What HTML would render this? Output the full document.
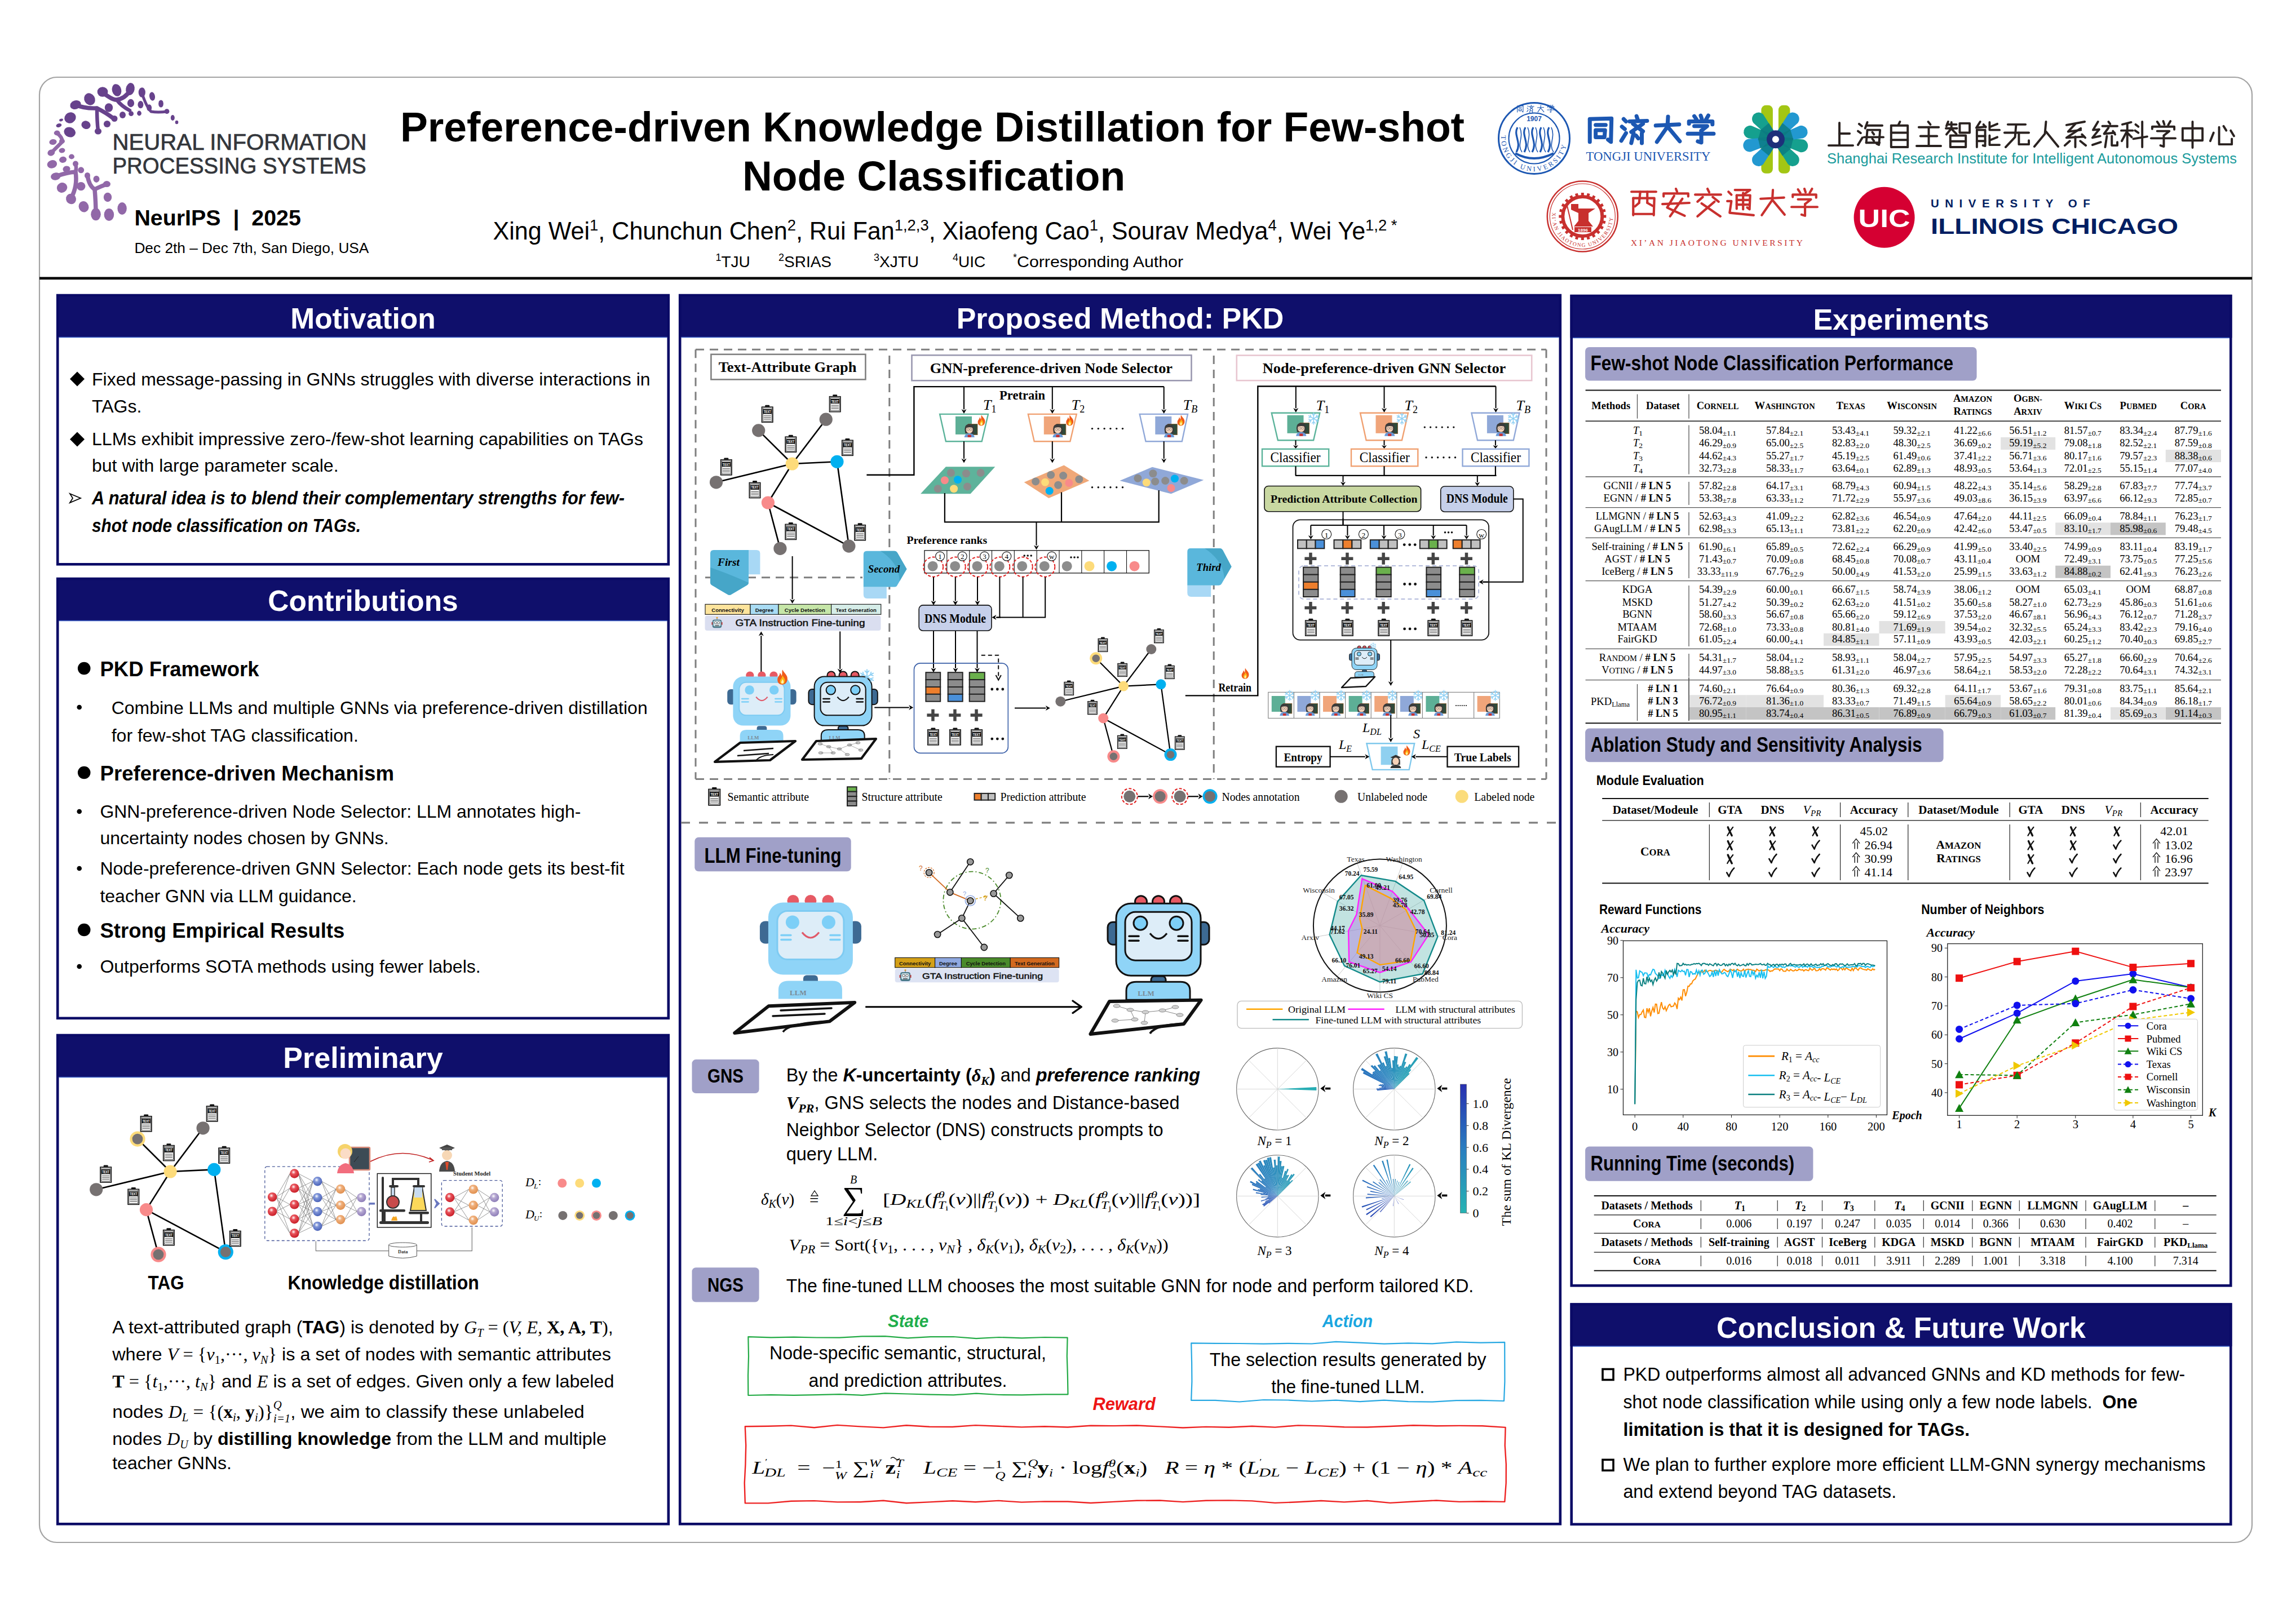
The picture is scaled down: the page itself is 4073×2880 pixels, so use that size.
<!DOCTYPE html>
<html><head><meta charset="utf-8"><title>PKD Poster</title>
<style>
html,body{margin:0;padding:0;background:#fff;}
svg{display:block;font-family:'Liberation Sans',sans-serif;}
</style></head>
<body>
<svg width="4073" height="2880" viewBox="0 0 4073 2880">
<rect x="0" y="0" width="4073" height="2880" fill="#fff"/>
<rect x="70.0" y="137.0" width="3925.0" height="2600.0" fill="#fff" stroke="#a3a3a3" stroke-width="2.2" rx="31"/>
<rect x="70.0" y="491.5" width="3925.0" height="4.6" fill="#000"/>
<ellipse cx="207.0" cy="160.0" rx="8.2" ry="11.0" fill="#67428c" transform="rotate(-15 207.0 160.0)" />
<ellipse cx="231.0" cy="158.0" rx="7.7" ry="11.0" fill="#67428c" transform="rotate(10 231.0 158.0)" />
<ellipse cx="182.0" cy="163.0" rx="9.4" ry="8.8" fill="#67428c" />
<ellipse cx="159.0" cy="176.0" rx="9.4" ry="11.0" fill="#67428c" transform="rotate(-30 159.0 176.0)" />
<ellipse cx="134.0" cy="186.0" rx="9.9" ry="7.7" fill="#67428c" transform="rotate(-20 134.0 186.0)" />
<ellipse cx="124.5" cy="209.0" rx="10.5" ry="9.4" fill="#67428c" transform="rotate(-30 124.5 209.0)" />
<ellipse cx="152.5" cy="221.7" rx="8.2" ry="7.2" fill="#67428c" transform="rotate(20 152.5 221.7)" />
<ellipse cx="123.7" cy="234.5" rx="10.5" ry="8.8" fill="#67428c" transform="rotate(20 123.7 234.5)" />
<ellipse cx="193.0" cy="191.0" rx="7.2" ry="7.7" fill="#67428c" />
<ellipse cx="190.0" cy="220.0" rx="6.1" ry="6.1" fill="#67428c" />
<ellipse cx="174.0" cy="233.0" rx="6.1" ry="5.5" fill="#67428c" />
<ellipse cx="203.0" cy="210.5" rx="5.5" ry="5.5" fill="#67428c" />
<ellipse cx="217.5" cy="204.0" rx="5.5" ry="6.1" fill="#67428c" />
<ellipse cx="232.0" cy="183.0" rx="6.1" ry="7.2" fill="#67428c" />
<ellipse cx="232.6" cy="201.7" rx="4.4" ry="4.4" fill="#67428c" />
<ellipse cx="249.4" cy="185.7" rx="5.0" ry="6.6" fill="#67428c" />
<ellipse cx="247.0" cy="201.0" rx="3.9" ry="4.4" fill="#67428c" />
<ellipse cx="251.8" cy="164.0" rx="6.1" ry="8.8" fill="#67428c" />
<ellipse cx="264.7" cy="191.3" rx="4.4" ry="6.1" fill="#67428c" />
<ellipse cx="270.0" cy="171.0" rx="5.0" ry="7.7" fill="#67428c" transform="rotate(-10 270.0 171.0)" />
<ellipse cx="285.5" cy="184.0" rx="4.4" ry="6.6" fill="#67428c" />
<ellipse cx="296.0" cy="197.7" rx="4.4" ry="4.4" fill="#67428c" />
<ellipse cx="306.3" cy="209.0" rx="3.5" ry="5.0" fill="#67428c" />
<ellipse cx="313.5" cy="217.0" rx="2.8" ry="3.3" fill="#67428c" />
<ellipse cx="108.5" cy="213.0" rx="3.5" ry="2.2" fill="#67428c" transform="rotate(-15 108.5 213.0)" />
<ellipse cx="104.4" cy="222.5" rx="5.0" ry="3.3" fill="#67428c" transform="rotate(-15 104.4 222.5)" />
<ellipse cx="101.2" cy="236.0" rx="5.5" ry="4.4" fill="#9168a8" />
<ellipse cx="94.0" cy="252.0" rx="6.6" ry="5.0" fill="#9168a8" transform="rotate(-10 94.0 252.0)" />
<ellipse cx="110.0" cy="250.5" rx="5.0" ry="4.4" fill="#9168a8" />
<ellipse cx="110.0" cy="267.0" rx="5.5" ry="4.4" fill="#9168a8" transform="rotate(-10 110.0 267.0)" />
<ellipse cx="90.8" cy="271.0" rx="6.6" ry="5.5" fill="#9168a8" transform="rotate(-20 90.8 271.0)" />
<ellipse cx="127.0" cy="278.0" rx="5.0" ry="4.4" fill="#9168a8" />
<ellipse cx="111.6" cy="283.4" rx="6.6" ry="5.5" fill="#9168a8" transform="rotate(-10 111.6 283.4)" />
<ellipse cx="92.4" cy="291.4" rx="8.8" ry="7.2" fill="#9168a8" transform="rotate(-15 92.4 291.4)" />
<ellipse cx="134.0" cy="290.6" rx="5.0" ry="5.0" fill="#9168a8" />
<ellipse cx="118.0" cy="300.0" rx="6.6" ry="5.5" fill="#9168a8" transform="rotate(-10 118.0 300.0)" />
<ellipse cx="143.7" cy="301.8" rx="5.5" ry="5.5" fill="#9168a8" />
<ellipse cx="98.8" cy="313.0" rx="8.8" ry="6.6" fill="#9168a8" transform="rotate(-10 98.8 313.0)" />
<ellipse cx="155.0" cy="311.4" rx="5.0" ry="5.5" fill="#9168a8" />
<ellipse cx="171.0" cy="317.8" rx="5.5" ry="6.1" fill="#9168a8" />
<ellipse cx="143.7" cy="330.6" rx="7.7" ry="7.7" fill="#9168a8" />
<ellipse cx="110.0" cy="333.0" rx="9.4" ry="8.8" fill="#9168a8" transform="rotate(-30 110.0 333.0)" />
<ellipse cx="189.4" cy="326.6" rx="6.6" ry="5.5" fill="#9168a8" />
<ellipse cx="191.0" cy="350.0" rx="7.2" ry="8.2" fill="#9168a8" />
<ellipse cx="126.0" cy="353.0" rx="8.8" ry="9.4" fill="#9168a8" transform="rotate(-30 126.0 353.0)" />
<ellipse cx="148.5" cy="366.7" rx="8.8" ry="9.9" fill="#9168a8" transform="rotate(-20 148.5 366.7)" />
<ellipse cx="170.0" cy="380.3" rx="8.8" ry="11.0" fill="#9168a8" />
<ellipse cx="193.4" cy="381.0" rx="8.8" ry="11.0" fill="#9168a8" />
<ellipse cx="216.6" cy="370.0" rx="8.2" ry="11.0" fill="#9168a8" />
<path d="M182,164 Q200,178 207,177 Q222,175 231,160" fill="none" stroke="#67428c" stroke-width="7.5" stroke-linecap="round"/>
<path d="M207,177 Q215,188 230,196" fill="none" stroke="#67428c" stroke-width="6.5" stroke-linecap="round"/>
<path d="M134,186 Q150,193 172,192 Q188,200 201,210" fill="none" stroke="#67428c" stroke-width="7.5" stroke-linecap="round"/>
<path d="M172,192 Q172,215 174,232" fill="none" stroke="#67428c" stroke-width="6.5" stroke-linecap="round"/>
<path d="M252,166 Q260,190 268,198 Q280,200 296,198" fill="none" stroke="#67428c" stroke-width="5" stroke-linecap="round"/>
<path d="M101,236 Q112,245 110,252 Q100,262 92,270" fill="none" stroke="#9168a8" stroke-width="6.5" stroke-linecap="round"/>
<path d="M99,313 Q118,306 134,305 Q138,330 126,352" fill="none" stroke="#9168a8" stroke-width="7.5" stroke-linecap="round"/>
<path d="M134,290 Q136,298 134,305" fill="none" stroke="#9168a8" stroke-width="6.5" stroke-linecap="round"/>
<path d="M155,311 Q158,330 168,336 Q180,330 189,327" fill="none" stroke="#9168a8" stroke-width="7.5" stroke-linecap="round"/>
<path d="M168,336 Q170,360 170,380" fill="none" stroke="#9168a8" stroke-width="7.5" stroke-linecap="round"/>
<text x="199.5" y="266.3" font-size="40.2" fill="#33363b" textLength="451" lengthAdjust="spacingAndGlyphs" stroke="#33363b" stroke-width="0.7">NEURAL INFORMATION</text>
<text x="199.5" y="307.8" font-size="40.2" fill="#33363b" textLength="450" lengthAdjust="spacingAndGlyphs" stroke="#33363b" stroke-width="0.7">PROCESSING SYSTEMS</text>
<text x="238.4" y="400.3" font-size="39.4" font-weight="bold" textLength="295.5" lengthAdjust="spacingAndGlyphs" xml:space="preserve">NeurIPS  |  2025</text>
<text x="238.4" y="448.7" font-size="25" textLength="416" lengthAdjust="spacingAndGlyphs">Dec 2th – Dec 7th, San Diego, USA</text>
<text x="710.0" y="251.0" font-size="73.2" font-weight="bold" textLength="1888" lengthAdjust="spacingAndGlyphs">Preference-driven Knowledge Distillation for Few-shot</text>
<text x="1317.0" y="338.3" font-size="73.2" font-weight="bold">Node Classification</text>
<text x="874.5" y="424.9" font-size="44" textLength="1604" lengthAdjust="spacingAndGlyphs">Xing Wei<tspan font-size="28" dy="-16">1</tspan><tspan dy="16">, Chunchun Chen</tspan><tspan font-size="28" dy="-16">2</tspan><tspan dy="16">, Rui Fan</tspan><tspan font-size="28" dy="-16">1,2,3</tspan><tspan dy="16">, Xiaofeng Cao</tspan><tspan font-size="28" dy="-16">1</tspan><tspan dy="16">, Sourav Medya</tspan><tspan font-size="28" dy="-16">4</tspan><tspan dy="16">, Wei Ye</tspan><tspan font-size="28" dy="-16">1,2 *</tspan></text>
<text x="1269.5" y="473.9" font-size="28"><tspan font-size="18" dy="-11">1</tspan><tspan dy="11">TJU</tspan></text>
<text x="1381" y="473.9" font-size="28"><tspan font-size="18" dy="-11">2</tspan><tspan dy="11">SRIAS</tspan></text>
<text x="1550" y="473.9" font-size="28"><tspan font-size="18" dy="-11">3</tspan><tspan dy="11">XJTU</tspan></text>
<text x="1690" y="473.9" font-size="28"><tspan font-size="18" dy="-11">4</tspan><tspan dy="11">UIC</tspan></text>
<text x="1797" y="473.9" font-size="28"><tspan font-size="18" dy="-11">*</tspan><tspan dy="11" textLength="295" lengthAdjust="spacingAndGlyphs">Corresponding Author</tspan></text>
<circle cx="2721.5" cy="245.5" r="63.0" fill="none" stroke="#1c57b2" stroke-width="3" />
<circle cx="2721.5" cy="245.5" r="45.0" fill="none" stroke="#1c57b2" stroke-width="2.2" />
<defs><path id="tjarc" d="M2665.0,230.4 A58.5,58.5 0 1 0 2778.0,230.4"/><path id="xjarc" d="M2756.6,365.5 A54,54 0 1 0 2858.0,365.5"/></defs>
<text font-family="'Liberation Serif',serif" font-size="12.5" fill="#1c57b2" letter-spacing="3.4"><textPath href="#tjarc" startOffset="10">TONGJI UNIVERSITY</textPath></text>
<text x="2721.5" y="215.0" font-size="12" font-weight="bold" fill="#1c57b2" text-anchor="middle">1907</text>
<path d="M2692,226 C2684,240 2700,252 2690,270" fill="none" stroke="#1c57b2" stroke-width="3.2" />
<path d="M2696,226 C2704,244 2690,256 2700,270" fill="none" stroke="#1c57b2" stroke-width="1.6" />
<path d="M2706,226 C2698,240 2714,252 2704,270" fill="none" stroke="#1c57b2" stroke-width="3.2" />
<path d="M2710,226 C2718,244 2704,256 2714,270" fill="none" stroke="#1c57b2" stroke-width="1.6" />
<path d="M2720,226 C2712,240 2728,252 2718,270" fill="none" stroke="#1c57b2" stroke-width="3.2" />
<path d="M2724,226 C2732,244 2718,256 2728,270" fill="none" stroke="#1c57b2" stroke-width="1.6" />
<path d="M2734,226 C2726,240 2742,252 2732,270" fill="none" stroke="#1c57b2" stroke-width="3.2" />
<path d="M2738,226 C2746,244 2732,256 2742,270" fill="none" stroke="#1c57b2" stroke-width="1.6" />
<path d="M2748,226 C2740,240 2756,252 2746,270" fill="none" stroke="#1c57b2" stroke-width="3.2" />
<path d="M2752,226 C2760,244 2746,256 2756,270" fill="none" stroke="#1c57b2" stroke-width="1.6" />
<path d="M2688,272 Q2721,290 2756,272" fill="none" stroke="#1c57b2" stroke-width="4" />
<g transform="translate(2690.0,186.0) scale(0.1400)" fill="none" stroke="#1c57b2" stroke-width="8" stroke-linecap="round" stroke-linejoin="round"><path d="M12,16 L12,92"/><path d="M12,14 L86,12 L84,92 L74,84"/><path d="M32,34 L66,34"/><path d="M32,52 L64,52 L62,76 L32,76 Z"/></g>
<g transform="translate(2708.0,186.0) scale(0.1400)" fill="none" stroke="#1c57b2" stroke-width="8" stroke-linecap="round" stroke-linejoin="round"><path d="M14,14 L22,22"/><path d="M8,40 L18,48"/><path d="M6,88 L22,62"/><path d="M58,4 L62,16"/><path d="M34,22 L94,20"/><path d="M46,30 L80,56"/><path d="M80,30 L40,58"/><path d="M48,62 L40,96"/><path d="M76,62 L76,96"/><path d="M56,70 L64,80"/></g>
<g transform="translate(2726.0,186.0) scale(0.1400)" fill="none" stroke="#1c57b2" stroke-width="8" stroke-linecap="round" stroke-linejoin="round"><path d="M10,36 L90,32"/><path d="M52,6 L50,40 L14,92"/><path d="M52,42 L92,90"/></g>
<g transform="translate(2744.0,186.0) scale(0.1400)" fill="none" stroke="#1c57b2" stroke-width="8" stroke-linecap="round" stroke-linejoin="round"><path d="M28,4 L36,16"/><path d="M50,2 L54,14"/><path d="M76,2 L68,16"/><path d="M10,30 L10,22 L90,22 L90,32"/><path d="M28,38 L72,38 L52,54"/><path d="M6,64 L94,64"/><path d="M52,54 L52,94 L40,90"/></g>
<g transform="translate(2814.0,204.0) scale(0.5200)" fill="none" stroke="#1c57b2" stroke-width="13.5" stroke-linecap="round" stroke-linejoin="round"><path d="M12,16 L12,92"/><path d="M12,14 L86,12 L84,92 L74,84"/><path d="M32,34 L66,34"/><path d="M32,52 L64,52 L62,76 L32,76 Z"/></g>
<g transform="translate(2873.0,204.0) scale(0.5200)" fill="none" stroke="#1c57b2" stroke-width="13.5" stroke-linecap="round" stroke-linejoin="round"><path d="M14,14 L22,22"/><path d="M8,40 L18,48"/><path d="M6,88 L22,62"/><path d="M58,4 L62,16"/><path d="M34,22 L94,20"/><path d="M46,30 L80,56"/><path d="M80,30 L40,58"/><path d="M48,62 L40,96"/><path d="M76,62 L76,96"/><path d="M56,70 L64,80"/></g>
<g transform="translate(2932.0,204.0) scale(0.5200)" fill="none" stroke="#1c57b2" stroke-width="13.5" stroke-linecap="round" stroke-linejoin="round"><path d="M10,36 L90,32"/><path d="M52,6 L50,40 L14,92"/><path d="M52,42 L92,90"/></g>
<g transform="translate(2991.0,204.0) scale(0.5200)" fill="none" stroke="#1c57b2" stroke-width="13.5" stroke-linecap="round" stroke-linejoin="round"><path d="M28,4 L36,16"/><path d="M50,2 L54,14"/><path d="M76,2 L68,16"/><path d="M10,30 L10,22 L90,22 L90,32"/><path d="M28,38 L72,38 L52,54"/><path d="M6,64 L94,64"/><path d="M52,54 L52,94 L40,90"/></g>
<text x="2813.5" y="284.7" font-size="22.5" font-family="'Liberation Serif', serif" fill="#1c57b2" textLength="221" lengthAdjust="spacingAndGlyphs">TONGJI UNIVERSITY</text>
<rect x="3124.4" y="186.8" width="20.5" height="121.0" fill="#a3c614" rx="8"/>
<rect x="3154.9" y="186.8" width="20.5" height="121.0" fill="#a3c614" rx="8"/>
<path d="M3153.7,244.1 L3128.2,203.5 A11.5,11.5 0 0 0 3110.6,218.3 L3146.1,250.5 Z" fill="#15a08e" />
<path d="M3151.3,242.5 L3107.4,223.2 A11.5,11.5 0 0 0 3101.1,245.3 L3148.5,252.1 Z" fill="#15a08e" />
<path d="M3148.8,242.4 L3101.0,246.8 A11.5,11.5 0 0 0 3106.2,269.2 L3151.0,252.2 Z" fill="#2298d0" />
<path d="M3146.1,244.1 L3110.6,276.3 A11.5,11.5 0 0 0 3128.2,291.1 L3153.7,250.5 Z" fill="#2298d0" />
<path d="M3146.1,250.5 L3171.6,291.1 A11.5,11.5 0 0 0 3189.2,276.3 L3153.7,244.1 Z" fill="#15a08e" />
<path d="M3148.7,252.2 L3193.2,269.9 A11.5,11.5 0 0 0 3198.8,247.6 L3151.1,242.4 Z" fill="#15a08e" />
<path d="M3151.3,252.1 L3198.7,245.3 A11.5,11.5 0 0 0 3192.4,223.2 L3148.5,242.5 Z" fill="#2298d0" />
<path d="M3153.7,250.5 L3189.2,218.3 A11.5,11.5 0 0 0 3171.6,203.5 L3146.1,244.1 Z" fill="#2298d0" />
<path d="M3154.1,243.8 L3137.9,218.2 L3123.3,230.4 L3145.7,250.8 Z" fill="#0b7a80" opacity="0.8"/>
<path d="M3151.4,242.0 L3123.7,229.9 L3118.4,248.2 L3148.4,252.6 Z" fill="#0b7a80" opacity="0.8"/>
<path d="M3148.7,241.9 L3118.5,244.8 L3122.8,263.3 L3151.1,252.7 Z" fill="#0b7a80" opacity="0.8"/>
<path d="M3145.7,243.8 L3123.3,264.2 L3137.9,276.4 L3154.1,250.8 Z" fill="#0b7a80" opacity="0.8"/>
<path d="M3145.7,250.8 L3161.9,276.4 L3176.5,264.2 L3154.1,243.8 Z" fill="#0b7a80" opacity="0.8"/>
<path d="M3148.6,252.6 L3176.7,263.8 L3181.3,245.3 L3151.2,242.0 Z" fill="#0b7a80" opacity="0.8"/>
<path d="M3151.4,252.6 L3181.4,248.2 L3176.1,229.9 L3148.4,242.0 Z" fill="#0b7a80" opacity="0.8"/>
<path d="M3154.1,250.8 L3176.5,230.4 L3161.9,218.2 L3145.7,243.8 Z" fill="#0b7a80" opacity="0.8"/>
<circle cx="3149.9" cy="247.3" r="16.0" fill="#1d2f7a" />
<circle cx="3149.9" cy="247.3" r="6.0" fill="#fff" />
<g transform="translate(3241.0,214.0) scale(0.4900)" fill="none" stroke="#2a2220" stroke-width="8" stroke-linecap="round" stroke-linejoin="round"><path d="M45,8 L45,90"/><path d="M45,47 L82,47"/><path d="M6,90 L94,90"/></g>
<g transform="translate(3293.0,214.0) scale(0.4900)" fill="none" stroke="#2a2220" stroke-width="8" stroke-linecap="round" stroke-linejoin="round"><path d="M10,12 L20,20"/><path d="M6,38 L16,45"/><path d="M6,88 L22,62"/><path d="M40,6 L32,28"/><path d="M36,18 L94,18"/><path d="M40,34 L86,34 L82,88 L74,84"/><path d="M40,34 L36,80"/><path d="M28,60 L98,60"/><path d="M36,80 L84,80"/><path d="M58,42 L64,50"/><path d="M58,66 L64,74"/></g>
<g transform="translate(3345.0,214.0) scale(0.4900)" fill="none" stroke="#2a2220" stroke-width="8" stroke-linecap="round" stroke-linejoin="round"><path d="M52,4 L46,16"/><path d="M20,18 L80,18 L80,96"/><path d="M20,18 L20,96 L80,96"/><path d="M20,44 L80,44"/><path d="M20,70 L80,70"/></g>
<g transform="translate(3397.0,214.0) scale(0.4900)" fill="none" stroke="#2a2220" stroke-width="8" stroke-linecap="round" stroke-linejoin="round"><path d="M48,4 L56,14"/><path d="M14,24 L86,24"/><path d="M20,56 L80,56"/><path d="M6,92 L94,92"/><path d="M50,24 L50,92"/></g>
<g transform="translate(3449.0,214.0) scale(0.4900)" fill="none" stroke="#2a2220" stroke-width="8" stroke-linecap="round" stroke-linejoin="round"><path d="M14,4 L8,20"/><path d="M10,14 L44,14"/><path d="M6,28 L46,28"/><path d="M26,6 L26,28 L8,50"/><path d="M28,32 L44,48"/><path d="M56,10 L92,10 L92,44 L56,44 Z"/><path d="M22,54 L78,54 L78,96 L22,96 Z"/><path d="M22,75 L78,75"/></g>
<g transform="translate(3501.0,214.0) scale(0.4900)" fill="none" stroke="#2a2220" stroke-width="8" stroke-linecap="round" stroke-linejoin="round"><path d="M24,4 L10,26 L44,22"/><path d="M36,14 L44,24"/><path d="M12,34 L12,96"/><path d="M12,34 L42,34 L42,92 L34,90"/><path d="M12,56 L42,56"/><path d="M12,74 L42,74"/><path d="M58,6 L58,34 L94,34"/><path d="M86,12 L62,22"/><path d="M58,54 L58,88 L94,88"/><path d="M86,60 L62,70"/></g>
<g transform="translate(3553.0,214.0) scale(0.4900)" fill="none" stroke="#2a2220" stroke-width="8" stroke-linecap="round" stroke-linejoin="round"><path d="M18,14 L82,14"/><path d="M6,44 L94,44"/><path d="M48,14 L44,60 L10,96"/><path d="M58,44 L58,86 L94,86 L94,72"/></g>
<g transform="translate(3605.0,214.0) scale(0.4900)" fill="none" stroke="#2a2220" stroke-width="8" stroke-linecap="round" stroke-linejoin="round"><path d="M50,4 L46,48 L8,94"/><path d="M50,40 L94,94"/></g>
<g transform="translate(3657.0,214.0) scale(0.4900)" fill="none" stroke="#2a2220" stroke-width="8" stroke-linecap="round" stroke-linejoin="round"><path d="M84,4 L18,16"/><path d="M50,12 L24,40 L70,34"/><path d="M70,28 L18,62 L82,58"/><path d="M74,50 L86,62"/><path d="M50,58 L50,96"/><path d="M30,74 L12,90"/><path d="M68,74 L88,90"/></g>
<g transform="translate(3709.0,214.0) scale(0.4900)" fill="none" stroke="#2a2220" stroke-width="8" stroke-linecap="round" stroke-linejoin="round"><path d="M26,4 L8,34 L30,32"/><path d="M30,32 L6,62 L34,56"/><path d="M6,88 L36,78"/><path d="M64,4 L70,12"/><path d="M42,20 L96,20"/><path d="M64,26 L48,48 L86,44"/><path d="M80,38 L88,50"/><path d="M58,56 L52,96"/><path d="M76,56 L76,90 L96,90 L96,78"/></g>
<g transform="translate(3761.0,214.0) scale(0.4900)" fill="none" stroke="#2a2220" stroke-width="8" stroke-linecap="round" stroke-linejoin="round"><path d="M40,6 L8,14"/><path d="M4,36 L46,36"/><path d="M26,10 L26,96"/><path d="M24,40 L6,74"/><path d="M28,46 L42,60"/><path d="M56,14 L66,22"/><path d="M54,36 L66,44"/><path d="M48,66 L98,58"/><path d="M80,4 L80,96"/></g>
<g transform="translate(3813.0,214.0) scale(0.4900)" fill="none" stroke="#2a2220" stroke-width="8" stroke-linecap="round" stroke-linejoin="round"><path d="M28,4 L36,16"/><path d="M50,2 L54,14"/><path d="M76,2 L68,16"/><path d="M10,30 L10,22 L90,22 L90,32"/><path d="M28,38 L72,38 L52,54"/><path d="M6,64 L94,64"/><path d="M52,54 L52,94 L40,90"/></g>
<g transform="translate(3865.0,214.0) scale(0.4900)" fill="none" stroke="#2a2220" stroke-width="8" stroke-linecap="round" stroke-linejoin="round"><path d="M14,28 L86,28 L86,70"/><path d="M14,28 L14,72 L86,72"/><path d="M50,4 L50,98"/></g>
<g transform="translate(3917.0,214.0) scale(0.4900)" fill="none" stroke="#2a2220" stroke-width="8" stroke-linecap="round" stroke-linejoin="round"><path d="M20,44 L8,74"/><path d="M40,24 L40,86 L86,86 L86,66"/><path d="M56,20 L66,36"/><path d="M82,36 L94,56"/></g>
<text x="3241.0" y="290.3" font-size="25.5" fill="#1a9b9c" textLength="727" lengthAdjust="spacingAndGlyphs">Shanghai Research Institute for Intelligent Autonomous Systems</text>
<circle cx="2807.3" cy="384.0" r="62.5" fill="none" stroke="#c8302e" stroke-width="2.5" />
<circle cx="2807.3" cy="384.0" r="58.0" fill="none" stroke="#c8302e" stroke-width="1.2" />
<line x1="2841.3" y1="384.0" x2="2849.3" y2="384.0" stroke="#c8302e" stroke-width="5" />
<line x1="2840.1" y1="392.8" x2="2847.9" y2="394.9" stroke="#c8302e" stroke-width="5" />
<line x1="2836.7" y1="401.0" x2="2843.7" y2="405.0" stroke="#c8302e" stroke-width="5" />
<line x1="2831.3" y1="408.0" x2="2837.0" y2="413.7" stroke="#c8302e" stroke-width="5" />
<line x1="2824.3" y1="413.4" x2="2828.3" y2="420.4" stroke="#c8302e" stroke-width="5" />
<line x1="2816.1" y1="416.8" x2="2818.2" y2="424.6" stroke="#c8302e" stroke-width="5" />
<line x1="2807.3" y1="418.0" x2="2807.3" y2="426.0" stroke="#c8302e" stroke-width="5" />
<line x1="2798.5" y1="416.8" x2="2796.4" y2="424.6" stroke="#c8302e" stroke-width="5" />
<line x1="2790.3" y1="413.4" x2="2786.3" y2="420.4" stroke="#c8302e" stroke-width="5" />
<line x1="2783.3" y1="408.0" x2="2777.6" y2="413.7" stroke="#c8302e" stroke-width="5" />
<line x1="2777.9" y1="401.0" x2="2770.9" y2="405.0" stroke="#c8302e" stroke-width="5" />
<line x1="2774.5" y1="392.8" x2="2766.7" y2="394.9" stroke="#c8302e" stroke-width="5" />
<line x1="2773.3" y1="384.0" x2="2765.3" y2="384.0" stroke="#c8302e" stroke-width="5" />
<line x1="2774.5" y1="375.2" x2="2766.7" y2="373.1" stroke="#c8302e" stroke-width="5" />
<line x1="2777.9" y1="367.0" x2="2770.9" y2="363.0" stroke="#c8302e" stroke-width="5" />
<line x1="2783.3" y1="360.0" x2="2777.6" y2="354.3" stroke="#c8302e" stroke-width="5" />
<line x1="2790.3" y1="354.6" x2="2786.3" y2="347.6" stroke="#c8302e" stroke-width="5" />
<line x1="2798.5" y1="351.2" x2="2796.4" y2="343.4" stroke="#c8302e" stroke-width="5" />
<line x1="2807.3" y1="350.0" x2="2807.3" y2="342.0" stroke="#c8302e" stroke-width="5" />
<line x1="2816.1" y1="351.2" x2="2818.2" y2="343.4" stroke="#c8302e" stroke-width="5" />
<line x1="2824.3" y1="354.6" x2="2828.3" y2="347.6" stroke="#c8302e" stroke-width="5" />
<line x1="2831.3" y1="360.0" x2="2837.0" y2="354.3" stroke="#c8302e" stroke-width="5" />
<line x1="2836.7" y1="367.0" x2="2843.7" y2="363.0" stroke="#c8302e" stroke-width="5" />
<line x1="2840.1" y1="375.2" x2="2847.9" y2="373.1" stroke="#c8302e" stroke-width="5" />
<circle cx="2807.3" cy="384.0" r="35.0" fill="none" stroke="#c8302e" stroke-width="6" />
<path d="M2787,362 L2800,362 L2800,370 L2830,370 L2818,378 L2818,392 L2826,402 L2792,402 L2800,392 L2800,378 L2787,372 Z" fill="#c8302e" />
<rect x="2793.0" y="403.0" width="30.0" height="9.0" fill="#c8302e"/>
<text x="2808.0" y="411.0" font-size="8" font-weight="bold" fill="#fff" text-anchor="middle">1896</text>
<line x1="2780.0" y1="365.0" x2="2790.0" y2="408.0" stroke="#c8302e" stroke-width="2" />
<text font-family="'Liberation Serif',serif" font-size="9.5" fill="#c8302e" letter-spacing="1.6"><textPath href="#xjarc" startOffset="12">XI’AN JIAOTONG UNIVERSITY</textPath></text>
<g transform="translate(2890.0,334.0) scale(0.5200)" fill="none" stroke="#c8302e" stroke-width="8" stroke-linecap="round" stroke-linejoin="round"><path d="M8,12 L92,12"/><path d="M38,12 L34,50"/><path d="M62,12 L62,50"/><path d="M14,34 L14,92"/><path d="M14,34 L86,34 L84,92"/><path d="M14,88 L84,88"/><path d="M34,50 L20,62"/><path d="M62,50 L80,60"/></g>
<g transform="translate(2947.0,334.0) scale(0.5200)" fill="none" stroke="#c8302e" stroke-width="8" stroke-linecap="round" stroke-linejoin="round"><path d="M50,2 L54,12"/><path d="M8,28 L8,18 L92,18 L92,28"/><path d="M44,26 L20,66 L80,94"/><path d="M72,36 L30,96"/><path d="M4,54 L96,50"/></g>
<g transform="translate(3004.0,334.0) scale(0.5200)" fill="none" stroke="#c8302e" stroke-width="8" stroke-linecap="round" stroke-linejoin="round"><path d="M48,2 L54,14"/><path d="M6,22 L94,22"/><path d="M32,30 L14,46"/><path d="M66,30 L86,46"/><path d="M72,46 L14,96"/><path d="M28,52 L92,96"/></g>
<g transform="translate(3061.0,334.0) scale(0.5200)" fill="none" stroke="#c8302e" stroke-width="8" stroke-linecap="round" stroke-linejoin="round"><path d="M32,6 L84,6 L64,20"/><path d="M38,24 L38,70"/><path d="M38,24 L84,24 L82,72 L74,66"/><path d="M38,40 L82,40"/><path d="M38,56 L82,56"/><path d="M60,16 L60,72"/><path d="M10,12 L20,22"/><path d="M6,44 L20,44 L14,84 L96,92"/></g>
<g transform="translate(3118.0,334.0) scale(0.5200)" fill="none" stroke="#c8302e" stroke-width="8" stroke-linecap="round" stroke-linejoin="round"><path d="M10,36 L90,32"/><path d="M52,6 L50,40 L14,92"/><path d="M52,42 L92,90"/></g>
<g transform="translate(3175.0,334.0) scale(0.5200)" fill="none" stroke="#c8302e" stroke-width="8" stroke-linecap="round" stroke-linejoin="round"><path d="M28,4 L36,16"/><path d="M50,2 L54,14"/><path d="M76,2 L68,16"/><path d="M10,30 L10,22 L90,22 L90,32"/><path d="M28,38 L72,38 L52,54"/><path d="M6,64 L94,64"/><path d="M52,54 L52,94 L40,90"/></g>
<text x="2893.0" y="436.0" font-size="15.5" font-family="'Liberation Serif', serif" fill="#c8302e" letter-spacing="3.5">XI’AN JIAOTONG UNIVERSITY</text>
<circle cx="3342.6" cy="385.8" r="54.0" fill="#d50032" />
<text x="3342.6" y="403.0" font-size="44" font-weight="bold" fill="#fff" text-anchor="middle" textLength="92" lengthAdjust="spacingAndGlyphs">UIC</text>
<text x="3425.0" y="367.5" font-size="20.5" font-weight="bold" fill="#001e62" letter-spacing="10.5">UNIVERSITY OF</text>
<text x="3425.0" y="414.5" font-size="38.5" font-weight="bold" fill="#001e62" textLength="439" lengthAdjust="spacingAndGlyphs">ILLINOIS CHICAGO</text>
<rect x="100.0" y="522.0" width="1088.0" height="76.5" fill="#0f0f6b"/>
<rect x="102.2" y="524.0" width="1083.6" height="477.3" fill="none" stroke="#0a0a66" stroke-width="4.6"/>
<line x1="104.6" y1="598.5" x2="1183.4" y2="598.5" stroke="#3c62c8" stroke-width="1.6" />
<text x="644.0" y="582.8" font-size="52" font-weight="bold" fill="#fff" text-anchor="middle" textLength="257.5" lengthAdjust="spacingAndGlyphs">Motivation</text>
<rect x="100.0" y="1025.0" width="1088.0" height="76.5" fill="#0f0f6b"/>
<rect x="102.2" y="1027.0" width="1083.6" height="779.8" fill="none" stroke="#0a0a66" stroke-width="4.6"/>
<line x1="104.6" y1="1101.5" x2="1183.4" y2="1101.5" stroke="#3c62c8" stroke-width="1.6" />
<text x="644.0" y="1084.0" font-size="52" font-weight="bold" fill="#fff" text-anchor="middle" textLength="337.5" lengthAdjust="spacingAndGlyphs">Contributions</text>
<rect x="100.0" y="1835.0" width="1088.0" height="76.5" fill="#0f0f6b"/>
<rect x="102.2" y="1837.0" width="1083.6" height="867.3" fill="none" stroke="#0a0a66" stroke-width="4.6"/>
<line x1="104.6" y1="1911.5" x2="1183.4" y2="1911.5" stroke="#3c62c8" stroke-width="1.6" />
<text x="644.0" y="1894.5" font-size="52" font-weight="bold" fill="#fff" text-anchor="middle">Preliminary</text>
<rect x="1204.0" y="522.0" width="1566.0" height="76.5" fill="#0f0f6b"/>
<rect x="1206.2" y="524.0" width="1561.6" height="2180.3" fill="none" stroke="#0a0a66" stroke-width="4.6"/>
<line x1="1208.6" y1="598.5" x2="2765.4" y2="598.5" stroke="#3c62c8" stroke-width="1.6" />
<text x="1987.0" y="582.8" font-size="52" font-weight="bold" fill="#fff" text-anchor="middle">Proposed Method: PKD</text>
<rect x="2785.5" y="523.0" width="1174.0" height="76.5" fill="#0f0f6b"/>
<rect x="2787.7" y="525.0" width="1169.6" height="1756.3" fill="none" stroke="#0a0a66" stroke-width="4.6"/>
<line x1="2790.1" y1="599.5" x2="3954.9" y2="599.5" stroke="#3c62c8" stroke-width="1.6" />
<text x="3372.5" y="584.5" font-size="52" font-weight="bold" fill="#fff" text-anchor="middle">Experiments</text>
<rect x="2785.5" y="2312.5" width="1174.0" height="76.5" fill="#0f0f6b"/>
<rect x="2787.7" y="2314.5" width="1169.6" height="390.3" fill="none" stroke="#0a0a66" stroke-width="4.6"/>
<line x1="2790.1" y1="2389.0" x2="3954.9" y2="2389.0" stroke="#3c62c8" stroke-width="1.6" />
<text x="3372.5" y="2373.5" font-size="52" font-weight="bold" fill="#fff" text-anchor="middle">Conclusion &amp; Future Work</text>
<defs>
<symbol id="doc" viewBox="0 0 21 31" overflow="visible">
 <rect x="6.5" y="0" width="8" height="3" rx="1.2" fill="#111"/>
 <path d="M6.5,3 L10.5,6.5 L14.5,3" fill="none" stroke="#111" stroke-width="1.2"/>
 <rect x="0.8" y="3.4" width="19.4" height="27" fill="#fff" stroke="#111" stroke-width="1.6"/>
 <rect x="2.6" y="5.4" width="15.8" height="23" fill="none" stroke="#111" stroke-width="0.7"/>
 <rect x="2.6" y="7.2" width="15.8" height="8.6" fill="#111"/>
 <text x="10.5" y="14.3" font-size="6.6" font-weight="bold" fill="#fff" text-anchor="middle" textLength="13" lengthAdjust="spacingAndGlyphs">TEXT</text>
 <rect x="4" y="18.2" width="13" height="1.5" fill="#777"/>
 <rect x="4" y="21.2" width="13" height="1.5" fill="#777"/>
 <rect x="4" y="24.2" width="13" height="1.5" fill="#777"/>
</symbol>
<radialGradient id="gRed" cx="0.4" cy="0.35" r="0.65"><stop offset="0" stop-color="#fff"/><stop offset="0.35" stop-color="#e8525a"/><stop offset="1" stop-color="#c81e28"/></radialGradient>
<radialGradient id="gBlue" cx="0.4" cy="0.35" r="0.65"><stop offset="0" stop-color="#fff"/><stop offset="0.35" stop-color="#7f95d8"/><stop offset="1" stop-color="#4a62b8"/></radialGradient>
<radialGradient id="gOr" cx="0.4" cy="0.35" r="0.65"><stop offset="0" stop-color="#fff"/><stop offset="0.35" stop-color="#f0b07c"/><stop offset="1" stop-color="#e08f4e"/></radialGradient>
<radialGradient id="gPu" cx="0.4" cy="0.35" r="0.65"><stop offset="0" stop-color="#fff"/><stop offset="0.35" stop-color="#b6a8d2"/><stop offset="1" stop-color="#8d7db8"/></radialGradient>
</defs>
<path d="M137,659.5 L150,672.5 L137,685.5 L124,672.5 Z" fill="#000" />
<path d="M137,766.5 L150,779.5 L137,792.5 L124,779.5 Z" fill="#000" />
<text x="163.0" y="683.7" font-size="32" textLength="990.6" lengthAdjust="spacingAndGlyphs">Fixed message-passing in GNNs struggles with diverse interactions in</text>
<text x="163.0" y="731.8" font-size="32">TAGs.</text>
<text x="163.0" y="790.4" font-size="32" textLength="978" lengthAdjust="spacingAndGlyphs">LLMs exhibit impressive zero-/few-shot learning capabilities on TAGs</text>
<text x="163.0" y="837.4" font-size="32">but with large parameter scale.</text>
<path d="M124,876 L143,884 L124,892 L129,884 Z" fill="none" stroke="#000" stroke-width="1.8" />
<text x="163.0" y="895.0" font-size="32.5" font-weight="bold" font-style="italic" textLength="945" lengthAdjust="spacingAndGlyphs">A natural idea is to blend their complementary strengths for few-</text>
<text x="163.0" y="943.5" font-size="32.5" font-weight="bold" font-style="italic" textLength="477" lengthAdjust="spacingAndGlyphs">shot node classification on TAGs.</text>
<circle cx="149.2" cy="1186.0" r="11.3" fill="#000" />
<text x="177.5" y="1200.0" font-size="36.5" font-weight="bold" textLength="282" lengthAdjust="spacingAndGlyphs">PKD Framework</text>
<circle cx="149.2" cy="1371.0" r="11.3" fill="#000" />
<text x="177.5" y="1385.0" font-size="36.5" font-weight="bold" textLength="521.5" lengthAdjust="spacingAndGlyphs">Preference-driven Mechanism</text>
<circle cx="149.2" cy="1650.0" r="11.3" fill="#000" />
<text x="177.5" y="1664.0" font-size="36.5" font-weight="bold" textLength="433.8" lengthAdjust="spacingAndGlyphs">Strong Empirical Results</text>
<circle cx="140.7" cy="1255.0" r="4.3" fill="#000" />
<circle cx="140.7" cy="1440.0" r="4.3" fill="#000" />
<circle cx="140.7" cy="1541.0" r="4.3" fill="#000" />
<circle cx="140.7" cy="1715.0" r="4.3" fill="#000" />
<text x="197.7" y="1267.0" font-size="32" textLength="951" lengthAdjust="spacingAndGlyphs">Combine LLMs and multiple GNNs via preference-driven distillation</text>
<text x="197.7" y="1315.5" font-size="32">for few-shot TAG classification.</text>
<text x="177.4" y="1451.2" font-size="32" textLength="853" lengthAdjust="spacingAndGlyphs">GNN-preference-driven Node Selector: LLM annotates high-</text>
<text x="177.4" y="1498.0" font-size="32">uncertainty nodes chosen by GNNs.</text>
<text x="177.4" y="1552.3" font-size="32">Node-preference-driven GNN Selector: Each node gets its best-fit</text>
<text x="177.4" y="1600.6" font-size="32">teacher GNN via LLM guidance.</text>
<text x="177.4" y="1726.3" font-size="32">Outperforms SOTA methods using fewer labels.</text>
<line x1="302.1" y1="2079.0" x2="170.7" y2="2110.8" stroke="#000" stroke-width="2.6" />
<line x1="302.1" y1="2079.0" x2="244.0" y2="2021.1" stroke="#000" stroke-width="2.6" />
<line x1="302.1" y1="2079.0" x2="360.1" y2="2001.8" stroke="#000" stroke-width="2.6" />
<line x1="302.1" y1="2079.0" x2="379.8" y2="2075.4" stroke="#000" stroke-width="2.6" />
<line x1="302.1" y1="2079.0" x2="259.5" y2="2146.6" stroke="#000" stroke-width="2.6" />
<line x1="259.5" y1="2146.6" x2="281.0" y2="2226.1" stroke="#000" stroke-width="2.6" />
<line x1="259.5" y1="2146.6" x2="400.3" y2="2221.6" stroke="#000" stroke-width="2.6" />
<line x1="379.8" y1="2075.4" x2="400.3" y2="2221.6" stroke="#000" stroke-width="2.6" />
<circle cx="302.1" cy="2079.0" r="11.6" fill="#fddb7a" />
<circle cx="170.7" cy="2110.8" r="11.6" fill="#767171" />
<circle cx="244.0" cy="2021.1" r="13.6" fill="#fddb7a" />
<circle cx="244.0" cy="2021.1" r="9.4" fill="#767171" />
<circle cx="360.1" cy="2001.8" r="11.6" fill="#767171" />
<circle cx="379.8" cy="2075.4" r="11.6" fill="#00b0f0" />
<circle cx="259.5" cy="2146.6" r="11.6" fill="#f88a8a" />
<circle cx="281.0" cy="2226.1" r="13.6" fill="#f88a8a" />
<circle cx="281.0" cy="2226.1" r="9.4" fill="#767171" />
<circle cx="400.3" cy="2221.6" r="13.6" fill="#00b0f0" />
<circle cx="400.3" cy="2221.6" r="9.4" fill="#767171" />
<use href="#doc" x="248.7" y="1977.4" width="21.0" height="31.0"/>
<use href="#doc" x="365.7" y="1959.5" width="21.0" height="31.0"/>
<use href="#doc" x="288.9" y="2029.2" width="21.0" height="31.0"/>
<use href="#doc" x="387.2" y="2033.7" width="21.0" height="31.0"/>
<use href="#doc" x="177.2" y="2067.6" width="21.0" height="31.0"/>
<use href="#doc" x="226.3" y="2106.9" width="21.0" height="31.0"/>
<use href="#doc" x="288.9" y="2179.3" width="21.0" height="31.0"/>
<use href="#doc" x="406.8" y="2181.1" width="21.0" height="31.0"/>
<text x="262.6" y="2288.0" font-size="35" font-weight="bold" textLength="64" lengthAdjust="spacingAndGlyphs">TAG</text>
<text x="510.4" y="2288.0" font-size="35" font-weight="bold" textLength="339.4" lengthAdjust="spacingAndGlyphs">Knowledge distillation</text>
<rect x="469.8" y="2070.2" width="185.2" height="131.3" fill="none" stroke="#4a5a9a" stroke-width="1.3" rx="4" stroke-dasharray="5,4"/>
<rect x="783.4" y="2094.7" width="107.8" height="81.3" fill="none" stroke="#4a5a9a" stroke-width="1.3" rx="4" stroke-dasharray="5,4"/>
<line x1="490.1" y1="2124.1" x2="514.3" y2="2082.5" stroke="#6a6a6a" stroke-width="0.7" />
<line x1="490.1" y1="2124.1" x2="514.3" y2="2108.4" stroke="#6a6a6a" stroke-width="0.7" />
<line x1="490.1" y1="2124.1" x2="514.3" y2="2137.4" stroke="#6a6a6a" stroke-width="0.7" />
<line x1="490.1" y1="2124.1" x2="514.3" y2="2163.3" stroke="#6a6a6a" stroke-width="0.7" />
<line x1="490.1" y1="2124.1" x2="514.3" y2="2188.4" stroke="#6a6a6a" stroke-width="0.7" />
<line x1="490.1" y1="2149.6" x2="514.3" y2="2082.5" stroke="#6a6a6a" stroke-width="0.7" />
<line x1="490.1" y1="2149.6" x2="514.3" y2="2108.4" stroke="#6a6a6a" stroke-width="0.7" />
<line x1="490.1" y1="2149.6" x2="514.3" y2="2137.4" stroke="#6a6a6a" stroke-width="0.7" />
<line x1="490.1" y1="2149.6" x2="514.3" y2="2163.3" stroke="#6a6a6a" stroke-width="0.7" />
<line x1="490.1" y1="2149.6" x2="514.3" y2="2188.4" stroke="#6a6a6a" stroke-width="0.7" />
<line x1="529.3" y1="2082.5" x2="555.3" y2="2096.2" stroke="#6a6a6a" stroke-width="0.7" />
<line x1="529.3" y1="2082.5" x2="555.3" y2="2125.1" stroke="#6a6a6a" stroke-width="0.7" />
<line x1="529.3" y1="2082.5" x2="555.3" y2="2150.0" stroke="#6a6a6a" stroke-width="0.7" />
<line x1="529.3" y1="2082.5" x2="555.3" y2="2176.0" stroke="#6a6a6a" stroke-width="0.7" />
<line x1="529.3" y1="2108.4" x2="555.3" y2="2096.2" stroke="#6a6a6a" stroke-width="0.7" />
<line x1="529.3" y1="2108.4" x2="555.3" y2="2125.1" stroke="#6a6a6a" stroke-width="0.7" />
<line x1="529.3" y1="2108.4" x2="555.3" y2="2150.0" stroke="#6a6a6a" stroke-width="0.7" />
<line x1="529.3" y1="2108.4" x2="555.3" y2="2176.0" stroke="#6a6a6a" stroke-width="0.7" />
<line x1="529.3" y1="2137.4" x2="555.3" y2="2096.2" stroke="#6a6a6a" stroke-width="0.7" />
<line x1="529.3" y1="2137.4" x2="555.3" y2="2125.1" stroke="#6a6a6a" stroke-width="0.7" />
<line x1="529.3" y1="2137.4" x2="555.3" y2="2150.0" stroke="#6a6a6a" stroke-width="0.7" />
<line x1="529.3" y1="2137.4" x2="555.3" y2="2176.0" stroke="#6a6a6a" stroke-width="0.7" />
<line x1="529.3" y1="2163.3" x2="555.3" y2="2096.2" stroke="#6a6a6a" stroke-width="0.7" />
<line x1="529.3" y1="2163.3" x2="555.3" y2="2125.1" stroke="#6a6a6a" stroke-width="0.7" />
<line x1="529.3" y1="2163.3" x2="555.3" y2="2150.0" stroke="#6a6a6a" stroke-width="0.7" />
<line x1="529.3" y1="2163.3" x2="555.3" y2="2176.0" stroke="#6a6a6a" stroke-width="0.7" />
<line x1="529.3" y1="2188.4" x2="555.3" y2="2096.2" stroke="#6a6a6a" stroke-width="0.7" />
<line x1="529.3" y1="2188.4" x2="555.3" y2="2125.1" stroke="#6a6a6a" stroke-width="0.7" />
<line x1="529.3" y1="2188.4" x2="555.3" y2="2150.0" stroke="#6a6a6a" stroke-width="0.7" />
<line x1="529.3" y1="2188.4" x2="555.3" y2="2176.0" stroke="#6a6a6a" stroke-width="0.7" />
<line x1="570.3" y1="2096.2" x2="596.1" y2="2110.0" stroke="#6a6a6a" stroke-width="0.7" />
<line x1="570.3" y1="2096.2" x2="596.1" y2="2138.8" stroke="#6a6a6a" stroke-width="0.7" />
<line x1="570.3" y1="2096.2" x2="596.1" y2="2164.3" stroke="#6a6a6a" stroke-width="0.7" />
<line x1="570.3" y1="2125.1" x2="596.1" y2="2110.0" stroke="#6a6a6a" stroke-width="0.7" />
<line x1="570.3" y1="2125.1" x2="596.1" y2="2138.8" stroke="#6a6a6a" stroke-width="0.7" />
<line x1="570.3" y1="2125.1" x2="596.1" y2="2164.3" stroke="#6a6a6a" stroke-width="0.7" />
<line x1="570.3" y1="2150.0" x2="596.1" y2="2110.0" stroke="#6a6a6a" stroke-width="0.7" />
<line x1="570.3" y1="2150.0" x2="596.1" y2="2138.8" stroke="#6a6a6a" stroke-width="0.7" />
<line x1="570.3" y1="2150.0" x2="596.1" y2="2164.3" stroke="#6a6a6a" stroke-width="0.7" />
<line x1="570.3" y1="2176.0" x2="596.1" y2="2110.0" stroke="#6a6a6a" stroke-width="0.7" />
<line x1="570.3" y1="2176.0" x2="596.1" y2="2138.8" stroke="#6a6a6a" stroke-width="0.7" />
<line x1="570.3" y1="2176.0" x2="596.1" y2="2164.3" stroke="#6a6a6a" stroke-width="0.7" />
<line x1="611.1" y1="2110.0" x2="633.3" y2="2125.1" stroke="#6a6a6a" stroke-width="0.7" />
<line x1="611.1" y1="2110.0" x2="633.3" y2="2150.0" stroke="#6a6a6a" stroke-width="0.7" />
<line x1="611.1" y1="2138.8" x2="633.3" y2="2125.1" stroke="#6a6a6a" stroke-width="0.7" />
<line x1="611.1" y1="2138.8" x2="633.3" y2="2150.0" stroke="#6a6a6a" stroke-width="0.7" />
<line x1="611.1" y1="2164.3" x2="633.3" y2="2125.1" stroke="#6a6a6a" stroke-width="0.7" />
<line x1="611.1" y1="2164.3" x2="633.3" y2="2150.0" stroke="#6a6a6a" stroke-width="0.7" />
<circle cx="483.1" cy="2124.1" r="8.2" fill="url(#gRed)" />
<circle cx="483.1" cy="2149.6" r="8.2" fill="url(#gRed)" />
<circle cx="522.3" cy="2082.5" r="8.2" fill="url(#gRed)" />
<circle cx="522.3" cy="2108.4" r="8.2" fill="url(#gRed)" />
<circle cx="522.3" cy="2137.4" r="8.2" fill="url(#gRed)" />
<circle cx="522.3" cy="2163.3" r="8.2" fill="url(#gRed)" />
<circle cx="522.3" cy="2188.4" r="8.2" fill="url(#gRed)" />
<circle cx="563.3" cy="2096.2" r="8.2" fill="url(#gBlue)" />
<circle cx="563.3" cy="2125.1" r="8.2" fill="url(#gBlue)" />
<circle cx="563.3" cy="2150.0" r="8.2" fill="url(#gBlue)" />
<circle cx="563.3" cy="2176.0" r="8.2" fill="url(#gBlue)" />
<circle cx="604.1" cy="2110.0" r="8.2" fill="url(#gOr)" />
<circle cx="604.1" cy="2138.8" r="8.2" fill="url(#gOr)" />
<circle cx="604.1" cy="2164.3" r="8.2" fill="url(#gOr)" />
<circle cx="641.3" cy="2125.1" r="8.2" fill="url(#gPu)" />
<circle cx="641.3" cy="2150.0" r="8.2" fill="url(#gPu)" />
<line x1="805.1" y1="2125.0" x2="831.7" y2="2110.4" stroke="#6a6a6a" stroke-width="0.7" />
<line x1="805.1" y1="2125.0" x2="831.7" y2="2138.8" stroke="#6a6a6a" stroke-width="0.7" />
<line x1="805.1" y1="2125.0" x2="831.7" y2="2165.2" stroke="#6a6a6a" stroke-width="0.7" />
<line x1="805.1" y1="2150.5" x2="831.7" y2="2110.4" stroke="#6a6a6a" stroke-width="0.7" />
<line x1="805.1" y1="2150.5" x2="831.7" y2="2138.8" stroke="#6a6a6a" stroke-width="0.7" />
<line x1="805.1" y1="2150.5" x2="831.7" y2="2165.2" stroke="#6a6a6a" stroke-width="0.7" />
<line x1="846.7" y1="2110.4" x2="869.1" y2="2125.0" stroke="#6a6a6a" stroke-width="0.7" />
<line x1="846.7" y1="2110.4" x2="869.1" y2="2150.5" stroke="#6a6a6a" stroke-width="0.7" />
<line x1="846.7" y1="2138.8" x2="869.1" y2="2125.0" stroke="#6a6a6a" stroke-width="0.7" />
<line x1="846.7" y1="2138.8" x2="869.1" y2="2150.5" stroke="#6a6a6a" stroke-width="0.7" />
<line x1="846.7" y1="2165.2" x2="869.1" y2="2125.0" stroke="#6a6a6a" stroke-width="0.7" />
<line x1="846.7" y1="2165.2" x2="869.1" y2="2150.5" stroke="#6a6a6a" stroke-width="0.7" />
<circle cx="798.1" cy="2125.0" r="8.2" fill="url(#gRed)" />
<circle cx="798.1" cy="2150.5" r="8.2" fill="url(#gRed)" />
<circle cx="839.7" cy="2110.4" r="8.2" fill="url(#gOr)" />
<circle cx="839.7" cy="2138.8" r="8.2" fill="url(#gOr)" />
<circle cx="839.7" cy="2165.2" r="8.2" fill="url(#gOr)" />
<circle cx="877.1" cy="2125.0" r="8.2" fill="url(#gPu)" />
<circle cx="877.1" cy="2150.5" r="8.2" fill="url(#gPu)" />
<rect x="656.0" y="2134.0" width="9.0" height="3.6" fill="#6a78c0"/>
<path d="M771,2128 L779,2135.8 L771,2143.6 L775,2135.8 Z" fill="#6a78c0" stroke="#6a78c0" stroke-width="2" />
<rect x="669.3" y="2082.5" width="95.5" height="95.5" fill="#fff" stroke="#111" stroke-width="1.4"/>
<rect x="677.0" y="2088.0" width="4.0" height="82.0" fill="#333" rx="2"/>
<path d="M697,2106 L697,2092 L742,2092 L742,2106" fill="none" stroke="#333" stroke-width="4" />
<rect x="690.0" y="2103.0" width="17.0" height="4.0" fill="#333" rx="2"/>
<rect x="732.0" y="2103.0" width="22.0" height="4.0" fill="#333" rx="2"/>
<rect x="694.0" y="2107.0" width="6.0" height="16.0" fill="#c9dcf0" stroke="#333" stroke-width="1.5"/>
<circle cx="697.0" cy="2133.0" r="11.0" fill="#c84b4b" stroke="#333" stroke-width="2" />
<path d="M735,2107 L749,2107 L756,2148 L728,2148 Z" fill="#fbd85a" stroke="#333" stroke-width="2" />
<rect x="735.0" y="2107.0" width="14.0" height="18.0" fill="#c9dcf0"/>
<rect x="673.0" y="2146.0" width="46.0" height="4.5" fill="#333" rx="2"/>
<rect x="725.0" y="2150.0" width="36.0" height="4.5" fill="#333" rx="2"/>
<path d="M694,2166 Q697,2155 701,2160 Q703,2154 705,2166 Z" fill="#f5a623" />
<rect x="673.0" y="2167.0" width="88.0" height="5.0" fill="#333" rx="2.5"/>
<rect x="680.0" y="2150.0" width="4.0" height="18.0" fill="#333"/>
<rect x="745.0" y="2154.0" width="4.0" height="14.0" fill="#333"/>
<rect x="620.0" y="2036.0" width="36.0" height="40.0" fill="#3d4b55" stroke="#d98a78" stroke-width="2.5" rx="2"/>
<circle cx="612.0" cy="2043.0" r="13.0" fill="#f6d36b" />
<circle cx="613.0" cy="2047.0" r="9.5" fill="#fbdcc6" />
<path d="M598,2082 Q600,2066 613,2064 Q626,2066 628,2082 Z" fill="#f26d7d" />
<line x1="628.0" y1="2062.0" x2="636.0" y2="2052.0" stroke="#222" stroke-width="1" />
<path d="M779,2037 L793,2031 L807,2037 L793,2043 Z" fill="#444" />
<rect x="784.0" y="2036.0" width="18.0" height="5.0" fill="#555"/>
<circle cx="793.0" cy="2050.0" r="9.0" fill="#f7d7b5" />
<path d="M779,2079 Q780,2062 793,2060 Q806,2062 807,2079 Z" fill="#4a4a4a" />
<path d="M790,2062 L796,2062 L794,2076 L792,2076 Z" fill="#e04a2a" />
<text x="837.0" y="2085.9" font-size="10.5" font-family="'Liberation Serif', serif" font-weight="bold" fill="#222" text-anchor="middle">Student Model</text>
<path d="M657,2061 Q712,2033 768,2059" fill="none" stroke="#c02020" stroke-width="1.6" />
<path d="M762,2054 L769,2059.5 L761,2062" fill="none" stroke="#c02020" stroke-width="1.6" />
<path d="M560.4,2202.5 L560.4,2219.7 L689.7,2219.7" fill="none" stroke="#777" stroke-width="1.2" />
<path d="M739.3,2219.7 L837.3,2219.7 L837.3,2178" fill="none" stroke="#777" stroke-width="1.2" />
<path d="M689.7,2209 L689.7,2229 Q714.5,2236 739.3,2229 L739.3,2209" fill="#fff" stroke="#555" stroke-width="1" />
<ellipse cx="714.5" cy="2209.0" rx="24.8" ry="4.0" fill="#fff" stroke="#555" stroke-width="1"/>
<text x="714.8" y="2224.0" font-size="8.5" font-family="'Liberation Serif', serif" font-weight="bold" fill="#333" text-anchor="middle">Data</text>
<text x="932.0" y="2104.5" font-size="22" font-family="'Liberation Serif', serif" font-style="italic">D</text>
<text x="947.0" y="2109.0" font-size="13" font-family="'Liberation Serif', serif" font-style="italic">L</text>
<text x="955.0" y="2103.0" font-size="18" font-family="'Liberation Serif', serif">:</text>
<circle cx="997.3" cy="2099.5" r="8.0" fill="#f88a8a" />
<circle cx="1028.2" cy="2099.5" r="8.0" fill="#fddb7a" />
<circle cx="1058.0" cy="2099.5" r="8.0" fill="#00b0f0" />
<text x="932.0" y="2161.9" font-size="22" font-family="'Liberation Serif', serif" font-style="italic">D</text>
<text x="947.0" y="2166.4" font-size="13" font-family="'Liberation Serif', serif" font-style="italic">U</text>
<text x="957.0" y="2160.4" font-size="18" font-family="'Liberation Serif', serif">:</text>
<circle cx="998.4" cy="2156.9" r="8.0" fill="#767171" />
<circle cx="1028.2" cy="2156.9" r="9.0" fill="#fddb7a" />
<circle cx="1028.2" cy="2156.9" r="6.2" fill="#767171" />
<circle cx="1058.0" cy="2156.9" r="9.0" fill="#f88a8a" />
<circle cx="1058.0" cy="2156.9" r="6.2" fill="#767171" />
<circle cx="1117.6" cy="2156.9" r="9.0" fill="#00b0f0" />
<circle cx="1117.6" cy="2156.9" r="6.2" fill="#767171" />
<circle cx="1087.8" cy="2156.9" r="8.0" fill="#767171" />
<text x="199.2" y="2365.6" font-size="32" textLength="888.6" lengthAdjust="spacingAndGlyphs" xml:space="preserve">A text-attributed graph (<tspan font-weight="bold">TAG</tspan>) is denoted by <tspan font-family="'Liberation Serif',serif" font-style="italic">G</tspan><tspan font-family="'Liberation Serif',serif" font-style="italic" font-size="20" dy="6">T</tspan><tspan dy="-6" font-family="'Liberation Serif',serif"> = (</tspan><tspan font-family="'Liberation Serif',serif" font-style="italic">V, E, </tspan><tspan font-family="'Liberation Serif',serif" font-weight="bold">X, A, T</tspan><tspan font-family="'Liberation Serif',serif">)</tspan>,</text>
<text x="199.2" y="2414.4" font-size="32" textLength="884.8" lengthAdjust="spacingAndGlyphs" xml:space="preserve">where <tspan font-family="'Liberation Serif',serif" font-style="italic">V</tspan><tspan font-family="'Liberation Serif',serif"> = {</tspan><tspan font-family="'Liberation Serif',serif" font-style="italic">v</tspan><tspan font-family="'Liberation Serif',serif" font-size="20" dy="6">1</tspan><tspan font-family="'Liberation Serif',serif" dy="-6">,···, </tspan><tspan font-family="'Liberation Serif',serif" font-style="italic">v</tspan><tspan font-family="'Liberation Serif',serif" font-style="italic" font-size="20" dy="6">N</tspan><tspan font-family="'Liberation Serif',serif" dy="-6">}</tspan> is a set of nodes with semantic attributes</text>
<text x="199.2" y="2461.6" font-size="32" textLength="890.2" lengthAdjust="spacingAndGlyphs" xml:space="preserve"><tspan font-family="'Liberation Serif',serif" font-weight="bold">T</tspan><tspan font-family="'Liberation Serif',serif"> = {</tspan><tspan font-family="'Liberation Serif',serif" font-style="italic">t</tspan><tspan font-family="'Liberation Serif',serif" font-size="20" dy="6">1</tspan><tspan font-family="'Liberation Serif',serif" dy="-6">,···, </tspan><tspan font-family="'Liberation Serif',serif" font-style="italic">t</tspan><tspan font-family="'Liberation Serif',serif" font-style="italic" font-size="20" dy="6">N</tspan><tspan font-family="'Liberation Serif',serif" dy="-6">}</tspan> and <tspan font-family="'Liberation Serif',serif" font-style="italic">E</tspan> is a set of edges. Given only a few labeled</text>
<text x="199.2" y="2515.8" font-size="32" textLength="837.6" lengthAdjust="spacingAndGlyphs" xml:space="preserve">nodes <tspan font-family="'Liberation Serif',serif" font-style="italic">D</tspan><tspan font-family="'Liberation Serif',serif" font-style="italic" font-size="20" dy="6">L</tspan><tspan font-family="'Liberation Serif',serif" dy="-6"> = {(</tspan><tspan font-family="'Liberation Serif',serif" font-weight="bold">x</tspan><tspan font-family="'Liberation Serif',serif" font-style="italic" font-size="20" dy="6">i</tspan><tspan font-family="'Liberation Serif',serif" dy="-6">, </tspan><tspan font-family="'Liberation Serif',serif" font-weight="bold">y</tspan><tspan font-family="'Liberation Serif',serif" font-style="italic" font-size="20" dy="6">i</tspan><tspan font-family="'Liberation Serif',serif" dy="-6">)}</tspan><tspan font-family="'Liberation Serif',serif" font-style="italic" font-size="20" dy="-16">Q</tspan><tspan font-family="'Liberation Serif',serif" font-style="italic" font-size="20" dx="-14" dy="24">i=1</tspan><tspan dy="-8">, we aim to classify these unlabeled</tspan></text>
<text x="199.2" y="2563.5" font-size="32" textLength="876.7" lengthAdjust="spacingAndGlyphs" xml:space="preserve">nodes <tspan font-family="'Liberation Serif',serif" font-style="italic">D</tspan><tspan font-family="'Liberation Serif',serif" font-style="italic" font-size="20" dy="6">U</tspan><tspan dy="-6"> by </tspan><tspan font-weight="bold">distilling knowledge</tspan> from the LLM and multiple</text>
<text x="199.2" y="2606.9" font-size="32" xml:space="preserve">teacher GNNs.</text>
<defs>
<symbol id="teacher" viewBox="0 0 30 30" overflow="visible">
 <rect x="11" y="3" width="19" height="22" fill="#2f4a3a" stroke="#8a5a2a" stroke-width="1"/>
 <path d="M4,15 Q3,3 14,3 Q24,3 23,15 L23,22 L5,22 Z" fill="#3a3a3a"/>
 <ellipse cx="13.5" cy="14" rx="7" ry="8" fill="#f6d2b8"/>
 <path d="M6.5,11 Q9,5 14,5.5 Q19,6 20.5,11 Q15,8 6.5,11 Z" fill="#3a3a3a"/>
 <circle cx="10.8" cy="14" r="2.3" fill="none" stroke="#777" stroke-width="0.8"/>
 <circle cx="16.4" cy="14" r="2.3" fill="none" stroke="#777" stroke-width="0.8"/>
 <path d="M3,30 Q4,22 13.5,22 Q23,22 24,30 Z" fill="#6a9ad8"/>
 <rect x="10" y="25" width="7" height="5" fill="#c83030"/>
</symbol>
<symbol id="student" viewBox="0 0 30 30" overflow="visible">
 <path d="M4,8 L15,3 L26,8 L15,12 Z" fill="#333"/>
 <path d="M6,17 Q5,8 15,8 Q25,8 24,17 L24,23 L6,23 Z" fill="#3a3a3a"/>
 <ellipse cx="15" cy="16" rx="6.5" ry="7.5" fill="#f6d2b8"/>
 <path d="M4,30 Q5,23 15,23 Q25,23 26,30 Z" fill="#333"/>
</symbol>
<symbol id="fire" viewBox="0 0 20 24" overflow="visible">
 <path d="M10,0 C13,6 19,9 18,16 C17,22 13,24 10,24 C5,24 2,21 2,16 C2,11 6,10 6,5 C8,7 8,9 9,10 C10,6 9,3 10,0 Z" fill="#f05a1a"/>
 <path d="M10,9 C12,13 15,15 14,19 C13,22 12,23 10,23 C7,23 6,21 6,19 C6,16 8,15 9,13 Z" fill="#fdb813"/>
 <path d="M10,15 C11,17 12,18 12,20 C12,22 11,22.5 10,22.5 C8.5,22.5 8,21.5 8,20.5 C8,19 9.5,18 10,15 Z" fill="#fff3b0"/>
</symbol>
<symbol id="snow" viewBox="-12 -12 24 24" overflow="visible">
 <g stroke="#8fd0f4" stroke-width="1.6" stroke-linecap="round" fill="none">
  <path d="M0,-11 L0,11 M-9.5,-5.5 L9.5,5.5 M-9.5,5.5 L9.5,-5.5"/>
  <path d="M-3,-9 L0,-6 L3,-9 M-3,9 L0,6 L3,9 M-9.3,-1.6 L-5.2,-3 L-6.3,-7.2 M9.3,1.6 L5.2,3 L6.3,7.2 M-9.3,1.6 L-5.2,3 L-6.3,7.2 M9.3,-1.6 L5.2,-3 L6.3,-7.2"/>
 </g>
</symbol>
<symbol id="robot" viewBox="0 0 24 24" overflow="visible">
 <circle cx="12" cy="2.5" r="1.6" fill="#f0a020"/>
 <rect x="11.3" y="3" width="1.4" height="3" fill="#888"/>
 <rect x="3" y="6" width="18" height="16" rx="4" fill="#4a7a8a"/>
 <rect x="5" y="8" width="14" height="11" rx="3" fill="#cfe6ee"/>
 <circle cx="9" cy="12" r="2.2" fill="#fff" stroke="#333" stroke-width="0.8"/>
 <circle cx="15" cy="12" r="2.2" fill="#fff" stroke="#333" stroke-width="0.8"/>
 <path d="M11,14.5 L12,16 L13,14.5 Z" fill="#e04040"/>
 <rect x="8" y="17" width="8" height="1.6" fill="#555"/>
 <rect x="1.5" y="11" width="2" height="5" fill="#c04040"/>
 <rect x="20.5" y="11" width="2" height="5" fill="#c04040"/>
</symbol>
<linearGradient id="flagG" x1="0" y1="0" x2="0" y2="1"><stop offset="0" stop-color="#5ab7dc"/><stop offset="0.55" stop-color="#56b2d8"/><stop offset="1" stop-color="#44a2c8"/></linearGradient>
<linearGradient id="cbar" x1="0" y1="1" x2="0" y2="0"><stop offset="0" stop-color="#27b3b3"/><stop offset="0.5" stop-color="#2a7ec0"/><stop offset="1" stop-color="#2830b0"/></linearGradient>
</defs>
<line x1="1234.0" y1="620.2" x2="2743.0" y2="620.2" stroke="#7f7f7f" stroke-width="3" stroke-dasharray="15,10"/>
<line x1="1234.0" y1="1382.5" x2="2743.0" y2="1382.5" stroke="#7f7f7f" stroke-width="3" stroke-dasharray="15,10"/>
<line x1="1234.0" y1="620.2" x2="1234.0" y2="1382.5" stroke="#7f7f7f" stroke-width="3" stroke-dasharray="15,10"/>
<line x1="2743.0" y1="620.2" x2="2743.0" y2="1382.5" stroke="#7f7f7f" stroke-width="3" stroke-dasharray="15,10"/>
<line x1="1577.8" y1="631.0" x2="1577.8" y2="1382.5" stroke="#7f7f7f" stroke-width="3" stroke-dasharray="15,10"/>
<line x1="2153.2" y1="631.0" x2="2153.2" y2="1382.5" stroke="#7f7f7f" stroke-width="3" stroke-dasharray="15,10"/>
<line x1="1251.0" y1="1024.8" x2="1530.0" y2="1024.8" stroke="#7f7f7f" stroke-width="3" stroke-dasharray="15,10"/>
<line x1="1208.0" y1="1459.8" x2="2766.0" y2="1459.8" stroke="#7f7f7f" stroke-width="3.2" stroke-dasharray="16,16"/>
<rect x="1261.4" y="628.8" width="274.0" height="44.6" fill="#fff" stroke="#808080" stroke-width="2.6"/>
<text x="1274.7" y="660.4" font-size="26" font-family="'Liberation Serif', serif" font-weight="bold" textLength="244.7" lengthAdjust="spacingAndGlyphs">Text-Attribute Graph</text>
<line x1="1405.3" y1="823.0" x2="1270.5" y2="855.8" stroke="#000" stroke-width="2.6" />
<line x1="1405.3" y1="823.0" x2="1345.7" y2="763.9" stroke="#000" stroke-width="2.6" />
<line x1="1405.3" y1="823.0" x2="1465.2" y2="744.2" stroke="#000" stroke-width="2.6" />
<line x1="1405.3" y1="823.0" x2="1484.9" y2="819.3" stroke="#000" stroke-width="2.6" />
<line x1="1405.3" y1="823.0" x2="1362.4" y2="892.0" stroke="#000" stroke-width="2.6" />
<line x1="1362.4" y1="892.0" x2="1383.9" y2="973.3" stroke="#000" stroke-width="2.6" />
<line x1="1362.4" y1="892.0" x2="1505.9" y2="969.1" stroke="#000" stroke-width="2.6" />
<line x1="1484.9" y1="819.3" x2="1505.9" y2="969.1" stroke="#000" stroke-width="2.6" />
<circle cx="1405.3" cy="823.0" r="11.6" fill="#fddb7a" />
<circle cx="1270.5" cy="855.8" r="11.6" fill="#767171" />
<circle cx="1345.7" cy="763.9" r="11.6" fill="#767171" />
<circle cx="1465.2" cy="744.2" r="11.6" fill="#767171" />
<circle cx="1484.9" cy="819.3" r="11.6" fill="#00b0f0" />
<circle cx="1362.4" cy="892.0" r="11.6" fill="#f88a8a" />
<circle cx="1383.9" cy="973.3" r="11.6" fill="#767171" />
<circle cx="1505.9" cy="969.1" r="11.6" fill="#767171" />
<use href="#doc" x="1350.7" y="718.8" width="21.0" height="31.0"/>
<use href="#doc" x="1470.7" y="700.3" width="21.0" height="31.0"/>
<use href="#doc" x="1392.3" y="771.8" width="21.0" height="31.0"/>
<use href="#doc" x="1492.9" y="777.9" width="21.0" height="31.0"/>
<use href="#doc" x="1277.8" y="812.4" width="21.0" height="31.0"/>
<use href="#doc" x="1328.5" y="853.1" width="21.0" height="31.0"/>
<use href="#doc" x="1392.3" y="927.0" width="21.0" height="31.0"/>
<use href="#doc" x="1515.1" y="928.3" width="21.0" height="31.0"/>
<path d="M1537.4,842.7 L1621.4,842.7 L1621.4,686.1 L2064.7,686.1" fill="none" stroke="#000" stroke-width="2.4" />
<path d="M1320,976 L1342,976 Q1348.4,976 1348.4,982 L1348.4,1019.2 L1320,1019.2 Z" fill="#a8d8f5" />
<path d="M1266,976 L1328,976 L1328,1033 Q1328,1036.7 1325,1038.5 L1297,1055 Q1294,1056.7 1291,1055 L1263,1038.5 Q1260,1036.7 1260,1033 L1260,982 Q1260,976 1266,976 Z" fill="#5ab7dc" />
<path d="M1260,1007 Q1290,1017 1328,1034 L1328,1033 Q1328,1036.7 1325,1038.5 L1297,1055 Q1294,1056.7 1291,1055 L1263,1038.5 Q1260,1036.7 1260,1033 Z" fill="#46a6c8" />
<text x="1273.1" y="1004.4" font-size="19" font-family="'Liberation Serif', serif" font-weight="bold" font-style="italic" textLength="38.7" lengthAdjust="spacingAndGlyphs">First</text>
<line x1="1405.6" y1="987.0" x2="1405.6" y2="1063.5" stroke="#000" stroke-width="2" />
<path d="M1405.6,1071.0 L1401.1,1063.0 L1405.6,1065.4 L1410.1,1063.0 Z" fill="#000" />
<rect x="1251.0" y="1072.3" width="80.0" height="18.0" fill="#fde49c" stroke="#111" stroke-width="1.1"/>
<text x="1291.0" y="1086.0" font-size="9.6" font-weight="bold" fill="#111" text-anchor="middle">Connectivity</text>
<rect x="1331.0" y="1072.3" width="50.0" height="18.0" fill="#a9dcf4" stroke="#111" stroke-width="1.1"/>
<text x="1356.0" y="1086.0" font-size="9.6" font-weight="bold" fill="#111" text-anchor="middle">Degree</text>
<rect x="1381.0" y="1072.3" width="93.6" height="18.0" fill="#c6e6a8" stroke="#111" stroke-width="1.1"/>
<text x="1427.8" y="1086.0" font-size="9.6" font-weight="bold" fill="#111" text-anchor="middle">Cycle Detection</text>
<rect x="1474.6" y="1072.3" width="88.2" height="18.0" fill="#d6ede8" stroke="#111" stroke-width="1.1"/>
<text x="1518.7" y="1086.0" font-size="9.6" font-weight="bold" fill="#111" text-anchor="middle">Text Generation</text>
<rect x="1250.5" y="1092.5" width="312.0" height="26.4" fill="#dadef0" rx="4"/>
<use href="#robot" x="1261.0" y="1094.0" width="22.0" height="22.0"/>
<text x="1304.5" y="1111.0" font-size="16" fill="#111" textLength="230" lengthAdjust="spacingAndGlyphs" stroke="#111" stroke-width="0.5">GTA Instruction Fine-tuning</text>
<line x1="1350.3" y1="1192.3" x2="1350.3" y2="1128.0" stroke="#000" stroke-width="2" />
<path d="M1350.3,1120.5 L1354.8,1128.5 L1350.3,1126.1 L1345.8,1128.5 Z" fill="#000" />
<line x1="1490.2" y1="1120.5" x2="1490.2" y2="1187.0" stroke="#000" stroke-width="2" />
<path d="M1490.2,1194.5 L1485.7,1186.5 L1490.2,1188.9 L1494.7,1186.5 Z" fill="#000" />
<circle cx="1330.3" cy="1198.6" r="7.1" fill="#e65a64" />
<circle cx="1351.4" cy="1198.6" r="7.1" fill="#e65a64" />
<circle cx="1372.5" cy="1198.6" r="7.1" fill="#e65a64" />
<rect x="1290.2" y="1223.0" width="15.0" height="27.2" fill="#3d6a93" rx="6.12"/>
<rect x="1397.6" y="1223.0" width="15.0" height="27.2" fill="#3d6a93" rx="6.12"/>
<rect x="1300.4" y="1200.6" width="102.0" height="87.0" fill="#8fd4f7" rx="17.68"/>
<rect x="1311.3" y="1210.8" width="80.2" height="58.5" fill="#ddedf8" stroke="#7ecbf2" stroke-width="2.04" rx="12.24"/>
<circle cx="1329.6" cy="1224.4" r="8.2" fill="#7dcff7" />
<circle cx="1373.2" cy="1224.4" r="8.2" fill="#7dcff7" />
<path d="M1341.2,1236.6 Q1351.4,1249.6 1361.6,1236.6" fill="none" stroke="#e05a6a" stroke-width="2.176" />
<line x1="1316.0" y1="1240.0" x2="1327.6" y2="1240.0" stroke="#7dcff7" stroke-width="2.3120000000000003" stroke-linecap="round"/>
<line x1="1375.2" y1="1240.0" x2="1386.8" y2="1240.0" stroke="#7dcff7" stroke-width="2.3120000000000003" stroke-linecap="round"/>
<line x1="1316.0" y1="1245.5" x2="1327.6" y2="1245.5" stroke="#7dcff7" stroke-width="2.3120000000000003" stroke-linecap="round"/>
<line x1="1375.2" y1="1245.5" x2="1386.8" y2="1245.5" stroke="#7dcff7" stroke-width="2.3120000000000003" stroke-linecap="round"/>
<rect x="1342.6" y="1288.3" width="17.7" height="12.9" fill="#3d6a93" rx="4.08"/>
<path d="M1312.6,1316.9 L1312.6,1306.0 Q1312.6,1295.1 1324.9,1295.1 L1377.9,1295.1 Q1389.5,1295.1 1389.5,1306.0 L1389.5,1316.9 Z" fill="#8fd4f7" />
<text x="1336.4" y="1312.1" font-size="8.84" font-family="'Liberation Serif', serif" font-weight="bold" fill="#7a8a96" text-anchor="middle">LLM</text>
<path d="M1268,1352 L1313,1318 L1411,1315 L1366,1349 Z" fill="#fff" stroke="#111" stroke-width="4.2" stroke-linejoin="round"/>
<path d="M1319,1332 L1372,1328 M1308,1341 L1364,1337" fill="none" stroke="#111" stroke-width="2.6" />
<path d="M1340,1351 Q1347,1340 1372,1339" fill="none" stroke="#111" stroke-width="2.2" />
<use href="#fire" x="1377.0" y="1188.0" width="22.0" height="27.0"/>
<circle cx="1474.5" cy="1198.6" r="7.1" fill="#e65a64"  stroke="#111" stroke-width="2.0"/>
<circle cx="1495.6" cy="1198.6" r="7.1" fill="#e65a64"  stroke="#111" stroke-width="2.0"/>
<circle cx="1516.7" cy="1198.6" r="7.1" fill="#e65a64"  stroke="#111" stroke-width="2.0"/>
<rect x="1434.4" y="1223.0" width="15.0" height="27.2" fill="#3d6a93" rx="6.12"  stroke="#111" stroke-width="2.0"/>
<rect x="1541.8" y="1223.0" width="15.0" height="27.2" fill="#3d6a93" rx="6.12"  stroke="#111" stroke-width="2.0"/>
<rect x="1444.6" y="1200.6" width="102.0" height="87.0" fill="#8fd4f7" rx="17.68"  stroke="#111" stroke-width="2.0"/>
<rect x="1455.5" y="1210.8" width="80.2" height="58.5" fill="#ddedf8" stroke="#111" stroke-width="2.04" rx="12.24"/>
<circle cx="1473.8" cy="1224.4" r="8.2" fill="#7dcff7"  stroke="#111" stroke-width="2.0"/>
<circle cx="1517.4" cy="1224.4" r="8.2" fill="#7dcff7"  stroke="#111" stroke-width="2.0"/>
<path d="M1485.4,1236.6 Q1495.6,1249.6 1505.8,1236.6" fill="none" stroke="#111" stroke-width="2.176" />
<line x1="1460.2" y1="1240.0" x2="1471.8" y2="1240.0" stroke="#111" stroke-width="2.3120000000000003" stroke-linecap="round"/>
<line x1="1519.4" y1="1240.0" x2="1531.0" y2="1240.0" stroke="#111" stroke-width="2.3120000000000003" stroke-linecap="round"/>
<line x1="1460.2" y1="1245.5" x2="1471.8" y2="1245.5" stroke="#111" stroke-width="2.3120000000000003" stroke-linecap="round"/>
<line x1="1519.4" y1="1245.5" x2="1531.0" y2="1245.5" stroke="#111" stroke-width="2.3120000000000003" stroke-linecap="round"/>
<rect x="1486.8" y="1288.3" width="17.7" height="12.9" fill="#3d6a93" rx="4.08"  stroke="#111" stroke-width="2.0"/>
<path d="M1456.8,1316.9 L1456.8,1306.0 Q1456.8,1295.1 1469.1,1295.1 L1522.1,1295.1 Q1533.7,1295.1 1533.7,1306.0 L1533.7,1316.9 Z" fill="#8fd4f7" stroke="#111" stroke-width="2.04" />
<text x="1480.6" y="1312.1" font-size="8.84" font-family="'Liberation Serif', serif" font-weight="bold" fill="#7a8a96" text-anchor="middle">LLM</text>
<path d="M1423,1348 L1448,1315 L1554,1311 L1528,1346 Z" fill="#fff" stroke="#111" stroke-width="4.2" stroke-linejoin="round"/>
<ellipse cx="1455.0" cy="1320.0" rx="4.0" ry="2.2" fill="#ccc" stroke="#666" stroke-width="0.6"/>
<ellipse cx="1470.0" cy="1325.0" rx="4.0" ry="2.2" fill="#ccc" stroke="#666" stroke-width="0.6"/>
<ellipse cx="1489.0" cy="1329.0" rx="4.0" ry="2.2" fill="#ccc" stroke="#666" stroke-width="0.6"/>
<ellipse cx="1507.0" cy="1322.0" rx="4.0" ry="2.2" fill="#ccc" stroke="#666" stroke-width="0.6"/>
<ellipse cx="1522.0" cy="1318.0" rx="4.0" ry="2.2" fill="#ccc" stroke="#666" stroke-width="0.6"/>
<ellipse cx="1478.0" cy="1336.0" rx="4.0" ry="2.2" fill="#ccc" stroke="#666" stroke-width="0.6"/>
<ellipse cx="1456.0" cy="1336.0" rx="4.0" ry="2.2" fill="#ccc" stroke="#666" stroke-width="0.6"/>
<ellipse cx="1527.0" cy="1331.0" rx="4.0" ry="2.2" fill="#ccc" stroke="#666" stroke-width="0.6"/>
<ellipse cx="1503.0" cy="1339.0" rx="4.0" ry="2.2" fill="#ccc" stroke="#666" stroke-width="0.6"/>
<path d="M1455,1320 L1470,1325 L1489,1329 L1507,1322 L1522,1318 M1470,1325 L1478,1336 L1456,1336 M1489,1329 L1503,1339 M1507,1322 L1527,1331" fill="none" stroke="#777" stroke-width="0.6" />
<use href="#snow" x="1524.0" y="1187.0" width="28.0" height="28.0"/>
<line x1="1551.2" y1="1255.5" x2="1612.7" y2="1255.5" stroke="#000" stroke-width="2" />
<path d="M1620.2,1255.5 L1612.2,1260.0 L1614.6,1255.5 L1612.2,1251.0 Z" fill="#000" />
<rect x="1617.5" y="630.3" width="496.0" height="45.0" fill="#fff" stroke="#9a98b0" stroke-width="2.6"/>
<text x="1649.7" y="661.7" font-size="26" font-family="'Liberation Serif', serif" font-weight="bold" textLength="430.3" lengthAdjust="spacingAndGlyphs">GNN-preference-driven Node Selector</text>
<text x="1773.0" y="709.2" font-size="24" font-family="'Liberation Serif', serif" font-weight="bold" textLength="81" lengthAdjust="spacingAndGlyphs">Pretrain</text>
<line x1="1710.0" y1="686.1" x2="1710.0" y2="726.5" stroke="#000" stroke-width="2" />
<path d="M1710.0,734.0 L1705.5,726.0 L1710.0,728.4 L1714.5,726.0 Z" fill="#000" />
<text x="1744" y="727.2" font-family="'Liberation Serif',serif" font-style="italic" font-size="26">T<tspan font-size="18" dy="5" font-style="normal">1</tspan></text>
<path d="M1667.1,734.9 L1753.0,734.9 L1741.7,783.2 L1677.9,783.2 Z" fill="#fff" stroke="#5bb39a" stroke-width="2.4" stroke-linejoin="miter"/>
<rect x="1695.0" y="738.9" width="29.0" height="32.0" fill="#5daf96"/>
<use href="#teacher" x="1708.0" y="748.9" width="26.0" height="28.0"/>
<use href="#fire" x="1733.0" y="735.9" width="16.0" height="20.0"/>
<line x1="1710.0" y1="783.2" x2="1710.0" y2="814.0" stroke="#000" stroke-width="2" />
<path d="M1710.0,821.5 L1705.5,813.5 L1710.0,815.9 L1714.5,813.5 Z" fill="#000" />
<line x1="1866.8" y1="686.1" x2="1866.8" y2="726.5" stroke="#000" stroke-width="2" />
<path d="M1866.8,734.0 L1862.3,726.0 L1866.8,728.4 L1871.3,726.0 Z" fill="#000" />
<text x="1900.8" y="727.2" font-family="'Liberation Serif',serif" font-style="italic" font-size="26">T<tspan font-size="18" dy="5" font-style="normal">2</tspan></text>
<path d="M1823.9,734.9 L1909.7,734.9 L1898.4,783.2 L1834.7,783.2 Z" fill="#fff" stroke="#f0a070" stroke-width="2.4" stroke-linejoin="miter"/>
<rect x="1851.8" y="738.9" width="29.0" height="32.0" fill="#f0a57a"/>
<use href="#teacher" x="1864.8" y="748.9" width="26.0" height="28.0"/>
<use href="#fire" x="1889.7" y="735.9" width="16.0" height="20.0"/>
<line x1="1866.8" y1="783.2" x2="1866.8" y2="814.0" stroke="#000" stroke-width="2" />
<path d="M1866.8,821.5 L1862.3,813.5 L1866.8,815.9 L1871.3,813.5 Z" fill="#000" />
<line x1="2064.7" y1="686.1" x2="2064.7" y2="726.5" stroke="#000" stroke-width="2" />
<path d="M2064.7,734.0 L2060.2,726.0 L2064.7,728.4 L2069.2,726.0 Z" fill="#000" />
<text x="2098.7" y="727.2" font-family="'Liberation Serif',serif" font-style="italic" font-size="26">T<tspan font-size="18" dy="5" font-style="italic">B</tspan></text>
<path d="M2021.7,734.9 L2107.0,734.9 L2096.8,783.2 L2032.5,783.2 Z" fill="#fff" stroke="#90a8d8" stroke-width="2.4" stroke-linejoin="miter"/>
<rect x="2049.3" y="738.9" width="29.0" height="32.0" fill="#8fa8d8"/>
<use href="#teacher" x="2062.3" y="748.9" width="26.0" height="28.0"/>
<use href="#fire" x="2087.0" y="735.9" width="16.0" height="20.0"/>
<line x1="2064.7" y1="783.2" x2="2064.7" y2="814.0" stroke="#000" stroke-width="2" />
<path d="M2064.7,821.5 L2060.2,813.5 L2064.7,815.9 L2069.2,813.5 Z" fill="#000" />
<circle cx="1937.5" cy="760.6" r="1.7" fill="#111" />
<circle cx="1937.5" cy="864.7" r="1.7" fill="#111" />
<circle cx="1948.3" cy="760.6" r="1.7" fill="#111" />
<circle cx="1948.3" cy="864.7" r="1.7" fill="#111" />
<circle cx="1959.1" cy="760.6" r="1.7" fill="#111" />
<circle cx="1959.1" cy="864.7" r="1.7" fill="#111" />
<circle cx="1969.9" cy="760.6" r="1.7" fill="#111" />
<circle cx="1969.9" cy="864.7" r="1.7" fill="#111" />
<circle cx="1980.7" cy="760.6" r="1.7" fill="#111" />
<circle cx="1980.7" cy="864.7" r="1.7" fill="#111" />
<circle cx="1991.5" cy="760.6" r="1.7" fill="#111" />
<circle cx="1991.5" cy="864.7" r="1.7" fill="#111" />
<path d="M1633.0,876.2 L1677.9,828.2 L1765.3,828.2 L1721.6,876.2 Z" fill="#5eb39b" />
<path d="M1816.7,855.7 L1887.4,825.6 L1932.3,853.1 L1860.4,884.0 Z" fill="#f0a878" />
<path d="M1986.3,853.1 L2044.1,828.7 L2135.3,851.8 L2077.5,876.2 Z" fill="#90a8d8" />
<circle cx="1686.9" cy="839.0" r="7.0" fill="#8c8c8c" />
<circle cx="1713.9" cy="840.3" r="7.0" fill="#8c8c8c" />
<circle cx="1739.6" cy="839.0" r="7.0" fill="#8c8c8c" />
<circle cx="1663.8" cy="867.2" r="7.0" fill="#8c8c8c" />
<circle cx="1716.0" cy="863.4" r="7.0" fill="#8c8c8c" />
<circle cx="1675.9" cy="852.3" r="7.0" fill="#f88a8a" />
<circle cx="1699.0" cy="851.3" r="7.0" fill="#00b0f0" />
<circle cx="1692.1" cy="867.2" r="7.0" fill="#fddb7a" />
<circle cx="1837.2" cy="854.4" r="7.0" fill="#8c8c8c" />
<circle cx="1864.2" cy="842.8" r="7.0" fill="#8c8c8c" />
<circle cx="1886.1" cy="844.1" r="7.0" fill="#8c8c8c" />
<circle cx="1877.1" cy="860.8" r="7.0" fill="#8c8c8c" />
<circle cx="1914.3" cy="850.5" r="7.0" fill="#8c8c8c" />
<circle cx="1854.0" cy="855.7" r="7.0" fill="#fddb7a" />
<circle cx="1896.4" cy="857.0" r="7.0" fill="#f88a8a" />
<circle cx="1861.7" cy="871.1" r="7.0" fill="#00b0f0" />
<circle cx="2018.4" cy="848.7" r="7.0" fill="#8c8c8c" />
<circle cx="2045.4" cy="840.3" r="7.0" fill="#8c8c8c" />
<circle cx="2049.2" cy="854.4" r="7.0" fill="#8c8c8c" />
<circle cx="2067.2" cy="853.1" r="7.0" fill="#8c8c8c" />
<circle cx="2100.6" cy="853.1" r="7.0" fill="#8c8c8c" />
<circle cx="2033.8" cy="856.2" r="7.0" fill="#fddb7a" />
<circle cx="2083.9" cy="849.3" r="7.0" fill="#00b0f0" />
<circle cx="2077.5" cy="866.0" r="7.0" fill="#f88a8a" />
<path d="M1675.9,875 L1675.9,926.4 L2055.7,926.4 L2055.7,870 M1883,873.5 L1883,926.4" fill="none" stroke="#000" stroke-width="2.2" />
<line x1="1838.5" y1="926.4" x2="1838.5" y2="968.0" stroke="#000" stroke-width="2" />
<path d="M1838.5,975.5 L1834.0,967.5 L1838.5,969.9 L1843.0,967.5 Z" fill="#000" />
<text x="1608.5" y="964.9" font-size="19.5" font-family="'Liberation Serif', serif" font-weight="bold" textLength="142.7" lengthAdjust="spacingAndGlyphs">Preference ranks</text>
<rect x="1640.0" y="976.8" width="398.3" height="40.1" fill="#fff" stroke="#111" stroke-width="1.3"/>
<line x1="1679.8" y1="976.8" x2="1679.8" y2="1016.9" stroke="#111" stroke-width="1.1" />
<line x1="1719.7" y1="976.8" x2="1719.7" y2="1016.9" stroke="#111" stroke-width="1.1" />
<line x1="1759.5" y1="976.8" x2="1759.5" y2="1016.9" stroke="#111" stroke-width="1.1" />
<line x1="1799.3" y1="976.8" x2="1799.3" y2="1016.9" stroke="#111" stroke-width="1.1" />
<line x1="1839.2" y1="976.8" x2="1839.2" y2="1016.9" stroke="#111" stroke-width="1.1" />
<line x1="1879.0" y1="976.8" x2="1879.0" y2="1016.9" stroke="#111" stroke-width="1.1" />
<line x1="1918.8" y1="976.8" x2="1918.8" y2="1016.9" stroke="#111" stroke-width="1.1" />
<line x1="1958.6" y1="976.8" x2="1958.6" y2="1016.9" stroke="#111" stroke-width="1.1" />
<line x1="1998.5" y1="976.8" x2="1998.5" y2="1016.9" stroke="#111" stroke-width="1.1" />
<circle cx="1654.6" cy="1004.7" r="9.0" fill="#8c8c8c" />
<circle cx="1655.6" cy="1006.0" r="17.5" fill="none" stroke="#e02020" stroke-width="2" stroke-dasharray="5,3"/>
<circle cx="1694.2" cy="1004.7" r="9.0" fill="#8c8c8c" />
<circle cx="1695.2" cy="1006.0" r="17.5" fill="none" stroke="#e02020" stroke-width="2" stroke-dasharray="5,3"/>
<circle cx="1733.5" cy="1004.7" r="9.0" fill="#8c8c8c" />
<circle cx="1734.5" cy="1006.0" r="17.5" fill="none" stroke="#e02020" stroke-width="2" stroke-dasharray="5,3"/>
<circle cx="1772.8" cy="1004.7" r="9.0" fill="#8c8c8c" />
<circle cx="1773.8" cy="1006.0" r="17.5" fill="none" stroke="#e02020" stroke-width="2" stroke-dasharray="5,3"/>
<circle cx="1813.2" cy="1004.7" r="9.0" fill="#8c8c8c" />
<circle cx="1814.2" cy="1006.0" r="17.5" fill="none" stroke="#e02020" stroke-width="2" stroke-dasharray="5,3"/>
<circle cx="1852.8" cy="1004.7" r="9.0" fill="#8c8c8c" />
<circle cx="1853.8" cy="1006.0" r="17.5" fill="none" stroke="#e02020" stroke-width="2" stroke-dasharray="5,3"/>
<circle cx="1892.7" cy="1004.7" r="9.0" fill="#8c8c8c" />
<circle cx="1932.5" cy="1004.7" r="9.0" fill="#fddb7a" />
<circle cx="1972.1" cy="1004.7" r="9.0" fill="#00b0f0" />
<circle cx="2012.5" cy="1004.7" r="9.0" fill="#f88a8a" />
<circle cx="1667.6" cy="987.1" r="8.0" fill="#fff" stroke="#111" stroke-width="1.1" />
<text x="1667.6" y="992.2" font-size="13" font-family="'Liberation Serif', serif" text-anchor="middle">1</text>
<circle cx="1707.2" cy="987.1" r="8.0" fill="#fff" stroke="#111" stroke-width="1.1" />
<text x="1707.2" y="992.2" font-size="13" font-family="'Liberation Serif', serif" text-anchor="middle">2</text>
<circle cx="1746.5" cy="987.1" r="8.0" fill="#fff" stroke="#111" stroke-width="1.1" />
<text x="1746.5" y="992.2" font-size="13" font-family="'Liberation Serif', serif" text-anchor="middle">3</text>
<circle cx="1785.8" cy="987.1" r="8.0" fill="#fff" stroke="#111" stroke-width="1.1" />
<text x="1785.8" y="992.2" font-size="13" font-family="'Liberation Serif', serif" text-anchor="middle">4</text>
<circle cx="1817.2" cy="986.0" r="1.8" fill="#111" />
<circle cx="1823.2" cy="986.0" r="1.8" fill="#111" />
<circle cx="1829.2" cy="986.0" r="1.8" fill="#111" />
<circle cx="1865.8" cy="987.1" r="8.0" fill="#fff" stroke="#111" stroke-width="1.1" />
<text x="1865.8" y="992.2" font-size="13" font-family="'Liberation Serif', serif" text-anchor="middle">w</text>
<circle cx="1900.0" cy="989.0" r="1.8" fill="#111" />
<circle cx="1906.0" cy="989.0" r="1.8" fill="#111" />
<circle cx="1912.0" cy="989.0" r="1.8" fill="#111" />
<line x1="1656.0" y1="1024.0" x2="1656.0" y2="1066.4" stroke="#000" stroke-width="2" />
<path d="M1656.0,1073.9 L1651.5,1065.9 L1656.0,1068.3 L1660.5,1065.9 Z" fill="#000" />
<line x1="1694.8" y1="1024.0" x2="1694.8" y2="1066.4" stroke="#000" stroke-width="2" />
<path d="M1694.8,1073.9 L1690.3,1065.9 L1694.8,1068.3 L1699.3,1065.9 Z" fill="#000" />
<line x1="1734.0" y1="1024.0" x2="1734.0" y2="1066.4" stroke="#000" stroke-width="2" />
<path d="M1734.0,1073.9 L1729.5,1065.9 L1734.0,1068.3 L1738.5,1065.9 Z" fill="#000" />
<path d="M1773.4,1024 L1773.4,1095.6 M1814.6,1024 L1814.6,1095.6 M1854.2,1024 L1854.2,1095.6 L1768,1095.6" fill="none" stroke="#000" stroke-width="2" />
<line x1="1775.0" y1="1095.6" x2="1767.0" y2="1095.6" stroke="#000" stroke-width="2" />
<path d="M1759.5,1095.6 L1767.5,1091.1 L1765.1,1095.6 L1767.5,1100.1 Z" fill="#000" />
<rect x="1630.2" y="1073.9" width="128.8" height="45.3" fill="#c6d0ea" stroke="#111" stroke-width="1.6" rx="7"/>
<text x="1640.0" y="1105.1" font-size="22.5" font-family="'Liberation Serif', serif" font-weight="bold" textLength="109" lengthAdjust="spacingAndGlyphs">DNS Module</text>
<line x1="1656.0" y1="1119.2" x2="1656.0" y2="1185.7" stroke="#000" stroke-width="2" />
<path d="M1656.0,1193.2 L1651.5,1185.2 L1656.0,1187.6 L1660.5,1185.2 Z" fill="#000" />
<line x1="1695.0" y1="1119.2" x2="1695.0" y2="1185.7" stroke="#000" stroke-width="2" />
<path d="M1695.0,1193.2 L1690.5,1185.2 L1695.0,1187.6 L1699.5,1185.2 Z" fill="#000" />
<line x1="1733.5" y1="1119.2" x2="1733.5" y2="1185.7" stroke="#000" stroke-width="2" />
<path d="M1733.5,1193.2 L1729.0,1185.2 L1733.5,1187.6 L1738.0,1185.2 Z" fill="#000" />
<path d="M1740.8,1162.8 L1771.2,1162.8 L1771.2,1200" fill="none" stroke="#111" stroke-width="2" stroke-dasharray="7,5"/>
<path d="M1766.5,1198 L1771.2,1206.7 L1775.9,1198" fill="none" stroke="#111" stroke-width="2" />
<rect x="1621.5" y="1176.9" width="166.8" height="159.5" fill="none" stroke="#3a5fa8" stroke-width="1.6" rx="11"/>
<rect x="1642.4" y="1193.2" width="25.8" height="12.9" fill="#8c8c8c" stroke="#222" stroke-width="2"/>
<rect x="1642.4" y="1206.1" width="25.8" height="12.9" fill="#8c8c8c" stroke="#222" stroke-width="2"/>
<rect x="1642.4" y="1219.0" width="25.8" height="12.9" fill="#ee7f2d" stroke="#222" stroke-width="2"/>
<rect x="1642.4" y="1231.8" width="25.8" height="12.9" fill="#8c8c8c" stroke="#222" stroke-width="2"/>
<rect x="1681.7" y="1193.2" width="26.0" height="12.9" fill="#8c8c8c" stroke="#222" stroke-width="2"/>
<rect x="1681.7" y="1206.1" width="26.0" height="12.9" fill="#8c8c8c" stroke="#222" stroke-width="2"/>
<rect x="1681.7" y="1219.0" width="26.0" height="12.9" fill="#8c8c8c" stroke="#222" stroke-width="2"/>
<rect x="1681.7" y="1231.8" width="26.0" height="12.9" fill="#4a90d9" stroke="#222" stroke-width="2"/>
<rect x="1719.7" y="1193.2" width="27.1" height="12.9" fill="#6ab04c" stroke="#222" stroke-width="2"/>
<rect x="1719.7" y="1206.1" width="27.1" height="12.9" fill="#8c8c8c" stroke="#222" stroke-width="2"/>
<rect x="1719.7" y="1219.0" width="27.1" height="12.9" fill="#8c8c8c" stroke="#222" stroke-width="2"/>
<rect x="1719.7" y="1231.8" width="27.1" height="12.9" fill="#8c8c8c" stroke="#222" stroke-width="2"/>
<circle cx="1759.8" cy="1223.0" r="2.4" fill="#111" />
<circle cx="1769.3" cy="1223.0" r="2.4" fill="#111" />
<circle cx="1778.8" cy="1223.0" r="2.4" fill="#111" />
<rect x="1644.4" y="1266.3" width="21.0" height="5.5" fill="#444"/>
<rect x="1652.2" y="1258.6" width="5.5" height="21.0" fill="#444"/>
<use href="#doc" x="1644.9" y="1291.5" width="21.0" height="31.0"/>
<rect x="1683.4" y="1266.3" width="21.0" height="5.5" fill="#444"/>
<rect x="1691.2" y="1258.6" width="5.5" height="21.0" fill="#444"/>
<use href="#doc" x="1683.9" y="1291.5" width="21.0" height="31.0"/>
<rect x="1721.6" y="1266.3" width="21.0" height="5.5" fill="#444"/>
<rect x="1729.3" y="1258.6" width="5.5" height="21.0" fill="#444"/>
<use href="#doc" x="1722.1" y="1291.5" width="21.0" height="31.0"/>
<circle cx="1759.8" cy="1311.1" r="2.4" fill="#111" />
<circle cx="1769.3" cy="1311.1" r="2.4" fill="#111" />
<circle cx="1778.8" cy="1311.1" r="2.4" fill="#111" />
<line x1="1800.0" y1="1256.4" x2="1855.3" y2="1256.4" stroke="#000" stroke-width="2" />
<path d="M1862.8,1256.4 L1854.8,1260.9 L1857.2,1256.4 L1854.8,1251.9 Z" fill="#000" />
<line x1="1993.0" y1="1217.6" x2="1881.3" y2="1244.7" stroke="#000" stroke-width="2.2" />
<line x1="1993.0" y1="1217.6" x2="1944.2" y2="1168.2" stroke="#000" stroke-width="2.2" />
<line x1="1993.0" y1="1217.6" x2="2042.3" y2="1152.0" stroke="#000" stroke-width="2.2" />
<line x1="1993.0" y1="1217.6" x2="2059.4" y2="1214.3" stroke="#000" stroke-width="2.2" />
<line x1="1993.0" y1="1217.6" x2="1957.2" y2="1274.5" stroke="#000" stroke-width="2.2" />
<line x1="1957.2" y1="1274.5" x2="1975.4" y2="1342.3" stroke="#000" stroke-width="2.2" />
<line x1="1957.2" y1="1274.5" x2="2076.5" y2="1339.1" stroke="#000" stroke-width="2.2" />
<line x1="2059.4" y1="1214.3" x2="2076.5" y2="1339.1" stroke="#000" stroke-width="2.2" />
<circle cx="1993.0" cy="1217.6" r="9.0" fill="#fddb7a" />
<circle cx="1881.3" cy="1244.7" r="9.0" fill="#767171" />
<circle cx="1944.2" cy="1168.2" r="11.0" fill="#fddb7a" />
<circle cx="1944.2" cy="1168.2" r="6.8" fill="#767171" />
<circle cx="2042.3" cy="1152.0" r="9.0" fill="#767171" />
<circle cx="2059.4" cy="1214.3" r="9.0" fill="#00b0f0" />
<circle cx="1957.2" cy="1274.5" r="9.0" fill="#f88a8a" />
<circle cx="1975.4" cy="1342.3" r="11.0" fill="#f88a8a" />
<circle cx="1975.4" cy="1342.3" r="6.8" fill="#767171" />
<circle cx="2076.5" cy="1339.1" r="11.0" fill="#00b0f0" />
<circle cx="2076.5" cy="1339.1" r="6.8" fill="#767171" />
<use href="#doc" x="1947.5" y="1130.6" width="17.8" height="26.3"/>
<use href="#doc" x="2047.0" y="1114.9" width="17.8" height="26.3"/>
<use href="#doc" x="1982.2" y="1174.6" width="17.8" height="26.3"/>
<use href="#doc" x="2066.0" y="1178.6" width="17.8" height="26.3"/>
<use href="#doc" x="1887.3" y="1207.6" width="17.8" height="26.3"/>
<use href="#doc" x="1929.1" y="1241.8" width="17.8" height="26.3"/>
<use href="#doc" x="1981.9" y="1302.5" width="17.8" height="26.3"/>
<use href="#doc" x="2083.9" y="1304.2" width="17.8" height="26.3"/>
<path d="M1531.8,1041.5 L1572.8,1041.5 L1572.8,1061.9 L1538,1061.9 Q1531.8,1061.9 1531.8,1055 Z" fill="#a8d8f5" />
<path d="M1537.5,977.8 L1587,977.8 Q1590,977.8 1592,981 L1608.5,1009.7 L1592,1038 Q1590.5,1041.5 1587,1041.5 L1531.8,1041.5 L1531.8,984 Q1531.8,977.8 1537.5,977.8 Z" fill="#5ab7dc" />
<path d="M1562,977.8 L1587,977.8 Q1590,977.8 1592,981 L1608.5,1009.7 L1596,1031 Q1594,998 1562,977.8 Z" fill="#46a6c8" />
<text x="1539.7" y="1016.1" font-size="19" font-family="'Liberation Serif', serif" font-weight="bold" font-style="italic" textLength="56.6" lengthAdjust="spacingAndGlyphs">Second</text>
<rect x="2193.8" y="630.6" width="523.4" height="44.6" fill="#fff" stroke="#e8c6d0" stroke-width="2.6"/>
<text x="2239.8" y="661.6" font-size="26" font-family="'Liberation Serif', serif" font-weight="bold" textLength="431.5" lengthAdjust="spacingAndGlyphs">Node-preference-driven GNN Selector</text>
<path d="M2102.8,1234.4 L2231.3,1234.4 L2231.3,685.5 L2653.5,685.5" fill="none" stroke="#000" stroke-width="2.4" />
<line x1="2298.8" y1="685.5" x2="2298.8" y2="724.5" stroke="#000" stroke-width="2" />
<path d="M2298.8,732.0 L2294.3,724.0 L2298.8,726.4 L2303.3,724.0 Z" fill="#000" />
<text x="2334.8" y="727.5" font-family="'Liberation Serif',serif" font-style="italic" font-size="26">T<tspan font-size="18" dy="5" font-style="normal">1</tspan></text>
<path d="M2255.7,732.8 L2341.3,732.8 L2330.1,781.2 L2266.9,781.2 Z" fill="#fff" stroke="#5bb39a" stroke-width="2.4" stroke-linejoin="miter"/>
<rect x="2283.5" y="736.8" width="29.0" height="32.0" fill="#5daf96"/>
<use href="#teacher" x="2296.5" y="746.8" width="26.0" height="28.0"/>
<use href="#snow" x="2319.3" y="731.8" width="22.0" height="22.0"/>
<line x1="2298.5" y1="781.2" x2="2298.5" y2="790.5" stroke="#000" stroke-width="2" />
<path d="M2298.5,796.0 L2294.0,790.0 L2298.5,791.8 L2303.0,790.0 Z" fill="#000" />
<rect x="2239.0" y="796.8" width="118.2" height="30.4" fill="#fff" stroke="#5bb39a" stroke-width="2.4"/>
<text x="2298.1" y="820.0" font-size="26" font-family="'Liberation Serif', serif" text-anchor="middle" textLength="89" lengthAdjust="spacingAndGlyphs">Classifier</text>
<line x1="2298.5" y1="827.2" x2="2298.5" y2="843.9" stroke="#000" stroke-width="2.2" />
<line x1="2455.5" y1="685.5" x2="2455.5" y2="724.5" stroke="#000" stroke-width="2" />
<path d="M2455.5,732.0 L2451.0,724.0 L2455.5,726.4 L2460.0,724.0 Z" fill="#000" />
<text x="2491.5" y="727.5" font-family="'Liberation Serif',serif" font-style="italic" font-size="26">T<tspan font-size="18" dy="5" font-style="normal">2</tspan></text>
<path d="M2413.0,732.8 L2498.0,732.8 L2486.9,781.2 L2423.6,781.2 Z" fill="#fff" stroke="#f0a070" stroke-width="2.4" stroke-linejoin="miter"/>
<rect x="2440.5" y="736.8" width="29.0" height="32.0" fill="#f0a57a"/>
<use href="#teacher" x="2453.5" y="746.8" width="26.0" height="28.0"/>
<use href="#snow" x="2476.0" y="731.8" width="22.0" height="22.0"/>
<line x1="2455.5" y1="781.2" x2="2455.5" y2="790.5" stroke="#000" stroke-width="2" />
<path d="M2455.5,796.0 L2451.0,790.0 L2455.5,791.8 L2460.0,790.0 Z" fill="#000" />
<rect x="2397.0" y="796.8" width="118.3" height="30.4" fill="#fff" stroke="#f0a070" stroke-width="2.4"/>
<text x="2456.2" y="820.0" font-size="26" font-family="'Liberation Serif', serif" text-anchor="middle" textLength="89" lengthAdjust="spacingAndGlyphs">Classifier</text>
<line x1="2455.5" y1="827.2" x2="2455.5" y2="843.9" stroke="#000" stroke-width="2.2" />
<line x1="2653.5" y1="685.5" x2="2653.5" y2="724.5" stroke="#000" stroke-width="2" />
<path d="M2653.5,732.0 L2649.0,724.0 L2653.5,726.4 L2658.0,724.0 Z" fill="#000" />
<text x="2689.5" y="727.5" font-family="'Liberation Serif',serif" font-style="italic" font-size="26">T<tspan font-size="18" dy="5" font-style="italic">B</tspan></text>
<path d="M2610.4,732.8 L2695.4,732.8 L2684.8,781.2 L2621.0,781.2 Z" fill="#fff" stroke="#90a8d8" stroke-width="2.4" stroke-linejoin="miter"/>
<rect x="2637.9" y="736.8" width="29.0" height="32.0" fill="#8fa8d8"/>
<use href="#teacher" x="2650.9" y="746.8" width="26.0" height="28.0"/>
<use href="#snow" x="2673.4" y="731.8" width="22.0" height="22.0"/>
<line x1="2652.9" y1="781.2" x2="2652.9" y2="790.5" stroke="#000" stroke-width="2" />
<path d="M2652.9,796.0 L2648.4,790.0 L2652.9,791.8 L2657.4,790.0 Z" fill="#000" />
<rect x="2594.5" y="796.8" width="117.9" height="30.4" fill="#fff" stroke="#90a8d8" stroke-width="2.4"/>
<text x="2653.4" y="820.0" font-size="26" font-family="'Liberation Serif', serif" text-anchor="middle" textLength="89" lengthAdjust="spacingAndGlyphs">Classifier</text>
<line x1="2652.9" y1="827.2" x2="2652.9" y2="843.9" stroke="#000" stroke-width="2.2" />
<circle cx="2527.3" cy="758.1" r="1.7" fill="#111" />
<circle cx="2530.0" cy="811.7" r="1.7" fill="#111" />
<circle cx="2537.6" cy="758.1" r="1.7" fill="#111" />
<circle cx="2540.3" cy="811.7" r="1.7" fill="#111" />
<circle cx="2547.9" cy="758.1" r="1.7" fill="#111" />
<circle cx="2550.6" cy="811.7" r="1.7" fill="#111" />
<circle cx="2558.2" cy="758.1" r="1.7" fill="#111" />
<circle cx="2560.9" cy="811.7" r="1.7" fill="#111" />
<circle cx="2568.5" cy="758.1" r="1.7" fill="#111" />
<circle cx="2571.2" cy="811.7" r="1.7" fill="#111" />
<circle cx="2578.8" cy="758.1" r="1.7" fill="#111" />
<circle cx="2581.5" cy="811.7" r="1.7" fill="#111" />
<line x1="2298.0" y1="843.9" x2="2654.5" y2="843.9" stroke="#000" stroke-width="2.2" />
<line x1="2382.5" y1="843.9" x2="2382.5" y2="855.5" stroke="#000" stroke-width="2" />
<path d="M2382.5,862.0 L2378.0,855.0 L2382.5,857.1 L2387.0,855.0 Z" fill="#000" />
<line x1="2620.8" y1="843.9" x2="2620.8" y2="856.0" stroke="#000" stroke-width="2" />
<path d="M2620.8,862.5 L2616.3,855.5 L2620.8,857.6 L2625.3,855.5 Z" fill="#000" />
<rect x="2243.0" y="862.5" width="277.6" height="45.2" fill="#c9d8a2" stroke="#111" stroke-width="1.6" rx="7"/>
<text x="2254.1" y="892.2" font-size="19.5" font-family="'Liberation Serif', serif" font-weight="bold" textLength="260.4" lengthAdjust="spacingAndGlyphs">Prediction Attribute Collection</text>
<rect x="2555.7" y="863.0" width="129.1" height="45.2" fill="#c6d0ea" stroke="#111" stroke-width="1.6" rx="7"/>
<text x="2565.8" y="892.2" font-size="22.5" font-family="'Liberation Serif', serif" font-weight="bold" textLength="108.9" lengthAdjust="spacingAndGlyphs">DNS Module</text>
<path d="M2684.8,885.6 L2701.7,885.6 L2701.7,1032.7 L2630,1032.7" fill="none" stroke="#000" stroke-width="2" />
<line x1="2640.0" y1="1032.7" x2="2631.0" y2="1032.7" stroke="#000" stroke-width="2" />
<path d="M2623.5,1032.7 L2631.5,1028.2 L2629.1,1032.7 L2631.5,1037.2 Z" fill="#000" />
<path d="M2382.5,907.7 L2382.5,932.1 M2325.3,932.1 L2601.6,932.1" fill="none" stroke="#000" stroke-width="2" />
<rect x="2293.5" y="922.3" width="347.6" height="213.4" fill="none" stroke="#111" stroke-width="1.8" rx="13"/>
<line x1="2382.5" y1="920.0" x2="2382.5" y2="932.1" stroke="#000" stroke-width="2" />
<line x1="2325.3" y1="932.1" x2="2325.3" y2="950.5" stroke="#000" stroke-width="2" />
<path d="M2325.3,957.0 L2320.8,950.0 L2325.3,952.1 L2329.8,950.0 Z" fill="#000" />
<line x1="2390.4" y1="932.1" x2="2390.4" y2="950.5" stroke="#000" stroke-width="2" />
<path d="M2390.4,957.0 L2385.9,950.0 L2390.4,952.1 L2394.9,950.0 Z" fill="#000" />
<line x1="2455.0" y1="932.1" x2="2455.0" y2="950.5" stroke="#000" stroke-width="2" />
<path d="M2455.0,957.0 L2450.5,950.0 L2455.0,952.1 L2459.5,950.0 Z" fill="#000" />
<line x1="2542.7" y1="932.1" x2="2542.7" y2="950.5" stroke="#000" stroke-width="2" />
<path d="M2542.7,957.0 L2538.2,950.0 L2542.7,952.1 L2547.2,950.0 Z" fill="#000" />
<line x1="2601.6" y1="932.1" x2="2601.6" y2="950.5" stroke="#000" stroke-width="2" />
<path d="M2601.6,957.0 L2597.1,950.0 L2601.6,952.1 L2606.1,950.0 Z" fill="#000" />
<rect x="2302.0" y="958.1" width="15.8" height="15.2" fill="#c0c0c0" stroke="#222" stroke-width="2"/>
<rect x="2317.8" y="958.1" width="15.8" height="15.2" fill="#c0c0c0" stroke="#222" stroke-width="2"/>
<rect x="2333.5" y="958.1" width="15.8" height="15.2" fill="#4a90d9" stroke="#222" stroke-width="2"/>
<rect x="2366.5" y="958.1" width="15.9" height="15.2" fill="#c0c0c0" stroke="#222" stroke-width="2"/>
<rect x="2382.4" y="958.1" width="15.9" height="15.2" fill="#ee7f2d" stroke="#222" stroke-width="2"/>
<rect x="2398.4" y="958.1" width="15.9" height="15.2" fill="#c0c0c0" stroke="#222" stroke-width="2"/>
<rect x="2430.8" y="958.1" width="15.9" height="15.2" fill="#4a90d9" stroke="#222" stroke-width="2"/>
<rect x="2446.7" y="958.1" width="15.9" height="15.2" fill="#c0c0c0" stroke="#222" stroke-width="2"/>
<rect x="2462.7" y="958.1" width="15.9" height="15.2" fill="#c0c0c0" stroke="#222" stroke-width="2"/>
<rect x="2518.8" y="958.1" width="15.9" height="15.2" fill="#c0c0c0" stroke="#222" stroke-width="2"/>
<rect x="2534.7" y="958.1" width="15.9" height="15.2" fill="#6ab04c" stroke="#222" stroke-width="2"/>
<rect x="2550.7" y="958.1" width="15.9" height="15.2" fill="#c0c0c0" stroke="#222" stroke-width="2"/>
<rect x="2577.7" y="958.1" width="16.0" height="15.2" fill="#ee7f2d" stroke="#222" stroke-width="2"/>
<rect x="2593.7" y="958.1" width="16.0" height="15.2" fill="#c0c0c0" stroke="#222" stroke-width="2"/>
<rect x="2609.6" y="958.1" width="16.0" height="15.2" fill="#c0c0c0" stroke="#222" stroke-width="2"/>
<circle cx="2491.2" cy="966.6" r="2.4" fill="#111" />
<circle cx="2500.7" cy="966.6" r="2.4" fill="#111" />
<circle cx="2510.2" cy="966.6" r="2.4" fill="#111" />
<circle cx="2353.2" cy="948.0" r="8.5" fill="#fff" stroke="#111" stroke-width="1.1" />
<text x="2353.2" y="953.5" font-size="13.5" font-family="'Liberation Serif', serif" text-anchor="middle">1</text>
<circle cx="2418.9" cy="948.0" r="8.5" fill="#fff" stroke="#111" stroke-width="1.1" />
<text x="2418.9" y="953.5" font-size="13.5" font-family="'Liberation Serif', serif" text-anchor="middle">2</text>
<circle cx="2483.4" cy="948.0" r="8.5" fill="#fff" stroke="#111" stroke-width="1.1" />
<text x="2483.4" y="953.5" font-size="13.5" font-family="'Liberation Serif', serif" text-anchor="middle">3</text>
<circle cx="2628.2" cy="948.0" r="8.5" fill="#fff" stroke="#111" stroke-width="1.1" />
<text x="2628.2" y="953.5" font-size="13.5" font-family="'Liberation Serif', serif" text-anchor="middle">w</text>
<circle cx="2563.5" cy="944.8" r="1.8" fill="#111" />
<circle cx="2569.5" cy="944.8" r="1.8" fill="#111" />
<circle cx="2575.5" cy="944.8" r="1.8" fill="#111" />
<rect x="2304.0" y="1003.9" width="319.1" height="59.1" fill="none" stroke="#b4bcdc" stroke-width="2" rx="9" stroke-dasharray="7,5"/>
<rect x="2312.1" y="1006.6" width="26.3" height="13.1" fill="#8c8c8c" stroke="#222" stroke-width="2"/>
<rect x="2312.1" y="1019.7" width="26.3" height="13.1" fill="#8c8c8c" stroke="#222" stroke-width="2"/>
<rect x="2312.1" y="1032.8" width="26.3" height="13.1" fill="#ee7f2d" stroke="#222" stroke-width="2"/>
<rect x="2312.1" y="1045.9" width="26.3" height="13.1" fill="#8c8c8c" stroke="#222" stroke-width="2"/>
<rect x="2314.4" y="988.5" width="21.0" height="5.5" fill="#444"/>
<rect x="2322.2" y="980.7" width="5.5" height="21.0" fill="#444"/>
<rect x="2314.4" y="1075.8" width="21.0" height="5.5" fill="#444"/>
<rect x="2322.2" y="1068.0" width="5.5" height="21.0" fill="#444"/>
<use href="#doc" x="2314.9" y="1097.7" width="21.0" height="31.0"/>
<rect x="2377.7" y="1006.6" width="25.8" height="13.1" fill="#8c8c8c" stroke="#222" stroke-width="2"/>
<rect x="2377.7" y="1019.7" width="25.8" height="13.1" fill="#8c8c8c" stroke="#222" stroke-width="2"/>
<rect x="2377.7" y="1032.8" width="25.8" height="13.1" fill="#8c8c8c" stroke="#222" stroke-width="2"/>
<rect x="2377.7" y="1045.9" width="25.8" height="13.1" fill="#4a90d9" stroke="#222" stroke-width="2"/>
<rect x="2379.4" y="988.5" width="21.0" height="5.5" fill="#444"/>
<rect x="2387.2" y="980.7" width="5.5" height="21.0" fill="#444"/>
<rect x="2379.4" y="1075.8" width="21.0" height="5.5" fill="#444"/>
<rect x="2387.2" y="1068.0" width="5.5" height="21.0" fill="#444"/>
<use href="#doc" x="2379.9" y="1097.7" width="21.0" height="31.0"/>
<rect x="2441.4" y="1006.6" width="26.3" height="13.1" fill="#6ab04c" stroke="#222" stroke-width="2"/>
<rect x="2441.4" y="1019.7" width="26.3" height="13.1" fill="#8c8c8c" stroke="#222" stroke-width="2"/>
<rect x="2441.4" y="1032.8" width="26.3" height="13.1" fill="#8c8c8c" stroke="#222" stroke-width="2"/>
<rect x="2441.4" y="1045.9" width="26.3" height="13.1" fill="#8c8c8c" stroke="#222" stroke-width="2"/>
<rect x="2443.7" y="988.5" width="21.0" height="5.5" fill="#444"/>
<rect x="2451.4" y="980.7" width="5.5" height="21.0" fill="#444"/>
<rect x="2443.7" y="1075.8" width="21.0" height="5.5" fill="#444"/>
<rect x="2451.4" y="1068.0" width="5.5" height="21.0" fill="#444"/>
<use href="#doc" x="2444.2" y="1097.7" width="21.0" height="31.0"/>
<rect x="2530.4" y="1006.6" width="25.7" height="13.1" fill="#8c8c8c" stroke="#222" stroke-width="2"/>
<rect x="2530.4" y="1019.7" width="25.7" height="13.1" fill="#8c8c8c" stroke="#222" stroke-width="2"/>
<rect x="2530.4" y="1032.8" width="25.7" height="13.1" fill="#8c8c8c" stroke="#222" stroke-width="2"/>
<rect x="2530.4" y="1045.9" width="25.7" height="13.1" fill="#4a90d9" stroke="#222" stroke-width="2"/>
<rect x="2531.8" y="988.5" width="21.0" height="5.5" fill="#444"/>
<rect x="2539.6" y="980.7" width="5.5" height="21.0" fill="#444"/>
<rect x="2531.8" y="1075.8" width="21.0" height="5.5" fill="#444"/>
<rect x="2539.6" y="1068.0" width="5.5" height="21.0" fill="#444"/>
<use href="#doc" x="2532.3" y="1097.7" width="21.0" height="31.0"/>
<rect x="2589.2" y="1006.6" width="26.6" height="13.1" fill="#6ab04c" stroke="#222" stroke-width="2"/>
<rect x="2589.2" y="1019.7" width="26.6" height="13.1" fill="#8c8c8c" stroke="#222" stroke-width="2"/>
<rect x="2589.2" y="1032.8" width="26.6" height="13.1" fill="#8c8c8c" stroke="#222" stroke-width="2"/>
<rect x="2589.2" y="1045.9" width="26.6" height="13.1" fill="#8c8c8c" stroke="#222" stroke-width="2"/>
<rect x="2590.9" y="988.5" width="21.0" height="5.5" fill="#444"/>
<rect x="2598.7" y="980.7" width="5.5" height="21.0" fill="#444"/>
<rect x="2590.9" y="1075.8" width="21.0" height="5.5" fill="#444"/>
<rect x="2598.7" y="1068.0" width="5.5" height="21.0" fill="#444"/>
<use href="#doc" x="2591.4" y="1097.7" width="21.0" height="31.0"/>
<circle cx="2491.6" cy="1036.5" r="2.4" fill="#111" />
<circle cx="2501.1" cy="1036.5" r="2.4" fill="#111" />
<circle cx="2510.6" cy="1036.5" r="2.4" fill="#111" />
<circle cx="2491.6" cy="1115.9" r="2.4" fill="#111" />
<circle cx="2501.1" cy="1115.9" r="2.4" fill="#111" />
<circle cx="2510.6" cy="1115.9" r="2.4" fill="#111" />
<line x1="2467.2" y1="1135.7" x2="2467.2" y2="1209.5" stroke="#000" stroke-width="2" />
<path d="M2467.2,1217.0 L2462.7,1209.0 L2467.2,1211.4 L2471.7,1209.0 Z" fill="#000" />
<circle cx="2411.2" cy="1149.1" r="3.1" fill="#e65a64"  stroke="#111" stroke-width="0.9"/>
<circle cx="2420.5" cy="1149.1" r="3.1" fill="#e65a64"  stroke="#111" stroke-width="0.9"/>
<circle cx="2429.8" cy="1149.1" r="3.1" fill="#e65a64"  stroke="#111" stroke-width="0.9"/>
<rect x="2393.5" y="1159.9" width="6.6" height="12.0" fill="#3d6a93" rx="2.6999999999999997"  stroke="#111" stroke-width="0.9"/>
<rect x="2440.9" y="1159.9" width="6.6" height="12.0" fill="#3d6a93" rx="2.6999999999999997"  stroke="#111" stroke-width="0.9"/>
<rect x="2398.0" y="1150.0" width="45.0" height="38.4" fill="#8fd4f7" rx="7.8"  stroke="#111" stroke-width="0.9"/>
<rect x="2402.8" y="1154.5" width="35.4" height="25.8" fill="#ddedf8" stroke="#111" stroke-width="0.8999999999999999" rx="5.3999999999999995"/>
<circle cx="2410.9" cy="1160.5" r="3.6" fill="#7dcff7"  stroke="#111" stroke-width="0.9"/>
<circle cx="2430.1" cy="1160.5" r="3.6" fill="#7dcff7"  stroke="#111" stroke-width="0.9"/>
<path d="M2416.0,1165.9 Q2420.5,1171.6 2425.0,1165.9" fill="none" stroke="#111" stroke-width="0.96" />
<line x1="2404.9" y1="1167.4" x2="2410.0" y2="1167.4" stroke="#111" stroke-width="1.02" stroke-linecap="round"/>
<line x1="2431.0" y1="1167.4" x2="2436.1" y2="1167.4" stroke="#111" stroke-width="1.02" stroke-linecap="round"/>
<line x1="2404.9" y1="1169.8" x2="2410.0" y2="1169.8" stroke="#111" stroke-width="1.02" stroke-linecap="round"/>
<line x1="2431.0" y1="1169.8" x2="2436.1" y2="1169.8" stroke="#111" stroke-width="1.02" stroke-linecap="round"/>
<rect x="2416.6" y="1188.7" width="7.8" height="5.7" fill="#3d6a93" rx="1.7999999999999998"  stroke="#111" stroke-width="0.9"/>
<path d="M2403.4,1201.3 L2403.4,1196.5 Q2403.4,1191.7 2408.8,1191.7 L2432.2,1191.7 Q2437.3,1191.7 2437.3,1196.5 L2437.3,1201.3 Z" fill="#8fd4f7" stroke="#111" stroke-width="0.8999999999999999" />
<text x="2413.9" y="1199.2" font-size="3.9" font-family="'Liberation Serif', serif" font-weight="bold" fill="#7a8a96" text-anchor="middle">LLM</text>
<use href="#snow" x="2430.0" y="1140.0" width="12.0" height="12.0"/>
<path d="M2380,1220 L2396,1203 L2439,1201 L2423,1218 Z" fill="#fff" stroke="#111" stroke-width="2.52" stroke-linejoin="round"/>
<use href="#fire" x="2201.0" y="1185.0" width="16.0" height="20.0"/>
<text x="2161.4" y="1227.0" font-size="20" font-family="'Liberation Serif', serif" font-weight="bold" textLength="58.6" lengthAdjust="spacingAndGlyphs">Retrain</text>
<rect x="2249.8" y="1228.4" width="410.5" height="46.1" fill="#fff" stroke="#888" stroke-width="1.2"/>
<rect x="2255.8" y="1235.0" width="24.0" height="28.0" fill="#5daf96"/>
<use href="#teacher" x="2267.8" y="1244.0" width="24.0" height="28.0"/>
<use href="#snow" x="2277.8" y="1224.0" width="20.0" height="20.0"/>
<line x1="2295.4" y1="1228.4" x2="2295.4" y2="1274.5" stroke="#888" stroke-width="1.2" />
<rect x="2301.4" y="1235.0" width="24.0" height="28.0" fill="#8fa8d8"/>
<use href="#teacher" x="2313.4" y="1244.0" width="24.0" height="28.0"/>
<use href="#snow" x="2323.4" y="1224.0" width="20.0" height="20.0"/>
<line x1="2341.0" y1="1228.4" x2="2341.0" y2="1274.5" stroke="#888" stroke-width="1.2" />
<rect x="2347.0" y="1235.0" width="24.0" height="28.0" fill="#f0a57a"/>
<use href="#teacher" x="2359.0" y="1244.0" width="24.0" height="28.0"/>
<use href="#snow" x="2369.0" y="1224.0" width="20.0" height="20.0"/>
<line x1="2386.6" y1="1228.4" x2="2386.6" y2="1274.5" stroke="#888" stroke-width="1.2" />
<rect x="2392.6" y="1235.0" width="24.0" height="28.0" fill="#5daf96"/>
<use href="#teacher" x="2404.6" y="1244.0" width="24.0" height="28.0"/>
<use href="#snow" x="2414.6" y="1224.0" width="20.0" height="20.0"/>
<line x1="2432.2" y1="1228.4" x2="2432.2" y2="1274.5" stroke="#888" stroke-width="1.2" />
<rect x="2438.2" y="1235.0" width="24.0" height="28.0" fill="#f0a57a"/>
<use href="#teacher" x="2450.2" y="1244.0" width="24.0" height="28.0"/>
<use href="#snow" x="2460.2" y="1224.0" width="20.0" height="20.0"/>
<line x1="2477.8" y1="1228.4" x2="2477.8" y2="1274.5" stroke="#888" stroke-width="1.2" />
<rect x="2483.8" y="1235.0" width="24.0" height="28.0" fill="#8fa8d8"/>
<use href="#teacher" x="2495.8" y="1244.0" width="24.0" height="28.0"/>
<use href="#snow" x="2505.8" y="1224.0" width="20.0" height="20.0"/>
<line x1="2523.4" y1="1228.4" x2="2523.4" y2="1274.5" stroke="#888" stroke-width="1.2" />
<rect x="2529.4" y="1235.0" width="24.0" height="28.0" fill="#5daf96"/>
<use href="#teacher" x="2541.4" y="1244.0" width="24.0" height="28.0"/>
<use href="#snow" x="2551.4" y="1224.0" width="20.0" height="20.0"/>
<line x1="2569.0" y1="1228.4" x2="2569.0" y2="1274.5" stroke="#888" stroke-width="1.2" />
<circle cx="2583.0" cy="1252.0" r="1.1" fill="#111" />
<circle cx="2586.6" cy="1252.0" r="1.1" fill="#111" />
<circle cx="2590.2" cy="1252.0" r="1.1" fill="#111" />
<circle cx="2593.8" cy="1252.0" r="1.1" fill="#111" />
<circle cx="2597.4" cy="1252.0" r="1.1" fill="#111" />
<circle cx="2601.0" cy="1252.0" r="1.1" fill="#111" />
<line x1="2614.6" y1="1228.4" x2="2614.6" y2="1274.5" stroke="#888" stroke-width="1.2" />
<rect x="2620.6" y="1235.0" width="24.0" height="28.0" fill="#f0a57a"/>
<use href="#teacher" x="2632.6" y="1244.0" width="24.0" height="28.0"/>
<use href="#snow" x="2642.6" y="1224.0" width="20.0" height="20.0"/>
<line x1="2467.2" y1="1269.0" x2="2467.2" y2="1309.5" stroke="#000" stroke-width="2" />
<path d="M2467.2,1317.0 L2462.7,1309.0 L2467.2,1311.4 L2471.7,1309.0 Z" fill="#000" />
<text x="2417" y="1299" font-family="'Liberation Serif',serif" font-style="italic" font-size="24">L<tspan font-size="16" dy="5">DL</tspan></text>
<path d="M2424.4,1319.2 L2509.2,1319.2 L2499.7,1365.9 L2434.7,1365.9 Z" fill="#fff" stroke="#7fc8ec" stroke-width="2.4" />
<rect x="2449.6" y="1324.7" width="29.8" height="32.5" fill="#8fd0f0"/>
<use href="#student" x="2463.0" y="1336.0" width="26.0" height="28.0"/>
<use href="#fire" x="2488.0" y="1322.0" width="15.0" height="19.0"/>
<text x="2507.0" y="1310.0" font-size="24" font-family="'Liberation Serif', serif" font-style="italic">S</text>
<rect x="2263.9" y="1324.7" width="95.7" height="36.0" fill="#fff" stroke="#111" stroke-width="2.4"/>
<text x="2277.4" y="1351.2" font-size="22" font-family="'Liberation Serif', serif" font-weight="bold" textLength="68.3" lengthAdjust="spacingAndGlyphs">Entropy</text>
<line x1="2359.6" y1="1342.8" x2="2421.8" y2="1342.8" stroke="#000" stroke-width="2" />
<path d="M2429.3,1342.8 L2421.3,1347.3 L2423.7,1342.8 L2421.3,1338.3 Z" fill="#000" />
<text x="2375" y="1329" font-family="'Liberation Serif',serif" font-style="italic" font-size="24">L<tspan font-size="16" dy="5">E</tspan></text>
<rect x="2567.5" y="1324.7" width="126.6" height="36.0" fill="#fff" stroke="#111" stroke-width="2.4"/>
<text x="2579.7" y="1351.2" font-size="22" font-family="'Liberation Serif', serif" font-weight="bold" textLength="101.1" lengthAdjust="spacingAndGlyphs">True Labels</text>
<line x1="2567.5" y1="1342.8" x2="2511.3" y2="1342.8" stroke="#000" stroke-width="2" />
<path d="M2503.8,1342.8 L2511.8,1338.3 L2509.4,1342.8 L2511.8,1347.3 Z" fill="#000" />
<text x="2522" y="1329" font-family="'Liberation Serif',serif" font-style="italic" font-size="24">L<tspan font-size="16" dy="5">CE</tspan></text>
<path d="M2106.3,1038.7 L2148.2,1038.7 L2148.2,1059 L2113,1059 Q2106.3,1059 2106.3,1052 Z" fill="#a8d8f5" />
<path d="M2112,973.1 L2164,973.1 Q2167,973.1 2169,976 L2184.6,1005.4 L2167,1036 Q2165.5,1038.7 2162,1038.7 L2106.3,1038.7 L2106.3,979 Q2106.3,973.1 2112,973.1 Z" fill="#5ab7dc" />
<path d="M2137,973.1 L2164,973.1 Q2167,973.1 2169,976 L2184.6,1005.4 L2172,1027 Q2170,995 2137,973.1 Z" fill="#46a6c8" />
<text x="2122.3" y="1012.8" font-size="19" font-family="'Liberation Serif', serif" font-weight="bold" font-style="italic" textLength="43.4" lengthAdjust="spacingAndGlyphs">Third</text>
<use href="#doc" x="1256.2" y="1396.9" width="22.1" height="32.6"/>
<text x="1290.5" y="1421.4" font-size="21.5" font-family="'Liberation Serif', serif" textLength="144.5" lengthAdjust="spacingAndGlyphs">Semantic attribute</text>
<rect x="1503.0" y="1396.3" width="16.6" height="8.4" fill="#6ab04c" stroke="#222" stroke-width="2"/>
<rect x="1503.0" y="1404.7" width="16.6" height="8.4" fill="#8c8c8c" stroke="#222" stroke-width="2"/>
<rect x="1503.0" y="1413.2" width="16.6" height="8.4" fill="#8c8c8c" stroke="#222" stroke-width="2"/>
<rect x="1503.0" y="1421.6" width="16.6" height="8.4" fill="#8c8c8c" stroke="#222" stroke-width="2"/>
<text x="1528.5" y="1421.4" font-size="21.5" font-family="'Liberation Serif', serif" textLength="143.3" lengthAdjust="spacingAndGlyphs">Structure attribute</text>
<rect x="1728.5" y="1407.9" width="12.2" height="11.8" fill="#ee7f2d" stroke="#222" stroke-width="2"/>
<rect x="1740.7" y="1407.9" width="12.2" height="11.8" fill="#c0c0c0" stroke="#222" stroke-width="2"/>
<rect x="1753.0" y="1407.9" width="12.2" height="11.8" fill="#c0c0c0" stroke="#222" stroke-width="2"/>
<text x="1774.4" y="1421.4" font-size="21.5" font-family="'Liberation Serif', serif" textLength="152.2" lengthAdjust="spacingAndGlyphs">Prediction attribute</text>
<circle cx="2003.8" cy="1413.3" r="10.5" fill="#767171" />
<circle cx="2003.8" cy="1413.3" r="14.0" fill="none" stroke="#e02020" stroke-width="2" stroke-dasharray="5,3"/>
<circle cx="2093.1" cy="1413.3" r="10.5" fill="#767171" />
<circle cx="2093.1" cy="1413.3" r="14.0" fill="none" stroke="#e02020" stroke-width="2" stroke-dasharray="5,3"/>
<circle cx="2058.1" cy="1413.3" r="13.0" fill="#f88a8a" />
<circle cx="2058.1" cy="1413.3" r="9.5" fill="#767171" />
<circle cx="2146.5" cy="1413.3" r="13.0" fill="#00b0f0" />
<circle cx="2146.5" cy="1413.3" r="9.5" fill="#767171" />
<line x1="2018.5" y1="1413.3" x2="2037.5" y2="1413.3" stroke="#000" stroke-width="2.2" />
<path d="M2045.0,1413.3 L2037.0,1418.3 L2039.4,1413.3 L2037.0,1408.3 Z" fill="#000" />
<line x1="2107.5" y1="1413.3" x2="2126.0" y2="1413.3" stroke="#000" stroke-width="2.2" />
<path d="M2133.5,1413.3 L2125.5,1418.3 L2127.9,1413.3 L2125.5,1408.3 Z" fill="#000" />
<text x="2167.5" y="1420.8" font-size="21.5" font-family="'Liberation Serif', serif" textLength="138" lengthAdjust="spacingAndGlyphs">Nodes annotation</text>
<circle cx="2379.2" cy="1413.3" r="11.5" fill="#767171" />
<text x="2408.0" y="1420.8" font-size="21.5" font-family="'Liberation Serif', serif" textLength="124" lengthAdjust="spacingAndGlyphs">Unlabeled node</text>
<circle cx="2593.2" cy="1413.3" r="11.5" fill="#fbdc7c" />
<text x="2615.3" y="1420.8" font-size="21.5" font-family="'Liberation Serif', serif" textLength="107" lengthAdjust="spacingAndGlyphs">Labeled node</text>
<rect x="1232.3" y="1485.8" width="277.4" height="60.5" fill="#a0a0c8" rx="7"/>
<text x="1249.5" y="1531.2" font-size="37" font-weight="bold" textLength="243" lengthAdjust="spacingAndGlyphs">LLM Fine-tuning</text>
<circle cx="1406.9" cy="1598.5" r="10.5" fill="#e65a64" />
<circle cx="1437.9" cy="1598.5" r="10.5" fill="#e65a64" />
<circle cx="1468.9" cy="1598.5" r="10.5" fill="#e65a64" />
<rect x="1347.9" y="1634.5" width="22.0" height="40.0" fill="#3d6a93" rx="9.0"/>
<rect x="1505.9" y="1634.5" width="22.0" height="40.0" fill="#3d6a93" rx="9.0"/>
<rect x="1362.9" y="1601.5" width="150.0" height="128.0" fill="#8fd4f7" rx="26.0"/>
<rect x="1378.9" y="1616.5" width="118.0" height="86.0" fill="#ddedf8" stroke="#7ecbf2" stroke-width="3.0" rx="18.0"/>
<circle cx="1405.9" cy="1636.5" r="12.0" fill="#7dcff7" />
<circle cx="1469.9" cy="1636.5" r="12.0" fill="#7dcff7" />
<path d="M1422.9,1654.5 Q1437.9,1673.5 1452.9,1654.5" fill="none" stroke="#e05a6a" stroke-width="3.2" />
<line x1="1385.9" y1="1659.5" x2="1402.9" y2="1659.5" stroke="#7dcff7" stroke-width="3.4" stroke-linecap="round"/>
<line x1="1472.9" y1="1659.5" x2="1489.9" y2="1659.5" stroke="#7dcff7" stroke-width="3.4" stroke-linecap="round"/>
<line x1="1385.9" y1="1667.5" x2="1402.9" y2="1667.5" stroke="#7dcff7" stroke-width="3.4" stroke-linecap="round"/>
<line x1="1472.9" y1="1667.5" x2="1489.9" y2="1667.5" stroke="#7dcff7" stroke-width="3.4" stroke-linecap="round"/>
<rect x="1424.9" y="1730.5" width="26.0" height="19.0" fill="#3d6a93" rx="6.0"/>
<path d="M1380.9,1772.5 L1380.9,1756.5 Q1380.9,1740.5 1398.9,1740.5 L1476.9,1740.5 Q1493.9,1740.5 1493.9,1756.5 L1493.9,1772.5 Z" fill="#8fd4f7" />
<text x="1415.9" y="1765.5" font-size="13.0" font-family="'Liberation Serif', serif" font-weight="bold" fill="#7a8a96" text-anchor="middle">LLM</text>
<path d="M1303.1,1833 L1363.5,1785.2 L1516.2,1778.9 L1471.7,1812.3 Z" fill="#fff" stroke="#111" stroke-width="5.88" stroke-linejoin="round"/>
<path d="M1385,1793 L1475,1789 M1371,1803 L1463,1799" fill="none" stroke="#111" stroke-width="3.5" stroke-linecap="round"/>
<path d="M1389,1831.3 Q1400,1815 1471.7,1812.3" fill="none" stroke="#111" stroke-width="3.5" />
<line x1="1535.2" y1="1786.8" x2="1917.0" y2="1786.8" stroke="#000" stroke-width="3" />
<path d="M1903,1776 L1918.4,1786.8 L1903,1797.6" fill="none" stroke="#000" stroke-width="3.2" stroke-linecap="round" stroke-linejoin="round"/>
<circle cx="2024.0" cy="1600.2" r="10.5" fill="#e65a64"  stroke="#111" stroke-width="3.0"/>
<circle cx="2055.0" cy="1600.2" r="10.5" fill="#e65a64"  stroke="#111" stroke-width="3.0"/>
<circle cx="2086.0" cy="1600.2" r="10.5" fill="#e65a64"  stroke="#111" stroke-width="3.0"/>
<rect x="1965.0" y="1636.2" width="22.0" height="40.0" fill="#3d6a93" rx="9.0"  stroke="#111" stroke-width="3.0"/>
<rect x="2123.0" y="1636.2" width="22.0" height="40.0" fill="#3d6a93" rx="9.0"  stroke="#111" stroke-width="3.0"/>
<rect x="1980.0" y="1603.2" width="150.0" height="128.0" fill="#8fd4f7" rx="26.0"  stroke="#111" stroke-width="3.0"/>
<rect x="1996.0" y="1618.2" width="118.0" height="86.0" fill="#ddedf8" stroke="#111" stroke-width="3.0" rx="18.0"/>
<circle cx="2023.0" cy="1638.2" r="12.0" fill="#7dcff7"  stroke="#111" stroke-width="3.0"/>
<circle cx="2087.0" cy="1638.2" r="12.0" fill="#7dcff7"  stroke="#111" stroke-width="3.0"/>
<path d="M2040.0,1656.2 Q2055.0,1675.2 2070.0,1656.2" fill="none" stroke="#111" stroke-width="3.2" />
<line x1="2003.0" y1="1661.2" x2="2020.0" y2="1661.2" stroke="#111" stroke-width="3.4" stroke-linecap="round"/>
<line x1="2090.0" y1="1661.2" x2="2107.0" y2="1661.2" stroke="#111" stroke-width="3.4" stroke-linecap="round"/>
<line x1="2003.0" y1="1669.2" x2="2020.0" y2="1669.2" stroke="#111" stroke-width="3.4" stroke-linecap="round"/>
<line x1="2090.0" y1="1669.2" x2="2107.0" y2="1669.2" stroke="#111" stroke-width="3.4" stroke-linecap="round"/>
<rect x="2042.0" y="1732.2" width="26.0" height="19.0" fill="#3d6a93" rx="6.0"  stroke="#111" stroke-width="3.0"/>
<path d="M1998.0,1774.2 L1998.0,1758.2 Q1998.0,1742.2 2016.0,1742.2 L2094.0,1742.2 Q2111.0,1742.2 2111.0,1758.2 L2111.0,1774.2 Z" fill="#8fd4f7" stroke="#111" stroke-width="3.0" />
<text x="2033.0" y="1767.2" font-size="13.0" font-family="'Liberation Serif', serif" font-weight="bold" fill="#7a8a96" text-anchor="middle">LLM</text>
<path d="M1934.3,1835 L1968,1777 L2130.7,1774.6 L2100,1817 Z" fill="#fff" stroke="#111" stroke-width="5.88" stroke-linejoin="round"/>
<path d="M1981,1785 L2005,1792 L2032,1796 L2062,1793 L2085,1787 M2005,1792 L2013,1809 L1978,1811 M2032,1796 L2030,1815 M2062,1793 L2093,1801" fill="none" stroke="#777" stroke-width="0.9" />
<ellipse cx="1981.0" cy="1785.0" rx="6.0" ry="3.0" fill="#d0d0d0" stroke="#777" stroke-width="0.8"/>
<ellipse cx="2005.0" cy="1792.0" rx="6.0" ry="3.0" fill="#d0d0d0" stroke="#777" stroke-width="0.8"/>
<ellipse cx="2032.0" cy="1796.0" rx="6.0" ry="3.0" fill="#d0d0d0" stroke="#777" stroke-width="0.8"/>
<ellipse cx="2062.0" cy="1793.0" rx="6.0" ry="3.0" fill="#d0d0d0" stroke="#777" stroke-width="0.8"/>
<ellipse cx="2085.0" cy="1787.0" rx="6.0" ry="3.0" fill="#d0d0d0" stroke="#777" stroke-width="0.8"/>
<ellipse cx="2013.0" cy="1809.0" rx="6.0" ry="3.0" fill="#d0d0d0" stroke="#777" stroke-width="0.8"/>
<ellipse cx="1978.0" cy="1811.0" rx="6.0" ry="3.0" fill="#d0d0d0" stroke="#777" stroke-width="0.8"/>
<ellipse cx="2093.0" cy="1801.0" rx="6.0" ry="3.0" fill="#d0d0d0" stroke="#777" stroke-width="0.8"/>
<ellipse cx="2030.0" cy="1815.0" rx="6.0" ry="3.0" fill="#d0d0d0" stroke="#777" stroke-width="0.8"/>
<path d="M2040,1834 Q2050,1818 2100,1817" fill="none" stroke="#111" stroke-width="4" />
<circle cx="1724.4" cy="1597.6" r="51.0" fill="none" stroke="#4a8a2a" stroke-width="1.8" stroke-dasharray="8,4,2,4"/>
<line x1="1685.3" y1="1583.3" x2="1721.3" y2="1529.3" stroke="#111" stroke-width="1.8" />
<line x1="1648.1" y1="1548.4" x2="1685.3" y2="1583.3" stroke="#d2691e" stroke-width="1.8" />
<line x1="1685.3" y1="1583.3" x2="1721.3" y2="1598.3" stroke="#d2691e" stroke-width="1.8" />
<line x1="1721.3" y1="1598.3" x2="1706.3" y2="1629.4" stroke="#111" stroke-width="1.8" />
<line x1="1706.3" y1="1629.4" x2="1663.1" y2="1658.1" stroke="#111" stroke-width="1.8" />
<line x1="1706.3" y1="1629.4" x2="1745.8" y2="1681.0" stroke="#111" stroke-width="1.8" />
<line x1="1762.6" y1="1585.6" x2="1790.3" y2="1553.1" stroke="#111" stroke-width="1.8" />
<line x1="1762.6" y1="1585.6" x2="1810.3" y2="1629.4" stroke="#111" stroke-width="1.8" />
<line x1="1724.0" y1="1597.0" x2="1752.0" y2="1590.0" stroke="#d4a017" stroke-width="1.5" stroke-dasharray="4,3"/>
<circle cx="1648.1" cy="1548.4" r="9.0" fill="none" stroke="#d2691e" stroke-width="1.2" stroke-dasharray="3,2"/>
<circle cx="1721.3" cy="1598.3" r="9.0" fill="none" stroke="#8fa8e0" stroke-width="1.6" />
<circle cx="1721.3" cy="1529.3" r="5.6" fill="#9a9a9a" stroke="#111" stroke-width="1.6" />
<circle cx="1648.1" cy="1548.4" r="5.6" fill="#9a9a9a" stroke="#111" stroke-width="1.6" />
<circle cx="1685.3" cy="1583.3" r="5.6" fill="#9a9a9a" stroke="#111" stroke-width="1.6" />
<circle cx="1721.3" cy="1598.3" r="5.6" fill="#9a9a9a" stroke="#111" stroke-width="1.6" />
<circle cx="1762.6" cy="1585.6" r="5.6" fill="#9a9a9a" stroke="#111" stroke-width="1.6" />
<circle cx="1790.3" cy="1553.1" r="5.6" fill="#9a9a9a" stroke="#111" stroke-width="1.6" />
<circle cx="1706.3" cy="1629.4" r="5.6" fill="#9a9a9a" stroke="#111" stroke-width="1.6" />
<circle cx="1810.3" cy="1629.4" r="5.6" fill="#9a9a9a" stroke="#111" stroke-width="1.6" />
<circle cx="1663.1" cy="1658.1" r="5.6" fill="#9a9a9a" stroke="#111" stroke-width="1.6" />
<circle cx="1745.8" cy="1681.0" r="5.6" fill="#9a9a9a" stroke="#111" stroke-width="1.6" />
<text x="1630.0" y="1545.0" font-size="12" fill="#d2691e">?</text>
<text x="1748.0" y="1549.0" font-size="12" fill="#4a8a2a">?</text>
<text x="1708.0" y="1590.0" font-size="11" fill="#8fa8e0">?</text>
<text x="1744.0" y="1598.0" font-size="13" font-weight="bold" fill="#d4a017">?</text>
<rect x="1587.7" y="1699.4" width="70.9" height="17.5" fill="#d4a017" stroke="#111" stroke-width="1.1"/>
<text x="1623.2" y="1712.5" font-size="9.4" font-weight="bold" fill="#111" text-anchor="middle">Connectivity</text>
<rect x="1658.6" y="1699.4" width="46.8" height="17.5" fill="#8fa8e0" stroke="#111" stroke-width="1.1"/>
<text x="1682.0" y="1712.5" font-size="9.4" font-weight="bold" fill="#111" text-anchor="middle">Degree</text>
<rect x="1705.4" y="1699.4" width="86.8" height="17.5" fill="#4a8a2a" stroke="#111" stroke-width="1.1"/>
<text x="1748.8" y="1712.5" font-size="9.4" font-weight="bold" fill="#111" text-anchor="middle">Cycle Detection</text>
<rect x="1792.2" y="1699.4" width="86.4" height="17.5" fill="#d2691e" stroke="#111" stroke-width="1.1"/>
<text x="1835.4" y="1712.5" font-size="9.4" font-weight="bold" fill="#111" text-anchor="middle">Text Generation</text>
<rect x="1587.7" y="1719.1" width="290.9" height="24.2" fill="#dde3f3" rx="4"/>
<use href="#robot" x="1594.0" y="1719.0" width="24.0" height="24.0"/>
<text x="1636.0" y="1736.5" font-size="15" fill="#111" textLength="214" lengthAdjust="spacingAndGlyphs" stroke="#111" stroke-width="0.5">GTA Instruction Fine-tuning</text>
<line x1="2447.9" y1="1642.5" x2="2407.5" y2="1531.6" stroke="#c8c8c8" stroke-width="1" />
<line x1="2447.9" y1="1642.5" x2="2488.3" y2="1531.6" stroke="#c8c8c8" stroke-width="1" />
<line x1="2447.9" y1="1642.5" x2="2550.1" y2="1583.5" stroke="#c8c8c8" stroke-width="1" />
<line x1="2447.9" y1="1642.5" x2="2564.1" y2="1663.0" stroke="#c8c8c8" stroke-width="1" />
<line x1="2447.9" y1="1642.5" x2="2523.7" y2="1732.9" stroke="#c8c8c8" stroke-width="1" />
<line x1="2447.9" y1="1642.5" x2="2447.9" y2="1760.5" stroke="#c8c8c8" stroke-width="1" />
<line x1="2447.9" y1="1642.5" x2="2372.1" y2="1732.9" stroke="#c8c8c8" stroke-width="1" />
<line x1="2447.9" y1="1642.5" x2="2331.7" y2="1663.0" stroke="#c8c8c8" stroke-width="1" />
<line x1="2447.9" y1="1642.5" x2="2345.7" y2="1583.5" stroke="#c8c8c8" stroke-width="1" />
<path d="M2414.6,1553.2 L2475.4,1563.9 L2526.1,1597.9 L2550.4,1662.1 L2523.6,1728.2 L2447.9,1742.5 L2385.0,1713.9 L2358.6,1658.6 L2372.9,1599.6 Z" fill="#5fb5b0" stroke="#138a8a" stroke-width="2.4" fill-opacity="0.38"/>
<path d="M2416.4,1559.3 L2470.0,1581.8 L2496.8,1610.4 L2534.3,1658.6 L2502.9,1706.8 L2447.9,1725.7 L2393.2,1706.8 L2392.1,1651.4 L2406.4,1622.9 Z" fill="#b07ce0" stroke="#ff22ff" stroke-width="2.4" fill-opacity="0.45"/>
<path d="M2421.8,1571.1 L2466.4,1593.6 L2493.9,1613.9 L2512.1,1651.4 L2502.1,1704.3 L2447.9,1712.1 L2407.5,1690.7 L2416.4,1647.9 L2412.1,1630.0 Z" fill="#e8a070" stroke="#ffa500" stroke-width="2.4" fill-opacity="0.35"/>
<circle cx="2447.9" cy="1642.5" r="118.0" fill="none" stroke="#111" stroke-width="2" />
<text x="2405.0" y="1528.6" font-size="13.5" font-family="'Liberation Serif', serif" fill="#222" text-anchor="middle">Texas</text>
<text x="2490.7" y="1528.6" font-size="13.5" font-family="'Liberation Serif', serif" fill="#222" text-anchor="middle">Washington</text>
<text x="2556.4" y="1583.9" font-size="13.5" font-family="'Liberation Serif', serif" fill="#222" text-anchor="middle">Cornell</text>
<text x="2571.8" y="1668.2" font-size="13.5" font-family="'Liberation Serif', serif" fill="#222" text-anchor="middle">Cora</text>
<text x="2528.9" y="1742.1" font-size="13.5" font-family="'Liberation Serif', serif" fill="#222" text-anchor="middle">PubMed</text>
<text x="2447.9" y="1770.7" font-size="13.5" font-family="'Liberation Serif', serif" fill="#222" text-anchor="middle">Wiki CS</text>
<text x="2367.1" y="1742.1" font-size="13.5" font-family="'Liberation Serif', serif" fill="#222" text-anchor="middle">Amazon</text>
<text x="2324.3" y="1668.2" font-size="13.5" font-family="'Liberation Serif', serif" fill="#222" text-anchor="middle">Arxiv</text>
<text x="2339.6" y="1583.9" font-size="13.5" font-family="'Liberation Serif', serif" fill="#222" text-anchor="middle">Wisconsin</text>
<text x="2431.4" y="1547.0" font-size="11.5" font-family="'Liberation Serif', serif" font-weight="bold" fill="#111" text-anchor="middle">75.59</text>
<text x="2398.6" y="1554.1" font-size="11.5" font-family="'Liberation Serif', serif" font-weight="bold" fill="#111" text-anchor="middle">70.24</text>
<text x="2494.3" y="1560.2" font-size="11.5" font-family="'Liberation Serif', serif" font-weight="bold" fill="#111" text-anchor="middle">64.95</text>
<text x="2437.1" y="1574.5" font-size="11.5" font-family="'Liberation Serif', serif" font-weight="bold" fill="#111" text-anchor="middle">61.00</text>
<text x="2452.9" y="1579.1" font-size="11.5" font-family="'Liberation Serif', serif" font-weight="bold" fill="#111" text-anchor="middle">49.21</text>
<text x="2544.3" y="1594.5" font-size="11.5" font-family="'Liberation Serif', serif" font-weight="bold" fill="#111" text-anchor="middle">69.84</text>
<text x="2388.6" y="1595.9" font-size="11.5" font-family="'Liberation Serif', serif" font-weight="bold" fill="#111" text-anchor="middle">67.05</text>
<text x="2483.6" y="1600.6" font-size="11.5" font-family="'Liberation Serif', serif" font-weight="bold" fill="#111" text-anchor="middle">39.76</text>
<text x="2483.6" y="1610.2" font-size="11.5" font-family="'Liberation Serif', serif" font-weight="bold" fill="#111" text-anchor="middle">45.78</text>
<text x="2388.6" y="1615.9" font-size="11.5" font-family="'Liberation Serif', serif" font-weight="bold" fill="#111" text-anchor="middle">36.32</text>
<text x="2514.6" y="1622.0" font-size="11.5" font-family="'Liberation Serif', serif" font-weight="bold" fill="#111" text-anchor="middle">42.78</text>
<text x="2423.6" y="1626.6" font-size="11.5" font-family="'Liberation Serif', serif" font-weight="bold" fill="#111" text-anchor="middle">35.89</text>
<text x="2372.9" y="1650.6" font-size="11.5" font-family="'Liberation Serif', serif" font-weight="bold" fill="#111" text-anchor="middle">44.17</text>
<text x="2372.9" y="1657.0" font-size="11.5" font-family="'Liberation Serif', serif" font-weight="bold" fill="#111" text-anchor="middle">71.62</text>
<text x="2431.4" y="1657.0" font-size="11.5" font-family="'Liberation Serif', serif" font-weight="bold" fill="#111" text-anchor="middle">24.11</text>
<text x="2523.6" y="1657.0" font-size="11.5" font-family="'Liberation Serif', serif" font-weight="bold" fill="#111" text-anchor="middle">70.64</text>
<text x="2531.4" y="1663.1" font-size="11.5" font-family="'Liberation Serif', serif" font-weight="bold" fill="#111" text-anchor="middle">50.85</text>
<text x="2569.3" y="1658.8" font-size="11.5" font-family="'Liberation Serif', serif" font-weight="bold" fill="#111" text-anchor="middle">81.24</text>
<text x="2423.6" y="1700.6" font-size="11.5" font-family="'Liberation Serif', serif" font-weight="bold" fill="#111" text-anchor="middle">49.13</text>
<text x="2487.9" y="1707.7" font-size="11.5" font-family="'Liberation Serif', serif" font-weight="bold" fill="#111" text-anchor="middle">66.60</text>
<text x="2375.4" y="1707.7" font-size="11.5" font-family="'Liberation Serif', serif" font-weight="bold" fill="#111" text-anchor="middle">66.10</text>
<text x="2400.4" y="1717.4" font-size="11.5" font-family="'Liberation Serif', serif" font-weight="bold" fill="#111" text-anchor="middle">76.01</text>
<text x="2521.8" y="1718.4" font-size="11.5" font-family="'Liberation Serif', serif" font-weight="bold" fill="#111" text-anchor="middle">66.60</text>
<text x="2430.7" y="1726.6" font-size="11.5" font-family="'Liberation Serif', serif" font-weight="bold" fill="#111" text-anchor="middle">65.27</text>
<text x="2464.6" y="1723.1" font-size="11.5" font-family="'Liberation Serif', serif" font-weight="bold" fill="#111" text-anchor="middle">54.14</text>
<text x="2539.6" y="1729.5" font-size="11.5" font-family="'Liberation Serif', serif" font-weight="bold" fill="#111" text-anchor="middle">88.84</text>
<text x="2464.6" y="1744.5" font-size="11.5" font-family="'Liberation Serif', serif" font-weight="bold" fill="#111" text-anchor="middle">79.11</text>
<rect x="2195.0" y="1776.4" width="505.4" height="48.2" fill="#fff" stroke="#bbb" stroke-width="1.3" rx="7"/>
<line x1="2211.0" y1="1790.7" x2="2275.4" y2="1790.7" stroke="#ffa500" stroke-width="2.6" />
<text x="2285.0" y="1797.0" font-size="17.5" font-family="'Liberation Serif', serif" textLength="102" lengthAdjust="spacingAndGlyphs">Original LLM</text>
<line x1="2391.4" y1="1790.7" x2="2455.7" y2="1790.7" stroke="#ff22ff" stroke-width="2.6" />
<text x="2475.4" y="1797.0" font-size="17.5" font-family="'Liberation Serif', serif" textLength="212.5" lengthAdjust="spacingAndGlyphs">LLM with structural attributes</text>
<line x1="2257.5" y1="1809.3" x2="2321.8" y2="1809.3" stroke="#138a8a" stroke-width="2.6" />
<text x="2333.6" y="1815.7" font-size="17.5" font-family="'Liberation Serif', serif" textLength="293.5" lengthAdjust="spacingAndGlyphs">Fine-tuned LLM with structural attributes</text>
<rect x="1227.5" y="1880.1" width="119.1" height="59.9" fill="#a0a0c8" rx="7"/>
<text x="1255.0" y="1921.4" font-size="35" font-weight="bold" textLength="64" lengthAdjust="spacingAndGlyphs">GNS</text>
<text x="1394.7" y="1919.3" font-size="32.5" textLength="734.3" lengthAdjust="spacingAndGlyphs" xml:space="preserve">By the <tspan font-weight="bold"><tspan font-style="italic">K</tspan>-uncertainty (</tspan><tspan font-family="'Liberation Serif',serif" font-weight="bold" font-style="italic">δ</tspan><tspan font-family="'Liberation Serif',serif" font-weight="bold" font-style="italic" font-size="22" dy="6">K</tspan><tspan font-weight="bold" dy="-6">)</tspan> and <tspan font-weight="bold" font-style="italic">preference ranking</tspan></text>
<text x="1394.7" y="1967.5" font-size="32.5" textLength="697.8" lengthAdjust="spacingAndGlyphs" xml:space="preserve"><tspan font-family="'Liberation Serif',serif" font-weight="bold" font-style="italic">V</tspan><tspan font-family="'Liberation Serif',serif" font-weight="bold" font-style="italic" font-size="22" dy="6">PR</tspan><tspan dy="-6">, GNS selects the nodes and Distance-based</tspan></text>
<text x="1394.7" y="2015.6" font-size="32.5" textLength="668.9" lengthAdjust="spacingAndGlyphs">Neighbor Selector (DNS) constructs prompts to</text>
<text x="1394.7" y="2059.0" font-size="32.5">query LLM.</text>
<text x="1350" y="2138.1" font-family="'Liberation Serif',serif" font-size="29" xml:space="preserve"><tspan font-style="italic">δ</tspan><tspan font-style="italic" font-size="20" dy="5">K</tspan><tspan dy="-5">(</tspan><tspan font-style="italic">v</tspan>)</text>
<text x="1436.0" y="2140.0" font-size="29" font-family="'Liberation Serif', serif">=</text>
<path d="M1439,2122 L1445,2113 L1451,2122 Z" fill="none" stroke="#111" stroke-width="1.3" />
<text x="1494.0" y="2146.0" font-size="58" font-family="'Liberation Serif', serif">∑</text>
<text x="1508.0" y="2100.0" font-size="20" font-family="'Liberation Serif', serif" font-style="italic">B</text>
<text x="1464" y="2174" font-family="'Liberation Serif',serif" font-size="21" textLength="101" lengthAdjust="spacingAndGlyphs">1≤<tspan font-style="italic">i</tspan>&lt;<tspan font-style="italic">j</tspan>≤<tspan font-style="italic">B</tspan></text>
<text x="1566" y="2138.1" font-family="'Liberation Serif',serif" font-size="29" textLength="563" lengthAdjust="spacingAndGlyphs" xml:space="preserve">[<tspan font-style="italic">D</tspan><tspan font-style="italic" font-size="20" dy="5">KL</tspan><tspan dy="-5">(</tspan><tspan font-style="italic">f</tspan><tspan font-style="italic" font-size="17" dy="-12">θ</tspan><tspan font-style="italic" font-size="18" dy="19" dx="-9">T</tspan><tspan font-size="13" dy="3">i</tspan><tspan dy="-10">(</tspan><tspan font-style="italic">v</tspan>)||<tspan font-style="italic">f</tspan><tspan font-style="italic" font-size="17" dy="-12">θ</tspan><tspan font-style="italic" font-size="18" dy="19" dx="-9">T</tspan><tspan font-size="13" dy="3">j</tspan><tspan dy="-10">(</tspan><tspan font-style="italic">v</tspan>)) + <tspan font-style="italic">D</tspan><tspan font-style="italic" font-size="20" dy="5">KL</tspan><tspan dy="-5">(</tspan><tspan font-style="italic">f</tspan><tspan font-style="italic" font-size="17" dy="-12">θ</tspan><tspan font-style="italic" font-size="18" dy="19" dx="-9">T</tspan><tspan font-size="13" dy="3">j</tspan><tspan dy="-10">(</tspan><tspan font-style="italic">v</tspan>)||<tspan font-style="italic">f</tspan><tspan font-style="italic" font-size="17" dy="-12">θ</tspan><tspan font-style="italic" font-size="18" dy="19" dx="-9">T</tspan><tspan font-size="13" dy="3">i</tspan><tspan dy="-10">(</tspan><tspan font-style="italic">v</tspan>))]</text>
<text x="1399.6" y="2219.3" font-family="'Liberation Serif',serif" font-size="29" textLength="673" lengthAdjust="spacingAndGlyphs" xml:space="preserve"><tspan font-style="italic">V</tspan><tspan font-style="italic" font-size="20" dy="5">PR</tspan><tspan dy="-5"> = Sort({</tspan><tspan font-style="italic">v</tspan><tspan font-size="20" dy="5">1</tspan><tspan dy="-5">, . . . , </tspan><tspan font-style="italic">v</tspan><tspan font-style="italic" font-size="20" dy="5">N</tspan><tspan dy="-5">} , </tspan><tspan font-style="italic">δ</tspan><tspan font-style="italic" font-size="20" dy="5">K</tspan><tspan dy="-5">(</tspan><tspan font-style="italic">v</tspan><tspan font-size="20" dy="5">1</tspan><tspan dy="-5">), </tspan><tspan font-style="italic">δ</tspan><tspan font-style="italic" font-size="20" dy="5">K</tspan><tspan dy="-5">(</tspan><tspan font-style="italic">v</tspan><tspan font-size="20" dy="5">2</tspan><tspan dy="-5">), . . . , </tspan><tspan font-style="italic">δ</tspan><tspan font-style="italic" font-size="20" dy="5">K</tspan><tspan dy="-5">(</tspan><tspan font-style="italic">v</tspan><tspan font-style="italic" font-size="20" dy="5">N</tspan><tspan dy="-5">))</tspan></text>
<circle cx="2266.3" cy="1932.6" r="72.7" fill="#fff" stroke="#666" stroke-width="1.1" />
<line x1="2193.6" y1="1932.6" x2="2339.0" y2="1932.6" stroke="#d8d8d8" stroke-width="1" />
<line x1="2214.9" y1="1881.2" x2="2317.7" y2="1984.0" stroke="#d8d8d8" stroke-width="1" />
<line x1="2266.3" y1="1859.9" x2="2266.3" y2="2005.3" stroke="#d8d8d8" stroke-width="1" />
<line x1="2317.7" y1="1881.2" x2="2214.9" y2="1984.0" stroke="#d8d8d8" stroke-width="1" />
<path d="M2266.3,1932.6 L2335.2,1929.0 L2335.3,1935.0 Z" fill="#27adb4" />
<path d="M2266.3,1932.6 L2276.3,1932.4 L2276.3,1932.8 Z" fill="#27a8b5" />
<line x1="2360.3" y1="1931.6" x2="2350.8" y2="1931.6" stroke="#000" stroke-width="3.6" />
<path d="M2342.3,1931.6 L2351.3,1925.1 L2348.6,1931.6 L2351.3,1938.1 Z" fill="#000" />
<circle cx="2473.3" cy="1932.6" r="72.7" fill="#fff" stroke="#666" stroke-width="1.1" />
<line x1="2400.6" y1="1932.6" x2="2546.0" y2="1932.6" stroke="#d8d8d8" stroke-width="1" />
<line x1="2421.9" y1="1881.2" x2="2524.7" y2="1984.0" stroke="#d8d8d8" stroke-width="1" />
<line x1="2473.3" y1="1859.9" x2="2473.3" y2="2005.3" stroke="#d8d8d8" stroke-width="1" />
<line x1="2524.7" y1="1881.2" x2="2421.9" y2="1984.0" stroke="#d8d8d8" stroke-width="1" />
<path d="M2473.3,1932.6 L2498.8,1903.8 L2500.5,1905.4 Z" fill="#27a3b6" />
<path d="M2473.3,1932.6 L2501.3,1896.9 L2503.4,1898.6 Z" fill="#27a1b7" />
<path d="M2473.3,1932.6 L2512.6,1875.6 L2516.0,1878.0 Z" fill="#28a0b7" />
<path d="M2473.3,1932.6 L2500.2,1888.0 L2502.8,1889.7 Z" fill="#289eb7" />
<path d="M2473.3,1932.6 L2494.4,1892.3 L2496.7,1893.6 Z" fill="#289db8" />
<path d="M2473.3,1932.6 L2490.6,1893.9 L2492.9,1895.0 Z" fill="#289bb8" />
<path d="M2473.3,1932.6 L2491.6,1883.8 L2494.5,1885.0 Z" fill="#289ab9" />
<path d="M2473.3,1932.6 L2492.8,1869.3 L2496.5,1870.5 Z" fill="#2898b9" />
<path d="M2473.3,1932.6 L2483.3,1891.1 L2485.8,1891.8 Z" fill="#2897b9" />
<path d="M2473.3,1932.6 L2480.4,1892.6 L2482.8,1893.0 Z" fill="#2895ba" />
<path d="M2473.3,1932.6 L2478.4,1888.7 L2481.0,1889.1 Z" fill="#2894ba" />
<path d="M2473.3,1932.6 L2476.4,1874.5 L2479.9,1874.7 Z" fill="#2893ba" />
<path d="M2473.3,1932.6 L2472.9,1873.9 L2476.4,1873.9 Z" fill="#2891bb" />
<path d="M2473.3,1932.6 L2469.8,1881.6 L2472.9,1881.5 Z" fill="#2890bb" />
<path d="M2473.3,1932.6 L2468.4,1895.1 L2470.7,1894.9 Z" fill="#298ebb" />
<path d="M2473.3,1932.6 L2462.7,1877.8 L2466.0,1877.3 Z" fill="#298dbc" />
<path d="M2473.3,1932.6 L2456.3,1866.2 L2460.2,1865.3 Z" fill="#298bbc" />
<path d="M2473.3,1932.6 L2454.7,1875.0 L2458.2,1874.0 Z" fill="#298abc" />
<path d="M2473.3,1932.6 L2457.4,1892.0 L2459.8,1891.2 Z" fill="#2988bd" />
<path d="M2473.3,1932.6 L2451.8,1886.2 L2454.6,1885.0 Z" fill="#2987bd" />
<path d="M2473.3,1932.6 L2440.0,1871.0 L2443.7,1869.2 Z" fill="#2985be" />
<path d="M2473.3,1932.6 L2446.4,1889.5 L2449.1,1887.9 Z" fill="#2984be" />
<path d="M2473.3,1932.6 L2443.5,1890.6 L2446.0,1889.0 Z" fill="#2983be" />
<path d="M2473.3,1932.6 L2447.3,1900.3 L2449.2,1898.9 Z" fill="#2981bf" />
<path d="M2473.3,1932.6 L2436.5,1892.3 L2439.0,1890.2 Z" fill="#2980bf" />
<path d="M2473.3,1932.6 L2431.5,1892.1 L2434.0,1889.7 Z" fill="#297ebf" />
<path d="M2473.3,1932.6 L2437.4,1901.8 L2439.3,1899.7 Z" fill="#297cbf" />
<path d="M2473.3,1932.6 L2434.7,1903.4 L2436.5,1901.2 Z" fill="#297abf" />
<path d="M2473.3,1932.6 L2434.0,1906.5 L2435.6,1904.2 Z" fill="#2978be" />
<path d="M2473.3,1932.6 L2414.2,1898.4 L2416.4,1894.9 Z" fill="#2976be" />
<path d="M2473.3,1932.6 L2417.6,1904.7 L2419.4,1901.5 Z" fill="#2974be" />
<path d="M2473.3,1932.6 L2454.2,1924.5 L2454.7,1923.3 Z" fill="#2972bd" />
<path d="M2473.3,1932.6 L2451.2,1924.7 L2451.7,1923.4 Z" fill="#296fbd" />
<path d="M2473.3,1932.6 L2447.7,1925.2 L2448.2,1923.7 Z" fill="#296dbc" />
<path d="M2473.3,1932.6 L2445.6,1926.4 L2446.0,1924.8 Z" fill="#296bbc" />
<path d="M2473.3,1932.6 L2451.2,1929.1 L2451.4,1927.7 Z" fill="#2969bb" />
<path d="M2473.3,1932.6 L2450.5,1930.4 L2450.7,1929.0 Z" fill="#2967bb" />
<path d="M2473.3,1932.6 L2447.0,1931.6 L2447.1,1930.1 Z" fill="#2965ba" />
<path d="M2473.3,1932.6 L2441.8,1933.4 L2441.8,1931.5 Z" fill="#2963ba" />
<path d="M2473.3,1932.6 L2443.0,1935.2 L2442.9,1933.4 Z" fill="#2960ba" />
<line x1="2567.3" y1="1931.6" x2="2557.8" y2="1931.6" stroke="#000" stroke-width="3.6" />
<path d="M2549.3,1931.6 L2558.3,1925.1 L2555.6,1931.6 L2558.3,1938.1 Z" fill="#000" />
<circle cx="2266.3" cy="2122.4" r="72.7" fill="#fff" stroke="#666" stroke-width="1.1" />
<line x1="2193.6" y1="2122.4" x2="2339.0" y2="2122.4" stroke="#d8d8d8" stroke-width="1" />
<line x1="2214.9" y1="2071.0" x2="2317.7" y2="2173.8" stroke="#d8d8d8" stroke-width="1" />
<line x1="2266.3" y1="2049.7" x2="2266.3" y2="2195.1" stroke="#d8d8d8" stroke-width="1" />
<line x1="2317.7" y1="2071.0" x2="2214.9" y2="2173.8" stroke="#d8d8d8" stroke-width="1" />
<path d="M2266.3,2122.4 L2292.1,2093.7 L2293.6,2095.1 Z" fill="#289db8" />
<path d="M2266.3,2122.4 L2287.6,2095.9 L2289.0,2097.1 Z" fill="#289cb8" />
<path d="M2266.3,2122.4 L2294.7,2082.7 L2296.8,2084.2 Z" fill="#289bb8" />
<path d="M2266.3,2122.4 L2290.9,2083.6 L2292.9,2084.9 Z" fill="#289ab9" />
<path d="M2266.3,2122.4 L2282.1,2094.2 L2283.5,2095.0 Z" fill="#2899b9" />
<path d="M2266.3,2122.4 L2284.8,2084.4 L2286.8,2085.5 Z" fill="#2898b9" />
<path d="M2266.3,2122.4 L2282.1,2084.8 L2284.0,2085.7 Z" fill="#2896b9" />
<path d="M2266.3,2122.4 L2283.5,2074.1 L2286.0,2075.1 Z" fill="#2895ba" />
<path d="M2266.3,2122.4 L2279.5,2077.4 L2281.9,2078.2 Z" fill="#2894ba" />
<path d="M2266.3,2122.4 L2274.0,2089.7 L2275.7,2090.1 Z" fill="#2893ba" />
<path d="M2266.3,2122.4 L2275.7,2068.8 L2278.5,2069.4 Z" fill="#2892bb" />
<path d="M2266.3,2122.4 L2272.6,2069.2 L2275.4,2069.6 Z" fill="#2891bb" />
<path d="M2266.3,2122.4 L2270.2,2060.0 L2273.5,2060.3 Z" fill="#288fbb" />
<path d="M2266.3,2122.4 L2266.8,2052.4 L2270.5,2052.5 Z" fill="#298ebb" />
<path d="M2266.3,2122.4 L2263.6,2067.9 L2266.5,2067.8 Z" fill="#298dbc" />
<path d="M2266.3,2122.4 L2259.5,2058.1 L2262.9,2057.8 Z" fill="#298cbc" />
<path d="M2266.3,2122.4 L2258.1,2071.9 L2260.8,2071.5 Z" fill="#298bbc" />
<path d="M2266.3,2122.4 L2251.3,2054.0 L2254.9,2053.3 Z" fill="#298abd" />
<path d="M2266.3,2122.4 L2247.5,2055.0 L2251.0,2054.1 Z" fill="#2988bd" />
<path d="M2266.3,2122.4 L2244.6,2058.8 L2248.0,2057.7 Z" fill="#2987bd" />
<path d="M2266.3,2122.4 L2240.8,2059.4 L2244.2,2058.1 Z" fill="#2986bd" />
<path d="M2266.3,2122.4 L2241.0,2068.6 L2243.9,2067.4 Z" fill="#2985be" />
<path d="M2266.3,2122.4 L2233.0,2060.8 L2236.3,2059.2 Z" fill="#2984be" />
<path d="M2266.3,2122.4 L2230.8,2064.6 L2233.8,2062.8 Z" fill="#2983be" />
<path d="M2266.3,2122.4 L2227.5,2066.6 L2230.5,2064.6 Z" fill="#2982bf" />
<path d="M2266.3,2122.4 L2242.5,2091.9 L2244.1,2090.7 Z" fill="#2980bf" />
<path d="M2266.3,2122.4 L2233.2,2084.6 L2235.3,2083.0 Z" fill="#297fbf" />
<path d="M2266.3,2122.4 L2218.7,2073.8 L2221.3,2071.4 Z" fill="#297ebf" />
<path d="M2266.3,2122.4 L2237.3,2096.0 L2238.8,2094.5 Z" fill="#297dbf" />
<path d="M2266.3,2122.4 L2231.5,2094.0 L2233.0,2092.2 Z" fill="#297bbf" />
<path d="M2266.3,2122.4 L2244.6,2106.6 L2245.5,2105.5 Z" fill="#2979bf" />
<path d="M2266.3,2122.4 L2227.6,2097.5 L2229.0,2095.5 Z" fill="#2978be" />
<path d="M2266.3,2122.4 L2227.7,2100.5 L2228.9,2098.5 Z" fill="#2976be" />
<path d="M2266.3,2122.4 L2217.2,2098.0 L2218.6,2095.5 Z" fill="#2974be" />
<path d="M2266.3,2122.4 L2220.7,2102.8 L2221.7,2100.5 Z" fill="#2972bd" />
<path d="M2266.3,2122.4 L2234.8,2110.9 L2235.4,2109.3 Z" fill="#2971bd" />
<path d="M2266.3,2122.4 L2231.3,2111.8 L2231.9,2110.0 Z" fill="#296fbd" />
<path d="M2266.3,2122.4 L2222.5,2111.8 L2223.1,2109.5 Z" fill="#296dbc" />
<path d="M2266.3,2122.4 L2241.0,2117.8 L2241.3,2116.4 Z" fill="#296cbc" />
<path d="M2266.3,2122.4 L2227.8,2117.5 L2228.1,2115.5 Z" fill="#296abb" />
<path d="M2266.3,2122.4 L2236.3,2120.3 L2236.5,2118.7 Z" fill="#2968bb" />
<path d="M2266.3,2122.4 L2249.2,2122.2 L2249.2,2121.3 Z" fill="#2967bb" />
<path d="M2266.3,2122.4 L2250.3,2123.1 L2250.2,2122.2 Z" fill="#2965ba" />
<path d="M2266.3,2122.4 L2237.6,2125.2 L2237.5,2123.7 Z" fill="#2963ba" />
<path d="M2266.3,2122.4 L2249.2,2125.1 L2249.1,2124.2 Z" fill="#2961ba" />
<path d="M2266.3,2122.4 L2247.3,2126.4 L2247.1,2125.4 Z" fill="#2960b9" />
<path d="M2266.3,2122.4 L2245.0,2128.2 L2244.8,2127.1 Z" fill="#295eb9" />
<path d="M2266.3,2122.4 L2237.2,2132.1 L2236.7,2130.5 Z" fill="#295cb9" />
<path d="M2266.3,2122.4 L2251.0,2128.5 L2250.7,2127.6 Z" fill="#295bb8" />
<path d="M2266.3,2122.4 L2245.3,2132.1 L2244.9,2131.0 Z" fill="#2959b8" />
<path d="M2266.3,2122.4 L2244.3,2134.1 L2243.7,2132.9 Z" fill="#2957b8" />
<path d="M2266.3,2122.4 L2239.9,2138.4 L2239.1,2137.0 Z" fill="#2856b7" />
<path d="M2266.3,2122.4 L2241.8,2139.2 L2240.9,2137.9 Z" fill="#2854b7" />
<path d="M2266.3,2122.4 L2242.1,2141.0 L2241.2,2139.7 Z" fill="#2852b7" />
<path d="M2266.3,2122.4 L2251.2,2135.5 L2250.5,2134.7 Z" fill="#2850b6" />
<line x1="2360.3" y1="2121.4" x2="2350.8" y2="2121.4" stroke="#000" stroke-width="3.6" />
<path d="M2342.3,2121.4 L2351.3,2114.9 L2348.6,2121.4 L2351.3,2127.9 Z" fill="#000" />
<circle cx="2473.3" cy="2122.4" r="72.7" fill="#fff" stroke="#666" stroke-width="1.1" />
<line x1="2400.6" y1="2122.4" x2="2546.0" y2="2122.4" stroke="#d8d8d8" stroke-width="1" />
<line x1="2421.9" y1="2071.0" x2="2524.7" y2="2173.8" stroke="#d8d8d8" stroke-width="1" />
<line x1="2473.3" y1="2049.7" x2="2473.3" y2="2195.1" stroke="#d8d8d8" stroke-width="1" />
<line x1="2524.7" y1="2071.0" x2="2421.9" y2="2173.8" stroke="#d8d8d8" stroke-width="1" />
<path d="M2473.3,2122.4 L2502.0,2096.4 L2502.9,2097.5 Z" fill="#289db8" />
<path d="M2473.3,2122.4 L2496.7,2094.8 L2497.7,2095.8 Z" fill="#289ab8" />
<path d="M2473.3,2122.4 L2505.7,2072.1 L2507.6,2073.4 Z" fill="#2898b9" />
<path d="M2473.3,2122.4 L2500.3,2065.4 L2502.4,2066.4 Z" fill="#2895ba" />
<path d="M2473.3,2122.4 L2481.5,2096.9 L2482.5,2097.2 Z" fill="#2892bb" />
<path d="M2473.3,2122.4 L2478.3,2094.9 L2479.3,2095.1 Z" fill="#298fbb" />
<path d="M2473.3,2122.4 L2474.8,2092.0 L2476.0,2092.1 Z" fill="#298cbc" />
<path d="M2473.3,2122.4 L2470.8,2092.0 L2472.0,2091.9 Z" fill="#2989bd" />
<path d="M2473.3,2122.4 L2459.4,2057.9 L2461.8,2057.4 Z" fill="#2986bd" />
<path d="M2473.3,2122.4 L2451.1,2060.3 L2453.5,2059.5 Z" fill="#2984be" />
<path d="M2473.3,2122.4 L2458.8,2094.1 L2459.9,2093.6 Z" fill="#2981bf" />
<path d="M2473.3,2122.4 L2435.7,2068.1 L2437.8,2066.7 Z" fill="#297ebf" />
<path d="M2473.3,2122.4 L2447.2,2093.6 L2448.3,2092.6 Z" fill="#297abf" />
<path d="M2473.3,2122.4 L2445.4,2098.7 L2446.3,2097.7 Z" fill="#2976be" />
<path d="M2473.3,2122.4 L2435.1,2097.8 L2436.0,2096.3 Z" fill="#2972bd" />
<path d="M2473.3,2122.4 L2416.4,2095.5 L2417.5,2093.4 Z" fill="#296dbc" />
<path d="M2473.3,2122.4 L2424.7,2106.8 L2425.3,2104.9 Z" fill="#2969bb" />
<path d="M2473.3,2122.4 L2430.8,2114.7 L2431.1,2113.1 Z" fill="#2965ba" />
<path d="M2473.3,2122.4 L2425.6,2120.1 L2425.7,2118.2 Z" fill="#2961ba" />
<path d="M2473.3,2122.4 L2423.0,2126.5 L2422.9,2124.6 Z" fill="#295db9" />
<path d="M2473.3,2122.4 L2451.4,2127.1 L2451.2,2126.3 Z" fill="#2958b8" />
<path d="M2473.3,2122.4 L2416.4,2142.8 L2415.6,2140.6 Z" fill="#2854b7" />
<path d="M2473.3,2122.4 L2424.3,2147.6 L2423.4,2145.7 Z" fill="#2850b6" />
<path d="M2473.3,2122.4 L2424.5,2156.2 L2423.2,2154.3 Z" fill="#284cb5" />
<path d="M2473.3,2122.4 L2431.9,2160.0 L2430.5,2158.3 Z" fill="#2848b4" />
<path d="M2473.3,2122.4 L2448.9,2151.1 L2447.9,2150.2 Z" fill="#2843b4" />
<path d="M2473.3,2122.4 L2490.2,2128.6 L2490.0,2129.1 Z" fill="#283fb3" />
<path d="M2473.3,2122.4 L2481.3,2136.3 L2480.8,2136.5 Z" fill="#283fb3" />
<path d="M2473.3,2122.4 L2471.7,2140.3 L2471.1,2140.3 Z" fill="#283fb3" />
<line x1="2567.3" y1="2121.4" x2="2557.8" y2="2121.4" stroke="#000" stroke-width="3.6" />
<path d="M2549.3,2121.4 L2558.3,2114.9 L2555.6,2121.4 L2558.3,2127.9 Z" fill="#000" />
<text x="2230.5" y="2032.4" font-family="'Liberation Serif',serif" font-size="23"><tspan font-style="italic">N</tspan><tspan font-style="italic" font-size="16" dy="5">P</tspan><tspan dy="-5"> = 1</tspan></text>
<text x="2438.3" y="2032.4" font-family="'Liberation Serif',serif" font-size="23"><tspan font-style="italic">N</tspan><tspan font-style="italic" font-size="16" dy="5">P</tspan><tspan dy="-5"> = 2</tspan></text>
<text x="2230.5" y="2227.1" font-family="'Liberation Serif',serif" font-size="23"><tspan font-style="italic">N</tspan><tspan font-style="italic" font-size="16" dy="5">P</tspan><tspan dy="-5"> = 3</tspan></text>
<text x="2438.3" y="2227.1" font-family="'Liberation Serif',serif" font-size="23"><tspan font-style="italic">N</tspan><tspan font-style="italic" font-size="16" dy="5">P</tspan><tspan dy="-5"> = 4</tspan></text>
<rect x="2590.4" y="1924.0" width="11.1" height="228.7" fill="url(#cbar)" stroke="#555" stroke-width="0.6"/>
<line x1="2601.5" y1="1958.5" x2="2605.5" y2="1958.5" stroke="#333" stroke-width="1" />
<text x="2612.6" y="1966.0" font-size="22" font-family="'Liberation Serif', serif">1.0</text>
<line x1="2601.5" y1="1997.4" x2="2605.5" y2="1997.4" stroke="#333" stroke-width="1" />
<text x="2612.6" y="2004.9" font-size="22" font-family="'Liberation Serif', serif">0.8</text>
<line x1="2601.5" y1="2036.1" x2="2605.5" y2="2036.1" stroke="#333" stroke-width="1" />
<text x="2612.6" y="2043.6" font-size="22" font-family="'Liberation Serif', serif">0.6</text>
<line x1="2601.5" y1="2074.8" x2="2605.5" y2="2074.8" stroke="#333" stroke-width="1" />
<text x="2612.6" y="2082.3" font-size="22" font-family="'Liberation Serif', serif">0.4</text>
<line x1="2601.5" y1="2113.7" x2="2605.5" y2="2113.7" stroke="#333" stroke-width="1" />
<text x="2612.6" y="2121.2" font-size="22" font-family="'Liberation Serif', serif">0.2</text>
<line x1="2601.5" y1="2152.7" x2="2605.5" y2="2152.7" stroke="#333" stroke-width="1" />
<text x="2612.6" y="2160.2" font-size="22" font-family="'Liberation Serif', serif">0</text>
<text x="0" y="0" font-family="'Liberation Serif',serif" font-size="22.5" transform="translate(2680 2175.4) rotate(-90)" textLength="262.5" lengthAdjust="spacingAndGlyphs">The sum of KL Divergence</text>
<rect x="1227.5" y="2249.3" width="119.1" height="61.2" fill="#a0a0c8" rx="7"/>
<text x="1255.0" y="2292.0" font-size="35" font-weight="bold" textLength="64" lengthAdjust="spacingAndGlyphs">NGS</text>
<text x="1394.7" y="2293.3" font-size="32.5" textLength="1219.5" lengthAdjust="spacingAndGlyphs">The fine-tuned LLM chooses the most suitable GNN for node and perform tailored KD.</text>
<text x="1575.0" y="2355.2" font-size="31" font-weight="bold" font-style="italic" fill="#1fae4c" textLength="72.3" lengthAdjust="spacingAndGlyphs">State</text>
<text x="2345.7" y="2355.2" font-size="31" font-weight="bold" font-style="italic" fill="#1aa6e0" textLength="89.5" lengthAdjust="spacingAndGlyphs">Action</text>
<text x="1938.4" y="2501.8" font-size="31" font-weight="bold" font-style="italic" fill="#ee1515" textLength="111.4" lengthAdjust="spacingAndGlyphs">Reward</text>
<path d="M1327.3,2372.1 L1367.8,2373.3 L1408.2,2372.6 L1448.6,2373.5 L1489.1,2373.6 L1529.5,2371.4 L1570.0,2371.2 L1610.4,2374.4 L1650.9,2372.1 L1691.3,2372.0 L1731.8,2375.1 L1772.2,2373.0 L1812.7,2374.4 L1853.2,2373.0 L1893.6,2373.7 L1892.8,2406.8 L1893.9,2440.6 L1894.5,2474.3 L1853.1,2474.4 L1812.7,2475.3 L1772.2,2475.0 L1731.8,2472.6 L1691.3,2475.3 L1650.9,2474.7 L1610.4,2473.5 L1570.0,2472.4 L1529.5,2475.8 L1489.1,2474.2 L1448.7,2475.2 L1408.2,2475.8 L1367.8,2475.2 L1327.3,2476.0 L1327.0,2440.6 L1328.0,2406.8 Z" fill="none" stroke="#22aa44" stroke-width="2.2" stroke-linejoin="round"/>
<text x="1610.5" y="2412.0" font-size="32.5" text-anchor="middle" textLength="491" lengthAdjust="spacingAndGlyphs">Node-specific semantic, structural,</text>
<text x="1610.5" y="2460.5" font-size="32.5" text-anchor="middle" textLength="352" lengthAdjust="spacingAndGlyphs">and prediction attributes.</text>
<path d="M2113.2,2383.3 L2156.0,2383.8 L2198.7,2384.0 L2241.5,2384.6 L2284.3,2383.8 L2327.0,2384.5 L2369.8,2380.9 L2412.6,2382.7 L2455.4,2384.6 L2498.1,2383.4 L2540.9,2384.4 L2583.7,2381.3 L2626.4,2382.7 L2669.2,2381.8 L2669.3,2417.2 L2669.4,2451.6 L2668.0,2486.0 L2626.4,2484.9 L2583.7,2485.1 L2540.9,2487.7 L2498.1,2487.1 L2455.4,2484.6 L2412.6,2487.2 L2369.8,2484.6 L2327.0,2486.5 L2284.3,2484.5 L2241.5,2484.0 L2198.7,2487.5 L2156.0,2484.8 L2113.2,2484.9 L2114.4,2451.6 L2114.1,2417.2 Z" fill="none" stroke="#27a8e2" stroke-width="2.2" stroke-linejoin="round"/>
<text x="2391.2" y="2424.0" font-size="32.5" text-anchor="middle" textLength="491" lengthAdjust="spacingAndGlyphs">The selection results generated by</text>
<text x="2391.2" y="2472.2" font-size="32.5" text-anchor="middle" textLength="272" lengthAdjust="spacingAndGlyphs">the fine-tuned LLM.</text>
<path d="M1321.8,2531.2 L1362.7,2530.8 L1403.5,2529.6 L1444.4,2533.2 L1485.3,2528.9 L1526.2,2531.4 L1567.0,2533.4 L1607.9,2529.3 L1648.8,2531.7 L1689.7,2532.0 L1730.5,2529.1 L1771.4,2530.8 L1812.3,2532.4 L1853.1,2531.2 L1894.0,2532.5 L1934.9,2529.7 L1975.8,2530.1 L2016.6,2529.5 L2057.5,2531.4 L2098.4,2533.5 L2139.3,2531.9 L2180.1,2532.8 L2221.0,2530.8 L2261.9,2532.6 L2302.7,2529.4 L2343.6,2530.4 L2384.5,2532.3 L2425.4,2532.5 L2466.2,2531.0 L2507.1,2529.3 L2548.0,2530.2 L2588.9,2529.9 L2629.7,2530.3 L2670.6,2532.9 L2669.7,2564.8 L2671.8,2598.2 L2671.7,2631.5 L2669.3,2664.9 L2629.7,2664.3 L2588.9,2664.9 L2548.0,2662.5 L2507.1,2664.5 L2466.2,2666.9 L2425.4,2663.0 L2384.5,2665.4 L2343.6,2663.0 L2302.7,2665.3 L2261.9,2666.9 L2221.0,2663.4 L2180.1,2662.4 L2139.3,2662.8 L2098.4,2665.1 L2057.5,2662.5 L2016.6,2662.8 L1975.8,2664.9 L1934.9,2667.0 L1894.0,2664.5 L1853.1,2664.4 L1812.3,2665.6 L1771.4,2662.9 L1730.5,2665.3 L1689.7,2663.3 L1648.8,2665.4 L1607.9,2667.2 L1567.0,2662.7 L1526.2,2665.2 L1485.3,2665.4 L1444.4,2663.1 L1403.5,2663.7 L1362.7,2667.4 L1321.8,2667.4 L1320.7,2631.5 L1322.4,2598.2 L1323.2,2564.8 Z" fill="none" stroke="#ee2222" stroke-width="2.4" stroke-linejoin="round"/>
<text x="1334.2" y="2615.4" font-family="'Liberation Serif',serif" font-size="31" textLength="1304" lengthAdjust="spacingAndGlyphs" xml:space="preserve"><tspan font-style="italic">L</tspan><tspan font-size="14" dy="-16">′</tspan><tspan font-style="italic" font-size="22" dy="21" dx="-4">DL</tspan><tspan dy="-5">  =  −</tspan><tspan font-size="19" dy="-10">1</tspan><tspan font-size="19" font-style="italic" dy="20" dx="-10">W</tspan><tspan dy="-10"> ∑</tspan><tspan font-size="19" font-style="italic" dy="-12">W</tspan><tspan font-size="19" font-style="italic" dy="20" dx="-14">i</tspan><tspan font-weight="bold" dy="-8">  z</tspan><tspan font-size="19" font-style="italic" dy="-12">T</tspan><tspan font-size="19" font-style="italic" dy="20" dx="-9">i</tspan><tspan dy="-8">    </tspan><tspan font-style="italic">L</tspan><tspan font-style="italic" font-size="22" dy="5">CE</tspan><tspan dy="-5"> = −</tspan><tspan font-size="19" dy="-10">1</tspan><tspan font-size="19" font-style="italic" dy="20" dx="-10">Q</tspan><tspan dy="-10"> ∑</tspan><tspan font-size="19" font-style="italic" dy="-12">Q</tspan><tspan font-size="19" font-style="italic" dy="20" dx="-14">i</tspan><tspan font-weight="bold" dy="-8"> y</tspan><tspan font-size="19" font-style="italic" dy="5">i</tspan><tspan dy="-5"> · log</tspan><tspan font-style="italic">f</tspan><tspan font-size="19" font-style="italic" dy="-12">θ</tspan><tspan font-size="19" font-style="italic" dy="20" dx="-9">S</tspan><tspan dy="-8">(</tspan><tspan font-weight="bold">x</tspan><tspan font-size="19" font-style="italic" dy="5">i</tspan><tspan dy="-5">)   </tspan><tspan font-style="italic">R</tspan> = <tspan font-style="italic">η</tspan> * (<tspan font-style="italic">L</tspan><tspan font-size="14" dy="-16">′</tspan><tspan font-style="italic" font-size="22" dy="21" dx="-4">DL</tspan><tspan dy="-5"> − </tspan><tspan font-style="italic">L</tspan><tspan font-style="italic" font-size="22" dy="5">CE</tspan><tspan dy="-5">) + (1 − </tspan><tspan font-style="italic">η</tspan>) * <tspan font-style="italic">A</tspan><tspan font-style="italic" font-size="22" dy="5">cc</tspan></text>
<path d="M1580,2588 Q1584,2584 1588,2588 Q1592,2592 1596,2588" fill="none" stroke="#111" stroke-width="1.5" />
<rect x="2812.1" y="615.9" width="694.5" height="59.6" fill="#a0a0c8" rx="7"/>
<text x="2821.5" y="657.3" font-size="36" font-weight="bold" textLength="643.7" lengthAdjust="spacingAndGlyphs">Few-shot Node Classification Performance</text>
<line x1="2812.6" y1="692.6" x2="3940.0" y2="692.6" stroke="#111" stroke-width="2" />
<line x1="2812.6" y1="747.2" x2="3940.0" y2="747.2" stroke="#111" stroke-width="1.4" />
<line x1="2812.6" y1="846.0" x2="3940.0" y2="846.0" stroke="#555" stroke-width="1.4" />
<line x1="2812.6" y1="900.6" x2="3940.0" y2="900.6" stroke="#555" stroke-width="1.4" />
<line x1="2812.6" y1="954.4" x2="3940.0" y2="954.4" stroke="#555" stroke-width="1.4" />
<line x1="2812.6" y1="1030.6" x2="3940.0" y2="1030.6" stroke="#555" stroke-width="1.4" />
<line x1="2812.6" y1="1151.4" x2="3940.0" y2="1151.4" stroke="#555" stroke-width="1.4" />
<line x1="2812.6" y1="1206.6" x2="3940.0" y2="1206.6" stroke="#555" stroke-width="1.4" />
<line x1="2812.6" y1="1283.2" x2="3940.0" y2="1283.2" stroke="#111" stroke-width="2" />
<line x1="2904.5" y1="699.6" x2="2904.5" y2="742.7" stroke="#555" stroke-width="1.3" />
<line x1="2996.0" y1="699.6" x2="2996.0" y2="742.7" stroke="#555" stroke-width="1.3" />
<line x1="2996.0" y1="754.5" x2="2996.0" y2="841.5" stroke="#555" stroke-width="1.3" />
<line x1="2996.0" y1="855.0" x2="2996.0" y2="896.0" stroke="#555" stroke-width="1.3" />
<line x1="2996.0" y1="909.0" x2="2996.0" y2="950.0" stroke="#555" stroke-width="1.3" />
<line x1="2996.0" y1="962.0" x2="2996.0" y2="1026.0" stroke="#555" stroke-width="1.3" />
<line x1="2996.0" y1="1039.0" x2="2996.0" y2="1147.0" stroke="#555" stroke-width="1.3" />
<line x1="2996.0" y1="1214.0" x2="2996.0" y2="1202.0" stroke="#555" stroke-width="1.3" />
<line x1="2996.0" y1="1214.0" x2="2996.0" y2="1202.0" stroke="#555" stroke-width="1.3" />
<line x1="2996.0" y1="1214.0" x2="2996.0" y2="1279.0" stroke="#555" stroke-width="1.3" />
<line x1="2904.5" y1="1214.0" x2="2904.5" y2="1279.0" stroke="#555" stroke-width="1.3" />
<line x1="2996.0" y1="1160.0" x2="2996.0" y2="1201.0" stroke="#555" stroke-width="1.3" />
<text x="2857.7" y="726.3" font-size="18.6" font-family="'Liberation Serif', serif" font-weight="bold" text-anchor="middle" textLength="68.8" lengthAdjust="spacingAndGlyphs">Methods</text>
<text x="2950.0" y="726.3" font-size="18.6" font-family="'Liberation Serif', serif" font-weight="bold" text-anchor="middle">Dataset</text>
<text x="3047" y="726.3" font-family="'Liberation Serif',serif" font-size="18.6" font-weight="bold" text-anchor="middle">C<tspan font-size="14.5">O</tspan><tspan font-size="14.5">R</tspan><tspan font-size="14.5">N</tspan><tspan font-size="14.5">E</tspan><tspan font-size="14.5">L</tspan><tspan font-size="14.5">L</tspan></text>
<text x="3166.1" y="726.3" font-family="'Liberation Serif',serif" font-size="18.6" font-weight="bold" text-anchor="middle">W<tspan font-size="14.5">A</tspan><tspan font-size="14.5">S</tspan><tspan font-size="14.5">H</tspan><tspan font-size="14.5">I</tspan><tspan font-size="14.5">N</tspan><tspan font-size="14.5">G</tspan><tspan font-size="14.5">T</tspan><tspan font-size="14.5">O</tspan><tspan font-size="14.5">N</tspan></text>
<text x="3283" y="726.3" font-family="'Liberation Serif',serif" font-size="18.6" font-weight="bold" text-anchor="middle">T<tspan font-size="14.5">E</tspan><tspan font-size="14.5">X</tspan><tspan font-size="14.5">A</tspan><tspan font-size="14.5">S</tspan></text>
<text x="3391.6" y="726.3" font-family="'Liberation Serif',serif" font-size="18.6" font-weight="bold" text-anchor="middle">W<tspan font-size="14.5">I</tspan><tspan font-size="14.5">S</tspan><tspan font-size="14.5">C</tspan><tspan font-size="14.5">O</tspan><tspan font-size="14.5">N</tspan><tspan font-size="14.5">S</tspan><tspan font-size="14.5">I</tspan><tspan font-size="14.5">N</tspan></text>
<text x="3694.8" y="726.3" font-family="'Liberation Serif',serif" font-size="18.6" font-weight="bold" text-anchor="middle">W<tspan font-size="14.5">I</tspan><tspan font-size="14.5">K</tspan><tspan font-size="14.5">I</tspan><tspan font-size="14.5"> </tspan>C<tspan font-size="14.5">S</tspan></text>
<text x="3793.3" y="726.3" font-family="'Liberation Serif',serif" font-size="18.6" font-weight="bold" text-anchor="middle">P<tspan font-size="14.5">U</tspan><tspan font-size="14.5">B</tspan><tspan font-size="14.5">M</tspan><tspan font-size="14.5">E</tspan><tspan font-size="14.5">D</tspan></text>
<text x="3890.7" y="726.3" font-family="'Liberation Serif',serif" font-size="18.6" font-weight="bold" text-anchor="middle">C<tspan font-size="14.5">O</tspan><tspan font-size="14.5">R</tspan><tspan font-size="14.5">A</tspan></text>
<text x="3499.4" y="713" font-family="'Liberation Serif',serif" font-size="18.6" font-weight="bold" text-anchor="middle">A<tspan font-size="14.5">M</tspan><tspan font-size="14.5">A</tspan><tspan font-size="14.5">Z</tspan><tspan font-size="14.5">O</tspan><tspan font-size="14.5">N</tspan></text>
<text x="3499.4" y="735.5" font-family="'Liberation Serif',serif" font-size="18.6" font-weight="bold" text-anchor="middle">R<tspan font-size="14.5">A</tspan><tspan font-size="14.5">T</tspan><tspan font-size="14.5">I</tspan><tspan font-size="14.5">N</tspan><tspan font-size="14.5">G</tspan><tspan font-size="14.5">S</tspan></text>
<text x="3597.4" y="713" font-family="'Liberation Serif',serif" font-size="18.6" font-weight="bold" text-anchor="middle">O<tspan font-size="14.5">G</tspan><tspan font-size="14.5">B</tspan><tspan font-size="14.5">N</tspan><tspan font-size="14.5">-</tspan></text>
<text x="3597.4" y="735.5" font-family="'Liberation Serif',serif" font-size="18.6" font-weight="bold" text-anchor="middle">A<tspan font-size="14.5">R</tspan><tspan font-size="14.5">X</tspan><tspan font-size="14.5">I</tspan><tspan font-size="14.5">V</tspan></text>
<rect x="3549.2" y="775.9" width="97.0" height="22.0" fill="#e2e2e2"/>
<rect x="3841.8" y="798.1" width="98.2" height="22.0" fill="#e2e2e2"/>
<rect x="3646.2" y="927.4" width="97.8" height="22.0" fill="#e2e2e2"/>
<rect x="3744.0" y="927.4" width="97.8" height="22.0" fill="#c4c4c4"/>
<rect x="3646.2" y="1003.7" width="97.8" height="22.0" fill="#c4c4c4"/>
<rect x="3333.5" y="1102.1" width="117.2" height="22.0" fill="#e2e2e2"/>
<rect x="3235.0" y="1123.9" width="98.5" height="22.0" fill="#e2e2e2"/>
<rect x="2996.6" y="1233.3" width="101.1" height="22.0" fill="#e2e2e2"/>
<rect x="3097.7" y="1233.3" width="137.3" height="22.0" fill="#e2e2e2"/>
<rect x="3450.7" y="1233.3" width="98.5" height="22.0" fill="#e2e2e2"/>
<rect x="2996.6" y="1255.0" width="101.1" height="22.0" fill="#c4c4c4"/>
<rect x="3097.7" y="1255.0" width="137.3" height="22.0" fill="#c4c4c4"/>
<rect x="3235.0" y="1255.0" width="98.5" height="22.0" fill="#c4c4c4"/>
<rect x="3333.5" y="1255.0" width="117.2" height="22.0" fill="#c4c4c4"/>
<rect x="3450.7" y="1255.0" width="98.5" height="22.0" fill="#c4c4c4"/>
<rect x="3549.2" y="1255.0" width="97.0" height="22.0" fill="#c4c4c4"/>
<rect x="3841.8" y="1255.0" width="98.2" height="22.0" fill="#c4c4c4"/>
<rect x="3744.0" y="1255.0" width="97.8" height="22.0" fill="#e2e2e2"/>
<line x1="2996.0" y1="1214.0" x2="2996.0" y2="1279.0" stroke="#555" stroke-width="1.3" />
<text x="3047" y="770.2" font-family="'Liberation Serif',serif" font-size="18.6" text-anchor="middle">58.04<tspan font-size="13.5" dy="2.5">±1.1</tspan></text>
<text x="3166.1" y="770.2" font-family="'Liberation Serif',serif" font-size="18.6" text-anchor="middle">57.84<tspan font-size="13.5" dy="2.5">±2.1</tspan></text>
<text x="3283" y="770.2" font-family="'Liberation Serif',serif" font-size="18.6" text-anchor="middle">53.43<tspan font-size="13.5" dy="2.5">±4.1</tspan></text>
<text x="3391.6" y="770.2" font-family="'Liberation Serif',serif" font-size="18.6" text-anchor="middle">59.32<tspan font-size="13.5" dy="2.5">±2.1</tspan></text>
<text x="3499.4" y="770.2" font-family="'Liberation Serif',serif" font-size="18.6" text-anchor="middle">41.22<tspan font-size="13.5" dy="2.5">±6.6</tspan></text>
<text x="3597.4" y="770.2" font-family="'Liberation Serif',serif" font-size="18.6" text-anchor="middle">56.51<tspan font-size="13.5" dy="2.5">±1.2</tspan></text>
<text x="3694.8" y="770.2" font-family="'Liberation Serif',serif" font-size="18.6" text-anchor="middle">81.57<tspan font-size="13.5" dy="2.5">±0.7</tspan></text>
<text x="3793.3" y="770.2" font-family="'Liberation Serif',serif" font-size="18.6" text-anchor="middle">83.34<tspan font-size="13.5" dy="2.5">±2.4</tspan></text>
<text x="3890.7" y="770.2" font-family="'Liberation Serif',serif" font-size="18.6" text-anchor="middle">87.79<tspan font-size="13.5" dy="2.5">±1.6</tspan></text>
<text x="3047" y="792.4" font-family="'Liberation Serif',serif" font-size="18.6" text-anchor="middle">46.29<tspan font-size="13.5" dy="2.5">±0.9</tspan></text>
<text x="3166.1" y="792.4" font-family="'Liberation Serif',serif" font-size="18.6" text-anchor="middle">65.00<tspan font-size="13.5" dy="2.5">±2.5</tspan></text>
<text x="3283" y="792.4" font-family="'Liberation Serif',serif" font-size="18.6" text-anchor="middle">82.83<tspan font-size="13.5" dy="2.5">±2.0</tspan></text>
<text x="3391.6" y="792.4" font-family="'Liberation Serif',serif" font-size="18.6" text-anchor="middle">48.30<tspan font-size="13.5" dy="2.5">±2.5</tspan></text>
<text x="3499.4" y="792.4" font-family="'Liberation Serif',serif" font-size="18.6" text-anchor="middle">36.69<tspan font-size="13.5" dy="2.5">±0.2</tspan></text>
<text x="3597.4" y="792.4" font-family="'Liberation Serif',serif" font-size="18.6" text-anchor="middle">59.19<tspan font-size="13.5" dy="2.5">±5.2</tspan></text>
<text x="3694.8" y="792.4" font-family="'Liberation Serif',serif" font-size="18.6" text-anchor="middle">79.08<tspan font-size="13.5" dy="2.5">±1.8</tspan></text>
<text x="3793.3" y="792.4" font-family="'Liberation Serif',serif" font-size="18.6" text-anchor="middle">82.52<tspan font-size="13.5" dy="2.5">±2.1</tspan></text>
<text x="3890.7" y="792.4" font-family="'Liberation Serif',serif" font-size="18.6" text-anchor="middle">87.59<tspan font-size="13.5" dy="2.5">±0.8</tspan></text>
<text x="3047" y="814.6" font-family="'Liberation Serif',serif" font-size="18.6" text-anchor="middle">44.62<tspan font-size="13.5" dy="2.5">±4.3</tspan></text>
<text x="3166.1" y="814.6" font-family="'Liberation Serif',serif" font-size="18.6" text-anchor="middle">55.27<tspan font-size="13.5" dy="2.5">±1.7</tspan></text>
<text x="3283" y="814.6" font-family="'Liberation Serif',serif" font-size="18.6" text-anchor="middle">45.19<tspan font-size="13.5" dy="2.5">±2.5</tspan></text>
<text x="3391.6" y="814.6" font-family="'Liberation Serif',serif" font-size="18.6" text-anchor="middle">61.49<tspan font-size="13.5" dy="2.5">±0.6</tspan></text>
<text x="3499.4" y="814.6" font-family="'Liberation Serif',serif" font-size="18.6" text-anchor="middle">37.41<tspan font-size="13.5" dy="2.5">±2.2</tspan></text>
<text x="3597.4" y="814.6" font-family="'Liberation Serif',serif" font-size="18.6" text-anchor="middle">56.71<tspan font-size="13.5" dy="2.5">±3.6</tspan></text>
<text x="3694.8" y="814.6" font-family="'Liberation Serif',serif" font-size="18.6" text-anchor="middle">80.17<tspan font-size="13.5" dy="2.5">±1.6</tspan></text>
<text x="3793.3" y="814.6" font-family="'Liberation Serif',serif" font-size="18.6" text-anchor="middle">79.57<tspan font-size="13.5" dy="2.5">±2.3</tspan></text>
<text x="3890.7" y="814.6" font-family="'Liberation Serif',serif" font-size="18.6" text-anchor="middle">88.38<tspan font-size="13.5" dy="2.5">±0.6</tspan></text>
<text x="3047" y="836.8" font-family="'Liberation Serif',serif" font-size="18.6" text-anchor="middle">32.73<tspan font-size="13.5" dy="2.5">±2.8</tspan></text>
<text x="3166.1" y="836.8" font-family="'Liberation Serif',serif" font-size="18.6" text-anchor="middle">58.33<tspan font-size="13.5" dy="2.5">±1.7</tspan></text>
<text x="3283" y="836.8" font-family="'Liberation Serif',serif" font-size="18.6" text-anchor="middle">63.64<tspan font-size="13.5" dy="2.5">±0.1</tspan></text>
<text x="3391.6" y="836.8" font-family="'Liberation Serif',serif" font-size="18.6" text-anchor="middle">62.89<tspan font-size="13.5" dy="2.5">±1.3</tspan></text>
<text x="3499.4" y="836.8" font-family="'Liberation Serif',serif" font-size="18.6" text-anchor="middle">48.93<tspan font-size="13.5" dy="2.5">±0.5</tspan></text>
<text x="3597.4" y="836.8" font-family="'Liberation Serif',serif" font-size="18.6" text-anchor="middle">53.64<tspan font-size="13.5" dy="2.5">±1.3</tspan></text>
<text x="3694.8" y="836.8" font-family="'Liberation Serif',serif" font-size="18.6" text-anchor="middle">72.01<tspan font-size="13.5" dy="2.5">±2.5</tspan></text>
<text x="3793.3" y="836.8" font-family="'Liberation Serif',serif" font-size="18.6" text-anchor="middle">55.15<tspan font-size="13.5" dy="2.5">±1.4</tspan></text>
<text x="3890.7" y="836.8" font-family="'Liberation Serif',serif" font-size="18.6" text-anchor="middle">77.07<tspan font-size="13.5" dy="2.5">±4.0</tspan></text>
<text x="3047" y="867.6" font-family="'Liberation Serif',serif" font-size="18.6" text-anchor="middle">57.82<tspan font-size="13.5" dy="2.5">±2.8</tspan></text>
<text x="3166.1" y="867.6" font-family="'Liberation Serif',serif" font-size="18.6" text-anchor="middle">64.17<tspan font-size="13.5" dy="2.5">±3.1</tspan></text>
<text x="3283" y="867.6" font-family="'Liberation Serif',serif" font-size="18.6" text-anchor="middle">68.79<tspan font-size="13.5" dy="2.5">±4.3</tspan></text>
<text x="3391.6" y="867.6" font-family="'Liberation Serif',serif" font-size="18.6" text-anchor="middle">60.94<tspan font-size="13.5" dy="2.5">±1.5</tspan></text>
<text x="3499.4" y="867.6" font-family="'Liberation Serif',serif" font-size="18.6" text-anchor="middle">48.22<tspan font-size="13.5" dy="2.5">±4.3</tspan></text>
<text x="3597.4" y="867.6" font-family="'Liberation Serif',serif" font-size="18.6" text-anchor="middle">35.14<tspan font-size="13.5" dy="2.5">±5.6</tspan></text>
<text x="3694.8" y="867.6" font-family="'Liberation Serif',serif" font-size="18.6" text-anchor="middle">58.29<tspan font-size="13.5" dy="2.5">±2.8</tspan></text>
<text x="3793.3" y="867.6" font-family="'Liberation Serif',serif" font-size="18.6" text-anchor="middle">67.83<tspan font-size="13.5" dy="2.5">±7.7</tspan></text>
<text x="3890.7" y="867.6" font-family="'Liberation Serif',serif" font-size="18.6" text-anchor="middle">77.74<tspan font-size="13.5" dy="2.5">±3.7</tspan></text>
<text x="2904.5" y="867.6" font-family="'Liberation Serif',serif" font-size="18.6" text-anchor="middle">GCNII / <tspan font-weight="bold"># LN 5</tspan></text>
<text x="3047" y="889.8" font-family="'Liberation Serif',serif" font-size="18.6" text-anchor="middle">53.38<tspan font-size="13.5" dy="2.5">±7.8</tspan></text>
<text x="3166.1" y="889.8" font-family="'Liberation Serif',serif" font-size="18.6" text-anchor="middle">63.33<tspan font-size="13.5" dy="2.5">±1.2</tspan></text>
<text x="3283" y="889.8" font-family="'Liberation Serif',serif" font-size="18.6" text-anchor="middle">71.72<tspan font-size="13.5" dy="2.5">±2.9</tspan></text>
<text x="3391.6" y="889.8" font-family="'Liberation Serif',serif" font-size="18.6" text-anchor="middle">55.97<tspan font-size="13.5" dy="2.5">±3.6</tspan></text>
<text x="3499.4" y="889.8" font-family="'Liberation Serif',serif" font-size="18.6" text-anchor="middle">49.03<tspan font-size="13.5" dy="2.5">±8.6</tspan></text>
<text x="3597.4" y="889.8" font-family="'Liberation Serif',serif" font-size="18.6" text-anchor="middle">36.15<tspan font-size="13.5" dy="2.5">±3.9</tspan></text>
<text x="3694.8" y="889.8" font-family="'Liberation Serif',serif" font-size="18.6" text-anchor="middle">63.97<tspan font-size="13.5" dy="2.5">±6.6</tspan></text>
<text x="3793.3" y="889.8" font-family="'Liberation Serif',serif" font-size="18.6" text-anchor="middle">66.12<tspan font-size="13.5" dy="2.5">±9.3</tspan></text>
<text x="3890.7" y="889.8" font-family="'Liberation Serif',serif" font-size="18.6" text-anchor="middle">72.85<tspan font-size="13.5" dy="2.5">±0.7</tspan></text>
<text x="2904.5" y="889.8" font-family="'Liberation Serif',serif" font-size="18.6" text-anchor="middle">EGNN / <tspan font-weight="bold"># LN 5</tspan></text>
<text x="3047" y="921.7" font-family="'Liberation Serif',serif" font-size="18.6" text-anchor="middle">52.63<tspan font-size="13.5" dy="2.5">±4.3</tspan></text>
<text x="3166.1" y="921.7" font-family="'Liberation Serif',serif" font-size="18.6" text-anchor="middle">41.09<tspan font-size="13.5" dy="2.5">±2.2</tspan></text>
<text x="3283" y="921.7" font-family="'Liberation Serif',serif" font-size="18.6" text-anchor="middle">62.82<tspan font-size="13.5" dy="2.5">±3.6</tspan></text>
<text x="3391.6" y="921.7" font-family="'Liberation Serif',serif" font-size="18.6" text-anchor="middle">46.54<tspan font-size="13.5" dy="2.5">±0.9</tspan></text>
<text x="3499.4" y="921.7" font-family="'Liberation Serif',serif" font-size="18.6" text-anchor="middle">47.64<tspan font-size="13.5" dy="2.5">±2.0</tspan></text>
<text x="3597.4" y="921.7" font-family="'Liberation Serif',serif" font-size="18.6" text-anchor="middle">44.11<tspan font-size="13.5" dy="2.5">±2.5</tspan></text>
<text x="3694.8" y="921.7" font-family="'Liberation Serif',serif" font-size="18.6" text-anchor="middle">66.09<tspan font-size="13.5" dy="2.5">±0.4</tspan></text>
<text x="3793.3" y="921.7" font-family="'Liberation Serif',serif" font-size="18.6" text-anchor="middle">78.84<tspan font-size="13.5" dy="2.5">±1.1</tspan></text>
<text x="3890.7" y="921.7" font-family="'Liberation Serif',serif" font-size="18.6" text-anchor="middle">76.23<tspan font-size="13.5" dy="2.5">±1.7</tspan></text>
<text x="2904.5" y="921.7" font-family="'Liberation Serif',serif" font-size="18.6" text-anchor="middle">LLMGNN / <tspan font-weight="bold"># LN 5</tspan></text>
<text x="3047" y="943.9" font-family="'Liberation Serif',serif" font-size="18.6" text-anchor="middle">62.98<tspan font-size="13.5" dy="2.5">±3.3</tspan></text>
<text x="3166.1" y="943.9" font-family="'Liberation Serif',serif" font-size="18.6" text-anchor="middle">65.13<tspan font-size="13.5" dy="2.5">±1.1</tspan></text>
<text x="3283" y="943.9" font-family="'Liberation Serif',serif" font-size="18.6" text-anchor="middle">73.81<tspan font-size="13.5" dy="2.5">±2.2</tspan></text>
<text x="3391.6" y="943.9" font-family="'Liberation Serif',serif" font-size="18.6" text-anchor="middle">62.20<tspan font-size="13.5" dy="2.5">±0.9</tspan></text>
<text x="3499.4" y="943.9" font-family="'Liberation Serif',serif" font-size="18.6" text-anchor="middle">42.42<tspan font-size="13.5" dy="2.5">±6.0</tspan></text>
<text x="3597.4" y="943.9" font-family="'Liberation Serif',serif" font-size="18.6" text-anchor="middle">53.47<tspan font-size="13.5" dy="2.5">±0.5</tspan></text>
<text x="3694.8" y="943.9" font-family="'Liberation Serif',serif" font-size="18.6" text-anchor="middle">83.10<tspan font-size="13.5" dy="2.5">±1.7</tspan></text>
<text x="3793.3" y="943.9" font-family="'Liberation Serif',serif" font-size="18.6" text-anchor="middle">85.98<tspan font-size="13.5" dy="2.5">±0.6</tspan></text>
<text x="3890.7" y="943.9" font-family="'Liberation Serif',serif" font-size="18.6" text-anchor="middle">79.48<tspan font-size="13.5" dy="2.5">±4.5</tspan></text>
<text x="2904.5" y="943.9" font-family="'Liberation Serif',serif" font-size="18.6" text-anchor="middle">GAugLLM / <tspan font-weight="bold"># LN 5</tspan></text>
<text x="3047" y="976.1" font-family="'Liberation Serif',serif" font-size="18.6" text-anchor="middle">61.90<tspan font-size="13.5" dy="2.5">±6.1</tspan></text>
<text x="3166.1" y="976.1" font-family="'Liberation Serif',serif" font-size="18.6" text-anchor="middle">65.89<tspan font-size="13.5" dy="2.5">±0.5</tspan></text>
<text x="3283" y="976.1" font-family="'Liberation Serif',serif" font-size="18.6" text-anchor="middle">72.62<tspan font-size="13.5" dy="2.5">±2.4</tspan></text>
<text x="3391.6" y="976.1" font-family="'Liberation Serif',serif" font-size="18.6" text-anchor="middle">66.29<tspan font-size="13.5" dy="2.5">±0.9</tspan></text>
<text x="3499.4" y="976.1" font-family="'Liberation Serif',serif" font-size="18.6" text-anchor="middle">41.99<tspan font-size="13.5" dy="2.5">±5.0</tspan></text>
<text x="3597.4" y="976.1" font-family="'Liberation Serif',serif" font-size="18.6" text-anchor="middle">33.40<tspan font-size="13.5" dy="2.5">±2.5</tspan></text>
<text x="3694.8" y="976.1" font-family="'Liberation Serif',serif" font-size="18.6" text-anchor="middle">74.99<tspan font-size="13.5" dy="2.5">±0.9</tspan></text>
<text x="3793.3" y="976.1" font-family="'Liberation Serif',serif" font-size="18.6" text-anchor="middle">83.11<tspan font-size="13.5" dy="2.5">±0.4</tspan></text>
<text x="3890.7" y="976.1" font-family="'Liberation Serif',serif" font-size="18.6" text-anchor="middle">83.19<tspan font-size="13.5" dy="2.5">±1.7</tspan></text>
<text x="2904.5" y="976.1" font-family="'Liberation Serif',serif" font-size="18.6" text-anchor="middle">Self-training / <tspan font-weight="bold"># LN 5</tspan></text>
<text x="3047" y="997.9" font-family="'Liberation Serif',serif" font-size="18.6" text-anchor="middle">71.43<tspan font-size="13.5" dy="2.5">±0.7</tspan></text>
<text x="3166.1" y="997.9" font-family="'Liberation Serif',serif" font-size="18.6" text-anchor="middle">70.09<tspan font-size="13.5" dy="2.5">±0.8</tspan></text>
<text x="3283" y="997.9" font-family="'Liberation Serif',serif" font-size="18.6" text-anchor="middle">68.45<tspan font-size="13.5" dy="2.5">±0.8</tspan></text>
<text x="3391.6" y="997.9" font-family="'Liberation Serif',serif" font-size="18.6" text-anchor="middle">70.08<tspan font-size="13.5" dy="2.5">±0.7</tspan></text>
<text x="3499.4" y="997.9" font-family="'Liberation Serif',serif" font-size="18.6" text-anchor="middle">43.11<tspan font-size="13.5" dy="2.5">±0.4</tspan></text>
<text x="3597.4" y="997.9" font-size="18.6" font-family="'Liberation Serif', serif" text-anchor="middle">OOM</text>
<text x="3694.8" y="997.9" font-family="'Liberation Serif',serif" font-size="18.6" text-anchor="middle">72.49<tspan font-size="13.5" dy="2.5">±3.1</tspan></text>
<text x="3793.3" y="997.9" font-family="'Liberation Serif',serif" font-size="18.6" text-anchor="middle">73.75<tspan font-size="13.5" dy="2.5">±0.5</tspan></text>
<text x="3890.7" y="997.9" font-family="'Liberation Serif',serif" font-size="18.6" text-anchor="middle">77.25<tspan font-size="13.5" dy="2.5">±5.6</tspan></text>
<text x="2904.5" y="997.9" font-family="'Liberation Serif',serif" font-size="18.6" text-anchor="middle">AGST / <tspan font-weight="bold"># LN 5</tspan></text>
<text x="3047" y="1020.2" font-family="'Liberation Serif',serif" font-size="18.6" text-anchor="middle">33.33<tspan font-size="13.5" dy="2.5">±11.9</tspan></text>
<text x="3166.1" y="1020.2" font-family="'Liberation Serif',serif" font-size="18.6" text-anchor="middle">67.76<tspan font-size="13.5" dy="2.5">±2.9</tspan></text>
<text x="3283" y="1020.2" font-family="'Liberation Serif',serif" font-size="18.6" text-anchor="middle">50.00<tspan font-size="13.5" dy="2.5">±4.9</tspan></text>
<text x="3391.6" y="1020.2" font-family="'Liberation Serif',serif" font-size="18.6" text-anchor="middle">41.53<tspan font-size="13.5" dy="2.5">±2.0</tspan></text>
<text x="3499.4" y="1020.2" font-family="'Liberation Serif',serif" font-size="18.6" text-anchor="middle">25.99<tspan font-size="13.5" dy="2.5">±1.5</tspan></text>
<text x="3597.4" y="1020.2" font-family="'Liberation Serif',serif" font-size="18.6" text-anchor="middle">33.63<tspan font-size="13.5" dy="2.5">±1.2</tspan></text>
<text x="3694.8" y="1020.2" font-family="'Liberation Serif',serif" font-size="18.6" text-anchor="middle">84.88<tspan font-size="13.5" dy="2.5">±0.2</tspan></text>
<text x="3793.3" y="1020.2" font-family="'Liberation Serif',serif" font-size="18.6" text-anchor="middle">62.41<tspan font-size="13.5" dy="2.5">±9.3</tspan></text>
<text x="3890.7" y="1020.2" font-family="'Liberation Serif',serif" font-size="18.6" text-anchor="middle">76.23<tspan font-size="13.5" dy="2.5">±2.6</tspan></text>
<text x="2904.5" y="1020.2" font-family="'Liberation Serif',serif" font-size="18.6" text-anchor="middle">IceBerg / <tspan font-weight="bold"># LN 5</tspan></text>
<text x="3047" y="1052.3" font-family="'Liberation Serif',serif" font-size="18.6" text-anchor="middle">54.39<tspan font-size="13.5" dy="2.5">±2.9</tspan></text>
<text x="3166.1" y="1052.3" font-family="'Liberation Serif',serif" font-size="18.6" text-anchor="middle">60.00<tspan font-size="13.5" dy="2.5">±0.1</tspan></text>
<text x="3283" y="1052.3" font-family="'Liberation Serif',serif" font-size="18.6" text-anchor="middle">66.67<tspan font-size="13.5" dy="2.5">±1.5</tspan></text>
<text x="3391.6" y="1052.3" font-family="'Liberation Serif',serif" font-size="18.6" text-anchor="middle">58.74<tspan font-size="13.5" dy="2.5">±3.9</tspan></text>
<text x="3499.4" y="1052.3" font-family="'Liberation Serif',serif" font-size="18.6" text-anchor="middle">38.06<tspan font-size="13.5" dy="2.5">±1.2</tspan></text>
<text x="3597.4" y="1052.3" font-size="18.6" font-family="'Liberation Serif', serif" text-anchor="middle">OOM</text>
<text x="3694.8" y="1052.3" font-family="'Liberation Serif',serif" font-size="18.6" text-anchor="middle">65.03<tspan font-size="13.5" dy="2.5">±4.1</tspan></text>
<text x="3793.3" y="1052.3" font-size="18.6" font-family="'Liberation Serif', serif" text-anchor="middle">OOM</text>
<text x="3890.7" y="1052.3" font-family="'Liberation Serif',serif" font-size="18.6" text-anchor="middle">68.87<tspan font-size="13.5" dy="2.5">±0.8</tspan></text>
<text x="2904.5" y="1052.3" font-size="18.6" font-family="'Liberation Serif', serif" text-anchor="middle">KDGA</text>
<text x="3047" y="1074.6" font-family="'Liberation Serif',serif" font-size="18.6" text-anchor="middle">51.27<tspan font-size="13.5" dy="2.5">±4.2</tspan></text>
<text x="3166.1" y="1074.6" font-family="'Liberation Serif',serif" font-size="18.6" text-anchor="middle">50.39<tspan font-size="13.5" dy="2.5">±0.2</tspan></text>
<text x="3283" y="1074.6" font-family="'Liberation Serif',serif" font-size="18.6" text-anchor="middle">62.63<tspan font-size="13.5" dy="2.5">±2.0</tspan></text>
<text x="3391.6" y="1074.6" font-family="'Liberation Serif',serif" font-size="18.6" text-anchor="middle">41.51<tspan font-size="13.5" dy="2.5">±0.2</tspan></text>
<text x="3499.4" y="1074.6" font-family="'Liberation Serif',serif" font-size="18.6" text-anchor="middle">35.60<tspan font-size="13.5" dy="2.5">±5.8</tspan></text>
<text x="3597.4" y="1074.6" font-family="'Liberation Serif',serif" font-size="18.6" text-anchor="middle">58.27<tspan font-size="13.5" dy="2.5">±1.0</tspan></text>
<text x="3694.8" y="1074.6" font-family="'Liberation Serif',serif" font-size="18.6" text-anchor="middle">62.73<tspan font-size="13.5" dy="2.5">±2.9</tspan></text>
<text x="3793.3" y="1074.6" font-family="'Liberation Serif',serif" font-size="18.6" text-anchor="middle">45.86<tspan font-size="13.5" dy="2.5">±0.3</tspan></text>
<text x="3890.7" y="1074.6" font-family="'Liberation Serif',serif" font-size="18.6" text-anchor="middle">51.61<tspan font-size="13.5" dy="2.5">±0.6</tspan></text>
<text x="2904.5" y="1074.6" font-size="18.6" font-family="'Liberation Serif', serif" text-anchor="middle">MSKD</text>
<text x="3047" y="1096.4" font-family="'Liberation Serif',serif" font-size="18.6" text-anchor="middle">58.60<tspan font-size="13.5" dy="2.5">±3.3</tspan></text>
<text x="3166.1" y="1096.4" font-family="'Liberation Serif',serif" font-size="18.6" text-anchor="middle">56.67<tspan font-size="13.5" dy="2.5">±0.8</tspan></text>
<text x="3283" y="1096.4" font-family="'Liberation Serif',serif" font-size="18.6" text-anchor="middle">65.66<tspan font-size="13.5" dy="2.5">±2.0</tspan></text>
<text x="3391.6" y="1096.4" font-family="'Liberation Serif',serif" font-size="18.6" text-anchor="middle">59.12<tspan font-size="13.5" dy="2.5">±6.9</tspan></text>
<text x="3499.4" y="1096.4" font-family="'Liberation Serif',serif" font-size="18.6" text-anchor="middle">37.53<tspan font-size="13.5" dy="2.5">±2.0</tspan></text>
<text x="3597.4" y="1096.4" font-family="'Liberation Serif',serif" font-size="18.6" text-anchor="middle">46.67<tspan font-size="13.5" dy="2.5">±8.1</tspan></text>
<text x="3694.8" y="1096.4" font-family="'Liberation Serif',serif" font-size="18.6" text-anchor="middle">56.96<tspan font-size="13.5" dy="2.5">±4.3</tspan></text>
<text x="3793.3" y="1096.4" font-family="'Liberation Serif',serif" font-size="18.6" text-anchor="middle">76.12<tspan font-size="13.5" dy="2.5">±0.7</tspan></text>
<text x="3890.7" y="1096.4" font-family="'Liberation Serif',serif" font-size="18.6" text-anchor="middle">71.28<tspan font-size="13.5" dy="2.5">±3.7</tspan></text>
<text x="2904.5" y="1096.4" font-size="18.6" font-family="'Liberation Serif', serif" text-anchor="middle">BGNN</text>
<text x="3047" y="1118.6" font-family="'Liberation Serif',serif" font-size="18.6" text-anchor="middle">72.68<tspan font-size="13.5" dy="2.5">±1.0</tspan></text>
<text x="3166.1" y="1118.6" font-family="'Liberation Serif',serif" font-size="18.6" text-anchor="middle">73.33<tspan font-size="13.5" dy="2.5">±0.8</tspan></text>
<text x="3283" y="1118.6" font-family="'Liberation Serif',serif" font-size="18.6" text-anchor="middle">80.81<tspan font-size="13.5" dy="2.5">±4.0</tspan></text>
<text x="3391.6" y="1118.6" font-family="'Liberation Serif',serif" font-size="18.6" text-anchor="middle">71.69<tspan font-size="13.5" dy="2.5">±1.9</tspan></text>
<text x="3499.4" y="1118.6" font-family="'Liberation Serif',serif" font-size="18.6" text-anchor="middle">39.54<tspan font-size="13.5" dy="2.5">±0.2</tspan></text>
<text x="3597.4" y="1118.6" font-family="'Liberation Serif',serif" font-size="18.6" text-anchor="middle">32.32<tspan font-size="13.5" dy="2.5">±5.5</tspan></text>
<text x="3694.8" y="1118.6" font-family="'Liberation Serif',serif" font-size="18.6" text-anchor="middle">65.24<tspan font-size="13.5" dy="2.5">±3.3</tspan></text>
<text x="3793.3" y="1118.6" font-family="'Liberation Serif',serif" font-size="18.6" text-anchor="middle">83.42<tspan font-size="13.5" dy="2.5">±2.3</tspan></text>
<text x="3890.7" y="1118.6" font-family="'Liberation Serif',serif" font-size="18.6" text-anchor="middle">79.16<tspan font-size="13.5" dy="2.5">±4.0</tspan></text>
<text x="2904.5" y="1118.6" font-size="18.6" font-family="'Liberation Serif', serif" text-anchor="middle">MTAAM</text>
<text x="3047" y="1140.4" font-family="'Liberation Serif',serif" font-size="18.6" text-anchor="middle">61.05<tspan font-size="13.5" dy="2.5">±2.4</tspan></text>
<text x="3166.1" y="1140.4" font-family="'Liberation Serif',serif" font-size="18.6" text-anchor="middle">60.00<tspan font-size="13.5" dy="2.5">±4.1</tspan></text>
<text x="3283" y="1140.4" font-family="'Liberation Serif',serif" font-size="18.6" text-anchor="middle">84.85<tspan font-size="13.5" dy="2.5">±1.1</tspan></text>
<text x="3391.6" y="1140.4" font-family="'Liberation Serif',serif" font-size="18.6" text-anchor="middle">57.11<tspan font-size="13.5" dy="2.5">±0.9</tspan></text>
<text x="3499.4" y="1140.4" font-family="'Liberation Serif',serif" font-size="18.6" text-anchor="middle">43.93<tspan font-size="13.5" dy="2.5">±0.5</tspan></text>
<text x="3597.4" y="1140.4" font-family="'Liberation Serif',serif" font-size="18.6" text-anchor="middle">42.03<tspan font-size="13.5" dy="2.5">±2.1</tspan></text>
<text x="3694.8" y="1140.4" font-family="'Liberation Serif',serif" font-size="18.6" text-anchor="middle">60.25<tspan font-size="13.5" dy="2.5">±1.2</tspan></text>
<text x="3793.3" y="1140.4" font-family="'Liberation Serif',serif" font-size="18.6" text-anchor="middle">70.40<tspan font-size="13.5" dy="2.5">±0.3</tspan></text>
<text x="3890.7" y="1140.4" font-family="'Liberation Serif',serif" font-size="18.6" text-anchor="middle">69.85<tspan font-size="13.5" dy="2.5">±2.7</tspan></text>
<text x="2904.5" y="1140.4" font-size="18.6" font-family="'Liberation Serif', serif" text-anchor="middle">FairGKD</text>
<text x="3047" y="1173.1" font-family="'Liberation Serif',serif" font-size="18.6" text-anchor="middle">54.31<tspan font-size="13.5" dy="2.5">±1.7</tspan></text>
<text x="3166.1" y="1173.1" font-family="'Liberation Serif',serif" font-size="18.6" text-anchor="middle">58.04<tspan font-size="13.5" dy="2.5">±1.2</tspan></text>
<text x="3283" y="1173.1" font-family="'Liberation Serif',serif" font-size="18.6" text-anchor="middle">58.93<tspan font-size="13.5" dy="2.5">±1.1</tspan></text>
<text x="3391.6" y="1173.1" font-family="'Liberation Serif',serif" font-size="18.6" text-anchor="middle">58.04<tspan font-size="13.5" dy="2.5">±2.7</tspan></text>
<text x="3499.4" y="1173.1" font-family="'Liberation Serif',serif" font-size="18.6" text-anchor="middle">57.95<tspan font-size="13.5" dy="2.5">±2.5</tspan></text>
<text x="3597.4" y="1173.1" font-family="'Liberation Serif',serif" font-size="18.6" text-anchor="middle">54.97<tspan font-size="13.5" dy="2.5">±3.3</tspan></text>
<text x="3694.8" y="1173.1" font-family="'Liberation Serif',serif" font-size="18.6" text-anchor="middle">65.27<tspan font-size="13.5" dy="2.5">±1.8</tspan></text>
<text x="3793.3" y="1173.1" font-family="'Liberation Serif',serif" font-size="18.6" text-anchor="middle">66.60<tspan font-size="13.5" dy="2.5">±2.9</tspan></text>
<text x="3890.7" y="1173.1" font-family="'Liberation Serif',serif" font-size="18.6" text-anchor="middle">70.64<tspan font-size="13.5" dy="2.5">±2.6</tspan></text>
<text x="2904.5" y="1173.1" font-family="'Liberation Serif',serif" font-size="18.6" text-anchor="middle">R<tspan font-size="14.5">ANDOM</tspan> / <tspan font-weight="bold"># LN 5</tspan></text>
<text x="3047" y="1194.8" font-family="'Liberation Serif',serif" font-size="18.6" text-anchor="middle">44.97<tspan font-size="13.5" dy="2.5">±3.0</tspan></text>
<text x="3166.1" y="1194.8" font-family="'Liberation Serif',serif" font-size="18.6" text-anchor="middle">58.88<tspan font-size="13.5" dy="2.5">±3.5</tspan></text>
<text x="3283" y="1194.8" font-family="'Liberation Serif',serif" font-size="18.6" text-anchor="middle">61.31<tspan font-size="13.5" dy="2.5">±2.0</tspan></text>
<text x="3391.6" y="1194.8" font-family="'Liberation Serif',serif" font-size="18.6" text-anchor="middle">46.97<tspan font-size="13.5" dy="2.5">±3.6</tspan></text>
<text x="3499.4" y="1194.8" font-family="'Liberation Serif',serif" font-size="18.6" text-anchor="middle">58.64<tspan font-size="13.5" dy="2.5">±2.1</tspan></text>
<text x="3597.4" y="1194.8" font-family="'Liberation Serif',serif" font-size="18.6" text-anchor="middle">58.53<tspan font-size="13.5" dy="2.5">±2.0</tspan></text>
<text x="3694.8" y="1194.8" font-family="'Liberation Serif',serif" font-size="18.6" text-anchor="middle">72.28<tspan font-size="13.5" dy="2.5">±2.2</tspan></text>
<text x="3793.3" y="1194.8" font-family="'Liberation Serif',serif" font-size="18.6" text-anchor="middle">70.64<tspan font-size="13.5" dy="2.5">±3.1</tspan></text>
<text x="3890.7" y="1194.8" font-family="'Liberation Serif',serif" font-size="18.6" text-anchor="middle">74.32<tspan font-size="13.5" dy="2.5">±3.1</tspan></text>
<text x="2904.5" y="1194.8" font-family="'Liberation Serif',serif" font-size="18.6" text-anchor="middle">V<tspan font-size="14.5">OTING</tspan> / <tspan font-weight="bold"># LN 5</tspan></text>
<text x="3047" y="1227.5" font-family="'Liberation Serif',serif" font-size="18.6" text-anchor="middle">74.60<tspan font-size="13.5" dy="2.5">±2.1</tspan></text>
<text x="3166.1" y="1227.5" font-family="'Liberation Serif',serif" font-size="18.6" text-anchor="middle">76.64<tspan font-size="13.5" dy="2.5">±0.9</tspan></text>
<text x="3283" y="1227.5" font-family="'Liberation Serif',serif" font-size="18.6" text-anchor="middle">80.36<tspan font-size="13.5" dy="2.5">±1.3</tspan></text>
<text x="3391.6" y="1227.5" font-family="'Liberation Serif',serif" font-size="18.6" text-anchor="middle">69.32<tspan font-size="13.5" dy="2.5">±2.8</tspan></text>
<text x="3499.4" y="1227.5" font-family="'Liberation Serif',serif" font-size="18.6" text-anchor="middle">64.11<tspan font-size="13.5" dy="2.5">±1.7</tspan></text>
<text x="3597.4" y="1227.5" font-family="'Liberation Serif',serif" font-size="18.6" text-anchor="middle">53.67<tspan font-size="13.5" dy="2.5">±1.6</tspan></text>
<text x="3694.8" y="1227.5" font-family="'Liberation Serif',serif" font-size="18.6" text-anchor="middle">79.31<tspan font-size="13.5" dy="2.5">±0.8</tspan></text>
<text x="3793.3" y="1227.5" font-family="'Liberation Serif',serif" font-size="18.6" text-anchor="middle">83.75<tspan font-size="13.5" dy="2.5">±1.1</tspan></text>
<text x="3890.7" y="1227.5" font-family="'Liberation Serif',serif" font-size="18.6" text-anchor="middle">85.64<tspan font-size="13.5" dy="2.5">±2.1</tspan></text>
<text x="2950.0" y="1227.5" font-size="18.6" font-family="'Liberation Serif', serif" font-weight="bold" text-anchor="middle"># LN 1</text>
<text x="3047" y="1249.8" font-family="'Liberation Serif',serif" font-size="18.6" text-anchor="middle">76.72<tspan font-size="13.5" dy="2.5">±0.9</tspan></text>
<text x="3166.1" y="1249.8" font-family="'Liberation Serif',serif" font-size="18.6" text-anchor="middle">81.36<tspan font-size="13.5" dy="2.5">±1.0</tspan></text>
<text x="3283" y="1249.8" font-family="'Liberation Serif',serif" font-size="18.6" text-anchor="middle">83.33<tspan font-size="13.5" dy="2.5">±0.7</tspan></text>
<text x="3391.6" y="1249.8" font-family="'Liberation Serif',serif" font-size="18.6" text-anchor="middle">71.49<tspan font-size="13.5" dy="2.5">±1.5</tspan></text>
<text x="3499.4" y="1249.8" font-family="'Liberation Serif',serif" font-size="18.6" text-anchor="middle">65.64<tspan font-size="13.5" dy="2.5">±0.9</tspan></text>
<text x="3597.4" y="1249.8" font-family="'Liberation Serif',serif" font-size="18.6" text-anchor="middle">58.65<tspan font-size="13.5" dy="2.5">±2.2</tspan></text>
<text x="3694.8" y="1249.8" font-family="'Liberation Serif',serif" font-size="18.6" text-anchor="middle">80.01<tspan font-size="13.5" dy="2.5">±0.6</tspan></text>
<text x="3793.3" y="1249.8" font-family="'Liberation Serif',serif" font-size="18.6" text-anchor="middle">84.34<tspan font-size="13.5" dy="2.5">±0.9</tspan></text>
<text x="3890.7" y="1249.8" font-family="'Liberation Serif',serif" font-size="18.6" text-anchor="middle">86.18<tspan font-size="13.5" dy="2.5">±1.7</tspan></text>
<text x="2950.0" y="1249.8" font-size="18.6" font-family="'Liberation Serif', serif" font-weight="bold" text-anchor="middle"># LN 3</text>
<text x="3047" y="1271.5" font-family="'Liberation Serif',serif" font-size="18.6" text-anchor="middle">80.95<tspan font-size="13.5" dy="2.5">±1.1</tspan></text>
<text x="3166.1" y="1271.5" font-family="'Liberation Serif',serif" font-size="18.6" text-anchor="middle">83.74<tspan font-size="13.5" dy="2.5">±0.4</tspan></text>
<text x="3283" y="1271.5" font-family="'Liberation Serif',serif" font-size="18.6" text-anchor="middle">86.31<tspan font-size="13.5" dy="2.5">±0.5</tspan></text>
<text x="3391.6" y="1271.5" font-family="'Liberation Serif',serif" font-size="18.6" text-anchor="middle">76.89<tspan font-size="13.5" dy="2.5">±0.9</tspan></text>
<text x="3499.4" y="1271.5" font-family="'Liberation Serif',serif" font-size="18.6" text-anchor="middle">66.79<tspan font-size="13.5" dy="2.5">±0.3</tspan></text>
<text x="3597.4" y="1271.5" font-family="'Liberation Serif',serif" font-size="18.6" text-anchor="middle">61.03<tspan font-size="13.5" dy="2.5">±0.7</tspan></text>
<text x="3694.8" y="1271.5" font-family="'Liberation Serif',serif" font-size="18.6" text-anchor="middle">81.39<tspan font-size="13.5" dy="2.5">±0.4</tspan></text>
<text x="3793.3" y="1271.5" font-family="'Liberation Serif',serif" font-size="18.6" text-anchor="middle">85.69<tspan font-size="13.5" dy="2.5">±0.3</tspan></text>
<text x="3890.7" y="1271.5" font-family="'Liberation Serif',serif" font-size="18.6" text-anchor="middle">91.14<tspan font-size="13.5" dy="2.5">±0.3</tspan></text>
<text x="2950.0" y="1271.5" font-size="18.6" font-family="'Liberation Serif', serif" font-weight="bold" text-anchor="middle"># LN 5</text>
<text x="2897" y="770.2" font-family="'Liberation Serif',serif" font-size="18.6" font-style="italic">T<tspan font-style="normal" font-size="13.5" dy="3">1</tspan></text>
<text x="2897" y="792.4" font-family="'Liberation Serif',serif" font-size="18.6" font-style="italic">T<tspan font-style="normal" font-size="13.5" dy="3">2</tspan></text>
<text x="2897" y="814.6" font-family="'Liberation Serif',serif" font-size="18.6" font-style="italic">T<tspan font-style="normal" font-size="13.5" dy="3">3</tspan></text>
<text x="2897" y="836.8" font-family="'Liberation Serif',serif" font-size="18.6" font-style="italic">T<tspan font-style="normal" font-size="13.5" dy="3">4</tspan></text>
<text x="2822" y="1251" font-family="'Liberation Serif',serif" font-size="18.6">PKD<tspan font-size="12.5" dy="3">Llama</tspan></text>
<rect x="2812.1" y="1292.6" width="635.5" height="59.6" fill="#a0a0c8" rx="7"/>
<text x="2821.5" y="1334.1" font-size="36" font-weight="bold" textLength="588.2" lengthAdjust="spacingAndGlyphs">Ablation Study and Sensitivity Analysis</text>
<text x="2831.8" y="1392.6" font-size="24.5" font-weight="bold" textLength="190.8" lengthAdjust="spacingAndGlyphs">Module Evaluation</text>
<line x1="2842.2" y1="1417.0" x2="3917.7" y2="1417.0" stroke="#111" stroke-width="2" />
<line x1="2842.2" y1="1455.9" x2="3917.7" y2="1455.9" stroke="#111" stroke-width="1.4" />
<line x1="2842.2" y1="1567.3" x2="3917.7" y2="1567.3" stroke="#111" stroke-width="2" />
<line x1="3032.4" y1="1424.0" x2="3032.4" y2="1450.0" stroke="#333" stroke-width="1.3" />
<line x1="3032.4" y1="1463.0" x2="3032.4" y2="1562.0" stroke="#333" stroke-width="1.3" />
<line x1="3264.6" y1="1424.0" x2="3264.6" y2="1450.0" stroke="#333" stroke-width="1.3" />
<line x1="3264.6" y1="1463.0" x2="3264.6" y2="1562.0" stroke="#333" stroke-width="1.3" />
<line x1="3384.8" y1="1424.0" x2="3384.8" y2="1450.0" stroke="#333" stroke-width="1.3" />
<line x1="3384.8" y1="1463.0" x2="3384.8" y2="1562.0" stroke="#333" stroke-width="1.3" />
<line x1="3565.2" y1="1424.0" x2="3565.2" y2="1450.0" stroke="#333" stroke-width="1.3" />
<line x1="3565.2" y1="1463.0" x2="3565.2" y2="1562.0" stroke="#333" stroke-width="1.3" />
<line x1="3797.4" y1="1424.0" x2="3797.4" y2="1450.0" stroke="#333" stroke-width="1.3" />
<line x1="3797.4" y1="1463.0" x2="3797.4" y2="1562.0" stroke="#333" stroke-width="1.3" />
<text x="2936.5" y="1443.9" font-size="21" font-family="'Liberation Serif', serif" font-weight="bold" text-anchor="middle">Dataset/Modeule</text>
<text x="3069.2" y="1443.9" font-size="21" font-family="'Liberation Serif', serif" font-weight="bold" text-anchor="middle">GTA</text>
<text x="3144.4" y="1443.9" font-size="21" font-family="'Liberation Serif', serif" font-weight="bold" text-anchor="middle">DNS</text>
<text x="3324.2" y="1443.9" font-size="21" font-family="'Liberation Serif', serif" font-weight="bold" text-anchor="middle">Accuracy</text>
<text x="3474.5" y="1443.9" font-size="21" font-family="'Liberation Serif', serif" font-weight="bold" text-anchor="middle">Dataset/Module</text>
<text x="3602.5" y="1443.9" font-size="21" font-family="'Liberation Serif', serif" font-weight="bold" text-anchor="middle">GTA</text>
<text x="3677.7" y="1443.9" font-size="21" font-family="'Liberation Serif', serif" font-weight="bold" text-anchor="middle">DNS</text>
<text x="3857.0" y="1443.9" font-size="21" font-family="'Liberation Serif', serif" font-weight="bold" text-anchor="middle">Accuracy</text>
<text x="3198.6" y="1443.9" font-family="'Liberation Serif',serif" font-size="22" font-style="italic">V<tspan font-size="15" dy="4">PR</tspan></text>
<text x="3733.4" y="1443.9" font-family="'Liberation Serif',serif" font-size="22" font-style="italic">V<tspan font-size="15" dy="4">PR</tspan></text>
<text x="2936.5" y="1517.5" font-family="'Liberation Serif',serif" font-size="21.5" font-weight="bold" text-anchor="middle">C<tspan font-size="16.8">O</tspan><tspan font-size="16.8">R</tspan><tspan font-size="16.8">A</tspan></text>
<text x="3474.5" y="1505.5" font-family="'Liberation Serif',serif" font-size="21.5" font-weight="bold" text-anchor="middle">A<tspan font-size="16.8">M</tspan><tspan font-size="16.8">A</tspan><tspan font-size="16.8">Z</tspan><tspan font-size="16.8">O</tspan><tspan font-size="16.8">N</tspan></text>
<text x="3474.5" y="1529.6" font-family="'Liberation Serif',serif" font-size="21.5" font-weight="bold" text-anchor="middle">R<tspan font-size="16.8">A</tspan><tspan font-size="16.8">T</tspan><tspan font-size="16.8">I</tspan><tspan font-size="16.8">N</tspan><tspan font-size="16.8">G</tspan><tspan font-size="16.8">S</tspan></text>
<path d="M3065.2,1467.8 Q3068.2,1474.8 3072.2,1482.8" fill="none" stroke="#111" stroke-width="3.4" stroke-linecap="round"/>
<path d="M3074.2,1467.8 Q3069.2,1473.8 3064.2,1482.8" fill="none" stroke="#111" stroke-width="2.2" stroke-linecap="round"/>
<path d="M3140.4,1467.8 Q3143.4,1474.8 3147.4,1482.8" fill="none" stroke="#111" stroke-width="3.4" stroke-linecap="round"/>
<path d="M3149.4,1467.8 Q3144.4,1473.8 3139.4,1482.8" fill="none" stroke="#111" stroke-width="2.2" stroke-linecap="round"/>
<path d="M3216.6,1467.8 Q3219.6,1474.8 3223.6,1482.8" fill="none" stroke="#111" stroke-width="3.4" stroke-linecap="round"/>
<path d="M3225.6,1467.8 Q3220.6,1473.8 3215.6,1482.8" fill="none" stroke="#111" stroke-width="2.2" stroke-linecap="round"/>
<path d="M3598.5,1467.8 Q3601.5,1474.8 3605.5,1482.8" fill="none" stroke="#111" stroke-width="3.4" stroke-linecap="round"/>
<path d="M3607.5,1467.8 Q3602.5,1473.8 3597.5,1482.8" fill="none" stroke="#111" stroke-width="2.2" stroke-linecap="round"/>
<path d="M3673.7,1467.8 Q3676.7,1474.8 3680.7,1482.8" fill="none" stroke="#111" stroke-width="3.4" stroke-linecap="round"/>
<path d="M3682.7,1467.8 Q3677.7,1473.8 3672.7,1482.8" fill="none" stroke="#111" stroke-width="2.2" stroke-linecap="round"/>
<path d="M3751.4,1467.8 Q3754.4,1474.8 3758.4,1482.8" fill="none" stroke="#111" stroke-width="3.4" stroke-linecap="round"/>
<path d="M3760.4,1467.8 Q3755.4,1473.8 3750.4,1482.8" fill="none" stroke="#111" stroke-width="2.2" stroke-linecap="round"/>
<path d="M3065.2,1492.6 Q3068.2,1499.6 3072.2,1507.6" fill="none" stroke="#111" stroke-width="3.4" stroke-linecap="round"/>
<path d="M3074.2,1492.6 Q3069.2,1498.6 3064.2,1507.6" fill="none" stroke="#111" stroke-width="2.2" stroke-linecap="round"/>
<path d="M3140.4,1492.6 Q3143.4,1499.6 3147.4,1507.6" fill="none" stroke="#111" stroke-width="3.4" stroke-linecap="round"/>
<path d="M3149.4,1492.6 Q3144.4,1498.6 3139.4,1507.6" fill="none" stroke="#111" stroke-width="2.2" stroke-linecap="round"/>
<path d="M3214.6,1499.6 L3218.6,1506.6 Q3221.6,1497.6 3227.6,1491.6" fill="none" stroke="#111" stroke-width="2.6" stroke-linecap="round" stroke-linejoin="round"/>
<path d="M3598.5,1492.6 Q3601.5,1499.6 3605.5,1507.6" fill="none" stroke="#111" stroke-width="3.4" stroke-linecap="round"/>
<path d="M3607.5,1492.6 Q3602.5,1498.6 3597.5,1507.6" fill="none" stroke="#111" stroke-width="2.2" stroke-linecap="round"/>
<path d="M3673.7,1492.6 Q3676.7,1499.6 3680.7,1507.6" fill="none" stroke="#111" stroke-width="3.4" stroke-linecap="round"/>
<path d="M3682.7,1492.6 Q3677.7,1498.6 3672.7,1507.6" fill="none" stroke="#111" stroke-width="2.2" stroke-linecap="round"/>
<path d="M3749.4,1499.6 L3753.4,1506.6 Q3756.4,1497.6 3762.4,1491.6" fill="none" stroke="#111" stroke-width="2.6" stroke-linecap="round" stroke-linejoin="round"/>
<path d="M3065.2,1517 Q3068.2,1524 3072.2,1532" fill="none" stroke="#111" stroke-width="3.4" stroke-linecap="round"/>
<path d="M3074.2,1517 Q3069.2,1523 3064.2,1532" fill="none" stroke="#111" stroke-width="2.2" stroke-linecap="round"/>
<path d="M3138.4,1524 L3142.4,1531 Q3145.4,1522 3151.4,1516" fill="none" stroke="#111" stroke-width="2.6" stroke-linecap="round" stroke-linejoin="round"/>
<path d="M3214.6,1524 L3218.6,1531 Q3221.6,1522 3227.6,1516" fill="none" stroke="#111" stroke-width="2.6" stroke-linecap="round" stroke-linejoin="round"/>
<path d="M3598.5,1517 Q3601.5,1524 3605.5,1532" fill="none" stroke="#111" stroke-width="3.4" stroke-linecap="round"/>
<path d="M3607.5,1517 Q3602.5,1523 3597.5,1532" fill="none" stroke="#111" stroke-width="2.2" stroke-linecap="round"/>
<path d="M3671.7,1524 L3675.7,1531 Q3678.7,1522 3684.7,1516" fill="none" stroke="#111" stroke-width="2.6" stroke-linecap="round" stroke-linejoin="round"/>
<path d="M3749.4,1524 L3753.4,1531 Q3756.4,1522 3762.4,1516" fill="none" stroke="#111" stroke-width="2.6" stroke-linecap="round" stroke-linejoin="round"/>
<path d="M3063.2,1548.4 L3067.2,1555.4 Q3070.2,1546.4 3076.2,1540.4" fill="none" stroke="#111" stroke-width="2.6" stroke-linecap="round" stroke-linejoin="round"/>
<path d="M3138.4,1548.4 L3142.4,1555.4 Q3145.4,1546.4 3151.4,1540.4" fill="none" stroke="#111" stroke-width="2.6" stroke-linecap="round" stroke-linejoin="round"/>
<path d="M3214.6,1548.4 L3218.6,1555.4 Q3221.6,1546.4 3227.6,1540.4" fill="none" stroke="#111" stroke-width="2.6" stroke-linecap="round" stroke-linejoin="round"/>
<path d="M3596.5,1548.4 L3600.5,1555.4 Q3603.5,1546.4 3609.5,1540.4" fill="none" stroke="#111" stroke-width="2.6" stroke-linecap="round" stroke-linejoin="round"/>
<path d="M3671.7,1548.4 L3675.7,1555.4 Q3678.7,1546.4 3684.7,1540.4" fill="none" stroke="#111" stroke-width="2.6" stroke-linecap="round" stroke-linejoin="round"/>
<path d="M3749.4,1548.4 L3753.4,1555.4 Q3756.4,1546.4 3762.4,1540.4" fill="none" stroke="#111" stroke-width="2.6" stroke-linecap="round" stroke-linejoin="round"/>
<text x="3324.2" y="1481.8" font-size="22" font-family="'Liberation Serif', serif" text-anchor="middle">45.02</text>
<path d="M3290.2,1506.6 L3290.2,1494.6 M3295.2,1506.6 L3295.2,1494.6 M3286.2,1496.6 L3292.7,1488.6 L3299.2,1496.6" fill="none" stroke="#111" stroke-width="1.4" />
<text x="3332.2" y="1506.6" font-size="22" font-family="'Liberation Serif', serif" text-anchor="middle">26.94</text>
<path d="M3290.2,1531 L3290.2,1519 M3295.2,1531 L3295.2,1519 M3286.2,1521 L3292.7,1513 L3299.2,1521" fill="none" stroke="#111" stroke-width="1.4" />
<text x="3332.2" y="1531.0" font-size="22" font-family="'Liberation Serif', serif" text-anchor="middle">30.99</text>
<path d="M3290.2,1555.4 L3290.2,1543.4 M3295.2,1555.4 L3295.2,1543.4 M3286.2,1545.4 L3292.7,1537.4 L3299.2,1545.4" fill="none" stroke="#111" stroke-width="1.4" />
<text x="3332.2" y="1555.4" font-size="22" font-family="'Liberation Serif', serif" text-anchor="middle">41.14</text>
<text x="3857.0" y="1481.8" font-size="22" font-family="'Liberation Serif', serif" text-anchor="middle">42.01</text>
<path d="M3823,1506.6 L3823,1494.6 M3828,1506.6 L3828,1494.6 M3819,1496.6 L3825.5,1488.6 L3832,1496.6" fill="none" stroke="#111" stroke-width="1.4" />
<text x="3865.0" y="1506.6" font-size="22" font-family="'Liberation Serif', serif" text-anchor="middle">13.02</text>
<path d="M3823,1531 L3823,1519 M3828,1531 L3828,1519 M3819,1521 L3825.5,1513 L3832,1521" fill="none" stroke="#111" stroke-width="1.4" />
<text x="3865.0" y="1531.0" font-size="22" font-family="'Liberation Serif', serif" text-anchor="middle">16.96</text>
<path d="M3823,1555.4 L3823,1543.4 M3828,1555.4 L3828,1543.4 M3819,1545.4 L3825.5,1537.4 L3832,1545.4" fill="none" stroke="#111" stroke-width="1.4" />
<text x="3865.0" y="1555.4" font-size="22" font-family="'Liberation Serif', serif" text-anchor="middle">23.97</text>
<text x="2837.0" y="1621.7" font-size="24.5" font-weight="bold" textLength="181.4" lengthAdjust="spacingAndGlyphs">Reward Functions</text>
<text x="3408.2" y="1621.7" font-size="24.5" font-weight="bold" textLength="218.2" lengthAdjust="spacingAndGlyphs">Number of Neighbors</text>
<text x="2840.6" y="1655.4" font-size="22" font-family="'Liberation Serif', serif" font-weight="bold" font-style="italic">Accuracy</text>
<rect x="2879.5" y="1669.4" width="468.0" height="308.9" fill="none" stroke="#222" stroke-width="1.3"/>
<line x1="2879.5" y1="1668.8" x2="2874.5" y2="1668.8" stroke="#222" stroke-width="1" />
<text x="2871.0" y="1675.8" font-size="20" font-family="'Liberation Serif', serif" text-anchor="end">90</text>
<line x1="2879.5" y1="1734.8" x2="2874.5" y2="1734.8" stroke="#222" stroke-width="1" />
<text x="2871.0" y="1741.8" font-size="20" font-family="'Liberation Serif', serif" text-anchor="end">70</text>
<line x1="2879.5" y1="1800.8" x2="2874.5" y2="1800.8" stroke="#222" stroke-width="1" />
<text x="2871.0" y="1807.8" font-size="20" font-family="'Liberation Serif', serif" text-anchor="end">50</text>
<line x1="2879.5" y1="1866.8" x2="2874.5" y2="1866.8" stroke="#222" stroke-width="1" />
<text x="2871.0" y="1873.8" font-size="20" font-family="'Liberation Serif', serif" text-anchor="end">30</text>
<line x1="2879.5" y1="1932.8" x2="2874.5" y2="1932.8" stroke="#222" stroke-width="1" />
<text x="2871.0" y="1939.8" font-size="20" font-family="'Liberation Serif', serif" text-anchor="end">10</text>
<line x1="2900.2" y1="1978.3" x2="2900.2" y2="1983.3" stroke="#222" stroke-width="1" />
<text x="2900.2" y="2005.5" font-size="20.5" font-family="'Liberation Serif', serif" text-anchor="middle">0</text>
<line x1="2985.8" y1="1978.3" x2="2985.8" y2="1983.3" stroke="#222" stroke-width="1" />
<text x="2985.8" y="2005.5" font-size="20.5" font-family="'Liberation Serif', serif" text-anchor="middle">40</text>
<line x1="3071.5" y1="1978.3" x2="3071.5" y2="1983.3" stroke="#222" stroke-width="1" />
<text x="3071.5" y="2005.5" font-size="20.5" font-family="'Liberation Serif', serif" text-anchor="middle">80</text>
<line x1="3157.1" y1="1978.3" x2="3157.1" y2="1983.3" stroke="#222" stroke-width="1" />
<text x="3157.1" y="2005.5" font-size="20.5" font-family="'Liberation Serif', serif" text-anchor="middle">120</text>
<line x1="3242.8" y1="1978.3" x2="3242.8" y2="1983.3" stroke="#222" stroke-width="1" />
<text x="3242.8" y="2005.5" font-size="20.5" font-family="'Liberation Serif', serif" text-anchor="middle">160</text>
<line x1="3328.4" y1="1978.3" x2="3328.4" y2="1983.3" stroke="#222" stroke-width="1" />
<text x="3328.4" y="2005.5" font-size="20.5" font-family="'Liberation Serif', serif" text-anchor="middle">200</text>
<text x="3356.3" y="1986.0" font-size="20" font-family="'Liberation Serif', serif" font-weight="bold" font-style="italic">Epoch</text>
<path d="M2900.2,1959.2 L2902.3,1793.9 L2904.5,1795.6 L2906.6,1805.6 L2908.8,1800.2 L2910.9,1800.3 L2913.0,1795.6 L2915.2,1792.2 L2917.3,1805.2 L2919.5,1805.8 L2921.6,1789.1 L2923.8,1796.3 L2925.9,1789.1 L2928.0,1803.4 L2930.2,1793.9 L2932.3,1787.7 L2934.5,1796.7 L2936.6,1781.8 L2938.7,1782.0 L2940.9,1798.5 L2943.0,1797.9 L2945.2,1786.9 L2947.3,1778.3 L2949.4,1788.6 L2951.6,1791.2 L2953.7,1786.4 L2955.9,1793.4 L2958.0,1788.9 L2960.1,1783.9 L2962.3,1782.0 L2964.4,1786.5 L2966.6,1785.8 L2968.7,1785.3 L2970.9,1779.8 L2973.0,1782.5 L2975.1,1790.5 L2977.3,1771.3 L2979.4,1773.9 L2981.6,1769.3 L2983.7,1775.3 L2985.8,1756.4 L2988.0,1756.1 L2990.1,1767.7 L2992.3,1760.6 L2994.4,1749.9 L2996.5,1750.2 L2998.7,1746.0 L3000.8,1745.8 L3003.0,1740.6 L3005.1,1738.5 L3007.2,1737.5 L3009.4,1733.0 L3011.5,1728.5 L3013.7,1725.7 L3015.8,1724.5 L3018.0,1722.8 L3020.1,1725.7 L3022.2,1724.5 L3024.4,1721.6 L3026.5,1723.6 L3028.7,1724.8 L3030.8,1722.8 L3032.9,1721.9 L3035.1,1722.1 L3037.2,1723.6 L3039.4,1723.2 L3041.5,1722.8 L3043.6,1721.4 L3045.8,1722.7 L3047.9,1723.4 L3050.1,1722.8 L3052.2,1725.2 L3054.4,1725.1 L3056.5,1721.6 L3058.6,1720.1 L3060.8,1722.1 L3062.9,1723.1 L3065.1,1724.3 L3067.2,1722.5 L3069.3,1719.9 L3071.5,1721.0 L3073.6,1722.2 L3075.8,1720.5 L3077.9,1723.7 L3080.0,1722.2 L3082.2,1719.9 L3084.3,1721.8 L3086.5,1722.4 L3088.6,1723.4 L3090.7,1721.9 L3092.9,1719.7 L3095.0,1724.7 L3097.2,1720.5 L3099.3,1720.3 L3101.5,1719.9 L3103.6,1720.7 L3105.7,1720.3 L3107.9,1721.8 L3110.0,1721.5 L3112.2,1722.2 L3114.3,1724.1 L3116.4,1719.8 L3118.6,1721.3 L3120.7,1723.3 L3122.9,1721.6 L3125.0,1721.7 L3127.1,1722.3 L3129.3,1722.3 L3131.4,1721.3 L3133.6,1720.8 L3135.7,1720.8 L3137.9,1721.6 L3140.0,1723.9 L3142.1,1722.8 L3144.3,1723.0 L3146.4,1720.8 L3148.6,1719.3 L3150.7,1719.6 L3152.8,1719.6 L3155.0,1719.5 L3157.1,1722.4 L3159.3,1719.3 L3161.4,1720.1 L3163.5,1723.2 L3165.7,1723.5 L3167.8,1723.5 L3170.0,1719.6 L3172.1,1722.2 L3174.2,1722.9 L3176.4,1720.1 L3178.5,1721.6 L3180.7,1723.0 L3182.8,1722.5 L3185.0,1720.5 L3187.1,1722.4 L3189.2,1721.8 L3191.4,1719.5 L3193.5,1720.8 L3195.7,1721.5 L3197.8,1720.6 L3199.9,1723.0 L3202.1,1721.0 L3204.2,1720.8 L3206.4,1722.0 L3208.5,1722.4 L3210.6,1718.2 L3212.8,1720.2 L3214.9,1721.7 L3217.1,1719.6 L3219.2,1718.5 L3221.3,1722.6 L3223.5,1722.6 L3225.6,1721.9 L3227.8,1718.9 L3229.9,1721.8 L3232.1,1718.9 L3234.2,1719.0 L3236.3,1719.7 L3238.5,1721.4 L3240.6,1717.4 L3242.8,1718.4 L3244.9,1719.9 L3247.0,1721.4 L3249.2,1719.2 L3251.3,1720.5 L3253.5,1719.5 L3255.6,1720.9 L3257.7,1719.3 L3259.9,1722.3 L3262.0,1721.0 L3264.2,1717.5 L3266.3,1718.0 L3268.5,1721.0 L3270.6,1718.1 L3272.7,1721.0 L3274.9,1717.6 L3277.0,1718.7 L3279.2,1720.4 L3281.3,1721.3 L3283.4,1722.5 L3285.6,1718.0 L3287.7,1722.4 L3289.9,1718.3 L3292.0,1717.5 L3294.1,1719.6 L3296.3,1721.7 L3298.4,1718.0 L3300.6,1717.4 L3302.7,1718.9 L3304.8,1719.9 L3307.0,1720.6 L3309.1,1720.8 L3311.3,1721.5 L3313.4,1719.0 L3315.6,1720.3 L3317.7,1721.6 L3319.8,1722.0 L3322.0,1719.1 L3324.1,1721.0 L3326.3,1720.0" fill="none" stroke="#ff8c00" stroke-width="2" />
<path d="M2900.2,1959.2 L2902.3,1720.8 L2904.5,1735.5 L2906.6,1735.0 L2908.8,1722.7 L2910.9,1724.3 L2913.0,1725.4 L2915.2,1731.4 L2917.3,1726.5 L2919.5,1726.4 L2921.6,1726.9 L2923.8,1733.8 L2925.9,1729.3 L2928.0,1730.0 L2930.2,1724.5 L2932.3,1720.0 L2934.5,1720.8 L2936.6,1727.5 L2938.7,1729.1 L2940.9,1732.0 L2943.0,1735.9 L2945.2,1736.0 L2947.3,1728.8 L2949.4,1731.2 L2951.6,1730.2 L2953.7,1721.7 L2955.9,1727.8 L2958.0,1727.2 L2960.1,1732.6 L2962.3,1736.1 L2964.4,1731.1 L2966.6,1734.2 L2968.7,1728.0 L2970.9,1720.0 L2973.0,1725.3 L2975.1,1733.4 L2977.3,1721.7 L2979.4,1723.3 L2981.6,1724.3 L2983.7,1721.5 L2985.8,1723.9 L2988.0,1723.4 L2990.1,1730.6 L2992.3,1720.3 L2994.4,1720.6 L2996.5,1733.8 L2998.7,1724.0 L3000.8,1724.7 L3003.0,1728.8 L3005.1,1727.7 L3007.2,1728.4 L3009.4,1721.2 L3011.5,1728.2 L3013.7,1722.7 L3015.8,1730.6 L3018.0,1721.9 L3020.1,1721.6 L3022.2,1728.8 L3024.4,1727.1 L3026.5,1721.3 L3028.7,1724.5 L3030.8,1728.4 L3032.9,1732.8 L3035.1,1731.1 L3037.2,1724.9 L3039.4,1733.7 L3041.5,1721.5 L3043.6,1732.0 L3045.8,1721.4 L3047.9,1731.3 L3050.1,1720.7 L3052.2,1724.8 L3054.4,1728.1 L3056.5,1727.9 L3058.6,1725.7 L3060.8,1726.7 L3062.9,1731.3 L3065.1,1733.0 L3067.2,1728.0 L3069.3,1721.0 L3071.5,1726.2 L3073.6,1735.2 L3075.8,1722.9 L3077.9,1724.5 L3080.0,1721.5 L3082.2,1733.3 L3084.3,1724.2 L3086.5,1735.5 L3088.6,1725.7 L3090.7,1731.9 L3092.9,1732.7 L3095.0,1722.0 L3097.2,1734.7 L3099.3,1727.8 L3101.5,1722.4 L3103.6,1732.4 L3105.7,1733.0 L3107.9,1721.9 L3110.0,1729.5 L3112.2,1724.6 L3114.3,1735.9 L3116.4,1730.5 L3118.6,1733.6 L3120.7,1725.3 L3122.9,1735.1 L3125.0,1720.7 L3127.1,1736.0 L3129.3,1724.4 L3131.4,1736.1 L3133.6,1732.2 L3135.7,1713.8 L3137.9,1716.4 L3140.0,1716.3 L3142.1,1714.2 L3144.3,1715.5 L3146.4,1716.8 L3148.6,1713.1 L3150.7,1716.4 L3152.8,1716.8 L3155.0,1715.6 L3157.1,1714.5 L3159.3,1714.0 L3161.4,1716.5 L3163.5,1715.6 L3165.7,1716.9 L3167.8,1715.2 L3170.0,1713.9 L3172.1,1714.0 L3174.2,1713.4 L3176.4,1714.0 L3178.5,1713.6 L3180.7,1714.2 L3182.8,1715.1 L3185.0,1716.1 L3187.1,1714.4 L3189.2,1715.7 L3191.4,1716.6 L3193.5,1715.2 L3195.7,1713.5 L3197.8,1716.5 L3199.9,1714.7 L3202.1,1715.4 L3204.2,1714.9 L3206.4,1716.4 L3208.5,1713.2 L3210.6,1716.0 L3212.8,1714.6 L3214.9,1715.3 L3217.1,1716.9 L3219.2,1714.8 L3221.3,1716.4 L3223.5,1716.8 L3225.6,1716.8 L3227.8,1716.3 L3229.9,1716.6 L3232.1,1714.5 L3234.2,1715.0 L3236.3,1713.1 L3238.5,1713.3 L3240.6,1713.0 L3242.8,1716.1 L3244.9,1715.2 L3247.0,1716.0 L3249.2,1714.6 L3251.3,1714.5 L3253.5,1713.8 L3255.6,1714.2 L3257.7,1716.0 L3259.9,1715.3 L3262.0,1714.9 L3264.2,1717.0 L3266.3,1716.8 L3268.5,1715.4 L3270.6,1716.5 L3272.7,1714.1 L3274.9,1716.0 L3277.0,1716.6 L3279.2,1716.3 L3281.3,1716.1 L3283.4,1716.1 L3285.6,1714.9 L3287.7,1715.1 L3289.9,1715.8 L3292.0,1714.4 L3294.1,1716.1 L3296.3,1713.4 L3298.4,1713.2 L3300.6,1714.1 L3302.7,1715.3 L3304.8,1715.0 L3307.0,1714.7 L3309.1,1716.8 L3311.3,1715.3 L3313.4,1714.9 L3315.6,1716.3 L3317.7,1716.6 L3319.8,1713.8 L3322.0,1715.5 L3324.1,1714.9 L3326.3,1713.3" fill="none" stroke="#17bff0" stroke-width="2" />
<path d="M2900.2,1959.2 L2902.3,1773.7 L2904.5,1743.5 L2906.6,1739.7 L2908.8,1739.3 L2910.9,1748.6 L2913.0,1749.4 L2915.2,1735.8 L2917.3,1745.4 L2919.5,1745.8 L2921.6,1733.2 L2923.8,1741.9 L2925.9,1735.8 L2928.0,1741.8 L2930.2,1739.1 L2932.3,1747.2 L2934.5,1739.2 L2936.6,1735.3 L2938.7,1741.0 L2940.9,1737.4 L2943.0,1725.4 L2945.2,1735.4 L2947.3,1723.9 L2949.4,1726.7 L2951.6,1731.5 L2953.7,1735.9 L2955.9,1722.2 L2958.0,1728.6 L2960.1,1724.6 L2962.3,1721.9 L2964.4,1724.7 L2966.6,1721.3 L2968.7,1729.9 L2970.9,1723.2 L2973.0,1729.1 L2975.1,1709.7 L2977.3,1709.9 L2979.4,1713.6 L2981.6,1713.4 L2983.7,1713.0 L2985.8,1709.5 L2988.0,1712.0 L2990.1,1711.1 L2992.3,1712.6 L2994.4,1711.7 L2996.5,1712.2 L2998.7,1712.4 L3000.8,1711.3 L3003.0,1711.3 L3005.1,1709.8 L3007.2,1710.9 L3009.4,1709.7 L3011.5,1710.1 L3013.7,1709.4 L3015.8,1710.9 L3018.0,1713.3 L3020.1,1710.0 L3022.2,1709.6 L3024.4,1709.8 L3026.5,1711.4 L3028.7,1710.7 L3030.8,1713.0 L3032.9,1710.2 L3035.1,1711.4 L3037.2,1712.7 L3039.4,1713.7 L3041.5,1710.1 L3043.6,1709.4 L3045.8,1713.6 L3047.9,1710.3 L3050.1,1712.1 L3052.2,1713.3 L3054.4,1712.7 L3056.5,1710.5 L3058.6,1710.0 L3060.8,1713.8 L3062.9,1711.2 L3065.1,1713.8 L3067.2,1710.7 L3069.3,1712.5 L3071.5,1709.9 L3073.6,1709.5 L3075.8,1711.7 L3077.9,1709.4 L3080.0,1712.6 L3082.2,1713.7 L3084.3,1711.2 L3086.5,1713.9 L3088.6,1713.1 L3090.7,1712.1 L3092.9,1711.2 L3095.0,1713.3 L3097.2,1713.8 L3099.3,1710.0 L3101.5,1712.6 L3103.6,1709.6 L3105.7,1709.9 L3107.9,1712.3 L3110.0,1711.9 L3112.2,1711.6 L3114.3,1711.0 L3116.4,1711.3 L3118.6,1711.4 L3120.7,1711.1 L3122.9,1709.7 L3125.0,1711.7 L3127.1,1712.0 L3129.3,1710.7 L3131.4,1712.9 L3133.6,1712.6 L3135.7,1709.5 L3137.9,1711.6 L3140.0,1711.5 L3142.1,1714.0 L3144.3,1712.1 L3146.4,1711.3 L3148.6,1713.9 L3150.7,1711.2 L3152.8,1711.1 L3155.0,1713.7 L3157.1,1711.1 L3159.3,1711.9 L3161.4,1710.9 L3163.5,1712.4 L3165.7,1710.7 L3167.8,1710.6 L3170.0,1713.9 L3172.1,1713.7 L3174.2,1710.9 L3176.4,1709.6 L3178.5,1712.8 L3180.7,1711.9 L3182.8,1711.3 L3185.0,1712.5 L3187.1,1712.3 L3189.2,1712.6 L3191.4,1712.3 L3193.5,1711.3 L3195.7,1712.6 L3197.8,1712.3 L3199.9,1710.4 L3202.1,1713.9 L3204.2,1711.4 L3206.4,1710.6 L3208.5,1712.6 L3210.6,1713.0 L3212.8,1710.3 L3214.9,1712.9 L3217.1,1713.1 L3219.2,1712.0 L3221.3,1710.8 L3223.5,1713.5 L3225.6,1712.5 L3227.8,1712.5 L3229.9,1710.2 L3232.1,1712.0 L3234.2,1710.1 L3236.3,1713.2 L3238.5,1712.5 L3240.6,1711.0 L3242.8,1709.9 L3244.9,1711.9 L3247.0,1713.0 L3249.2,1713.5 L3251.3,1711.6 L3253.5,1713.1 L3255.6,1710.3 L3257.7,1710.1 L3259.9,1713.2 L3262.0,1712.7 L3264.2,1710.3 L3266.3,1711.0 L3268.5,1710.3 L3270.6,1712.4 L3272.7,1713.4 L3274.9,1712.7 L3277.0,1710.3 L3279.2,1712.8 L3281.3,1712.4 L3283.4,1712.1 L3285.6,1712.1 L3287.7,1712.1 L3289.9,1709.8 L3292.0,1713.3 L3294.1,1714.0 L3296.3,1709.7 L3298.4,1709.9 L3300.6,1709.5 L3302.7,1712.0 L3304.8,1709.6 L3307.0,1709.7 L3309.1,1713.0 L3311.3,1710.6 L3313.4,1710.1 L3315.6,1710.9 L3317.7,1711.6 L3319.8,1712.7 L3322.0,1712.4 L3324.1,1713.0 L3326.3,1713.7" fill="none" stroke="#0b8080" stroke-width="2" />
<rect x="3092.5" y="1854.9" width="243.1" height="109.9" fill="#fff" stroke="#ccc" stroke-width="1" rx="4"/>
<line x1="3101.3" y1="1874.1" x2="3148.0" y2="1874.1" stroke="#ff8c00" stroke-width="2.6" />
<line x1="3101.3" y1="1908.3" x2="3148.0" y2="1908.3" stroke="#17bff0" stroke-width="2.6" />
<line x1="3101.3" y1="1942.0" x2="3148.0" y2="1942.0" stroke="#0b8080" stroke-width="2.6" />
<text x="3160" y="1881" font-family="'Liberation Serif',serif" font-size="21"><tspan font-style="italic">R</tspan><tspan font-size="14" dy="4">1</tspan><tspan dy="-4"> = </tspan><tspan font-style="italic">A</tspan><tspan font-style="italic" font-size="14" dy="4">cc</tspan><tspan dy="-4"></tspan></text>
<text x="3155.8" y="1915" font-family="'Liberation Serif',serif" font-size="21"><tspan font-style="italic">R</tspan><tspan font-size="14" dy="4">2</tspan><tspan dy="-4"> = </tspan><tspan font-style="italic">A</tspan><tspan font-style="italic" font-size="14" dy="4">cc</tspan><tspan dy="-4"></tspan><tspan>- </tspan><tspan font-style="italic">L</tspan><tspan font-style="italic" font-size="14" dy="4">CE</tspan></text>
<text x="3155.8" y="1949" font-family="'Liberation Serif',serif" font-size="21"><tspan font-style="italic">R</tspan><tspan font-size="14" dy="4">3</tspan><tspan dy="-4"> = </tspan><tspan font-style="italic">A</tspan><tspan font-style="italic" font-size="14" dy="4">cc</tspan><tspan dy="-4"></tspan><tspan>- </tspan><tspan font-style="italic">L</tspan><tspan font-style="italic" font-size="14" dy="4">CE</tspan><tspan dy="-4">− </tspan><tspan font-style="italic">L</tspan><tspan font-style="italic" font-size="14" dy="4">DL</tspan></text>
<text x="3417.5" y="1662.1" font-size="22" font-family="'Liberation Serif', serif" font-weight="bold" font-style="italic">Accuracy</text>
<rect x="3454.8" y="1674.6" width="452.5" height="304.7" fill="none" stroke="#222" stroke-width="1.3"/>
<line x1="3454.8" y1="1682.3" x2="3449.8" y2="1682.3" stroke="#222" stroke-width="1" />
<text x="3446.0" y="1689.3" font-size="20" font-family="'Liberation Serif', serif" text-anchor="end">90</text>
<line x1="3454.8" y1="1733.6" x2="3449.8" y2="1733.6" stroke="#222" stroke-width="1" />
<text x="3446.0" y="1740.6" font-size="20" font-family="'Liberation Serif', serif" text-anchor="end">80</text>
<line x1="3454.8" y1="1784.9" x2="3449.8" y2="1784.9" stroke="#222" stroke-width="1" />
<text x="3446.0" y="1791.9" font-size="20" font-family="'Liberation Serif', serif" text-anchor="end">70</text>
<line x1="3454.8" y1="1836.3" x2="3449.8" y2="1836.3" stroke="#222" stroke-width="1" />
<text x="3446.0" y="1843.3" font-size="20" font-family="'Liberation Serif', serif" text-anchor="end">60</text>
<line x1="3454.8" y1="1887.6" x2="3449.8" y2="1887.6" stroke="#222" stroke-width="1" />
<text x="3446.0" y="1894.6" font-size="20" font-family="'Liberation Serif', serif" text-anchor="end">50</text>
<line x1="3454.8" y1="1938.9" x2="3449.8" y2="1938.9" stroke="#222" stroke-width="1" />
<text x="3446.0" y="1945.9" font-size="20" font-family="'Liberation Serif', serif" text-anchor="end">40</text>
<line x1="3475.6" y1="1979.3" x2="3475.6" y2="1984.3" stroke="#222" stroke-width="1" />
<text x="3475.6" y="2001.5" font-size="20.5" font-family="'Liberation Serif', serif" text-anchor="middle">1</text>
<line x1="3578.2" y1="1979.3" x2="3578.2" y2="1984.3" stroke="#222" stroke-width="1" />
<text x="3578.2" y="2001.5" font-size="20.5" font-family="'Liberation Serif', serif" text-anchor="middle">2</text>
<line x1="3681.8" y1="1979.3" x2="3681.8" y2="1984.3" stroke="#222" stroke-width="1" />
<text x="3681.8" y="2001.5" font-size="20.5" font-family="'Liberation Serif', serif" text-anchor="middle">3</text>
<line x1="3783.9" y1="1979.3" x2="3783.9" y2="1984.3" stroke="#222" stroke-width="1" />
<text x="3783.9" y="2001.5" font-size="20.5" font-family="'Liberation Serif', serif" text-anchor="middle">4</text>
<line x1="3886.5" y1="1979.3" x2="3886.5" y2="1984.3" stroke="#222" stroke-width="1" />
<text x="3886.5" y="2001.5" font-size="20.5" font-family="'Liberation Serif', serif" text-anchor="middle">5</text>
<text x="3918.0" y="1981.0" font-size="20" font-family="'Liberation Serif', serif" font-weight="bold" font-style="italic">K</text>
<path d="M3475.6,1843.5 L3578.2,1797.9 L3681.8,1740.9 L3783.9,1728.0 L3886.5,1752.3" fill="none" stroke="#1010ee" stroke-width="2" />
<path d="M3475.6,1735.7 L3578.2,1706.2 L3681.8,1688.1 L3783.9,1716.6 L3886.5,1709.8" fill="none" stroke="#ee1010" stroke-width="2" />
<path d="M3475.6,1966.4 L3578.2,1809.9 L3681.8,1772.0 L3783.9,1738.3 L3886.5,1752.3" fill="none" stroke="#108010" stroke-width="2" />
<path d="M3475.6,1826.4 L3578.2,1783.9 L3681.8,1780.8 L3783.9,1756.5 L3886.5,1772.0" fill="none" stroke="#1010ee" stroke-width="2" stroke-dasharray="6,4"/>
<path d="M3475.6,1924.9 L3578.2,1908.3 L3681.8,1850.8 L3783.9,1786.0 L3886.5,1752.8" fill="none" stroke="#ee1010" stroke-width="2" stroke-dasharray="6,4"/>
<path d="M3475.6,1906.8 L3578.2,1908.3 L3681.8,1814.5 L3783.9,1800.5 L3886.5,1781.3" fill="none" stroke="#108010" stroke-width="2" stroke-dasharray="6,4"/>
<path d="M3475.6,1940.5 L3578.2,1891.2 L3681.8,1854.9 L3783.9,1809.9 L3886.5,1796.4" fill="none" stroke="#f0c800" stroke-width="2" stroke-dasharray="6,4"/>
<circle cx="3475.6" cy="1843.5" r="6.5" fill="#1010ee" />
<circle cx="3578.2" cy="1797.9" r="6.5" fill="#1010ee" />
<circle cx="3681.8" cy="1740.9" r="6.5" fill="#1010ee" />
<circle cx="3783.9" cy="1728.0" r="6.5" fill="#1010ee" />
<circle cx="3886.5" cy="1752.3" r="6.5" fill="#1010ee" />
<rect x="3469.1" y="1729.2" width="13.0" height="13.0" fill="#ee1010"/>
<rect x="3571.7" y="1699.7" width="13.0" height="13.0" fill="#ee1010"/>
<rect x="3675.3" y="1681.6" width="13.0" height="13.0" fill="#ee1010"/>
<rect x="3777.4" y="1710.1" width="13.0" height="13.0" fill="#ee1010"/>
<rect x="3880.0" y="1703.3" width="13.0" height="13.0" fill="#ee1010"/>
<path d="M3475.6,1958.8760754638747 L3483.1,1972.8760754638747 L3468.1,1972.8760754638747 Z" fill="#108010" />
<path d="M3578.2,1802.350730797139 L3585.7,1816.350730797139 L3570.7,1816.350730797139 Z" fill="#108010" />
<path d="M3681.8,1764.5151342386234 L3689.3,1778.5151342386234 L3674.3,1778.5151342386234 Z" fill="#108010" />
<path d="M3783.9,1730.8259044262466 L3791.4,1744.8259044262466 L3776.4,1744.8259044262466 Z" fill="#108010" />
<path d="M3886.5,1744.8198921944645 L3894.0,1758.8198921944645 L3879.0,1758.8198921944645 Z" fill="#108010" />
<circle cx="3475.6" cy="1826.4" r="6.5" fill="#1010ee" />
<circle cx="3578.2" cy="1783.9" r="6.5" fill="#1010ee" />
<circle cx="3681.8" cy="1780.8" r="6.5" fill="#1010ee" />
<circle cx="3783.9" cy="1756.5" r="6.5" fill="#1010ee" />
<circle cx="3886.5" cy="1772.0" r="6.5" fill="#1010ee" />
<rect x="3469.1" y="1918.4" width="13.0" height="13.0" fill="#ee1010"/>
<rect x="3571.7" y="1901.8" width="13.0" height="13.0" fill="#ee1010"/>
<rect x="3675.3" y="1844.3" width="13.0" height="13.0" fill="#ee1010"/>
<rect x="3777.4" y="1779.5" width="13.0" height="13.0" fill="#ee1010"/>
<rect x="3880.0" y="1746.3" width="13.0" height="13.0" fill="#ee1010"/>
<path d="M3475.6,1899.272053488131 L3483.1,1913.272053488131 L3468.1,1913.272053488131 Z" fill="#108010" />
<path d="M3578.2,1900.826941017933 L3585.7,1914.826941017933 L3570.7,1914.826941017933 Z" fill="#108010" />
<path d="M3681.8,1807.015393386545 L3689.3,1821.015393386545 L3674.3,1821.015393386545 Z" fill="#108010" />
<path d="M3783.9,1793.021405618327 L3791.4,1807.021405618327 L3776.4,1807.021405618327 Z" fill="#108010" />
<path d="M3886.5,1773.8444594174355 L3894.0,1787.8444594174355 L3879.0,1787.8444594174355 Z" fill="#108010" />
<path d="M3483.1,1940.461283300508 L3469.1,1932.961283300508 L3469.1,1947.961283300508 Z" fill="#f0c800" />
<path d="M3585.7,1891.223178190111 L3571.7,1883.723178190111 L3571.7,1898.723178190111 Z" fill="#f0c800" />
<path d="M3689.3,1854.9424691613972 L3675.3,1847.4424691613972 L3675.3,1862.4424691613972 Z" fill="#f0c800" />
<path d="M3791.4,1809.850730797139 L3777.4,1802.350730797139 L3777.4,1817.350730797139 Z" fill="#f0c800" />
<path d="M3894.0,1796.3750388721883 L3880.0,1788.8750388721883 L3880.0,1803.8750388721883 Z" fill="#f0c800" />
<rect x="3750.2" y="1808.3" width="148.3" height="161.7" fill="#fff" stroke="#ccc" stroke-width="1" rx="4"/>
<line x1="3757.0" y1="1820.2" x2="3793.3" y2="1820.2" stroke="#1010ee" stroke-width="2" />
<circle cx="3775.0" cy="1820.2" r="5.5" fill="#1010ee" />
<text x="3807.8" y="1826.7" font-size="18.5" font-family="'Liberation Serif', serif">Cora</text>
<line x1="3757.0" y1="1843.0" x2="3793.3" y2="1843.0" stroke="#ee1010" stroke-width="2" />
<rect x="3769.5" y="1837.5" width="11.0" height="11.0" fill="#ee1010"/>
<text x="3807.8" y="1849.5" font-size="18.5" font-family="'Liberation Serif', serif">Pubmed</text>
<line x1="3757.0" y1="1865.3" x2="3793.3" y2="1865.3" stroke="#108010" stroke-width="2" />
<path d="M3775,1858.8 L3781.5,1870.8 L3768.5,1870.8 Z" fill="#108010" />
<text x="3807.8" y="1871.8" font-size="18.5" font-family="'Liberation Serif', serif">Wiki CS</text>
<line x1="3757.0" y1="1888.6" x2="3793.3" y2="1888.6" stroke="#1010ee" stroke-width="2" stroke-dasharray="6,4"/>
<circle cx="3775.0" cy="1888.6" r="5.5" fill="#1010ee" />
<text x="3807.8" y="1895.1" font-size="18.5" font-family="'Liberation Serif', serif">Texas</text>
<line x1="3757.0" y1="1910.9" x2="3793.3" y2="1910.9" stroke="#ee1010" stroke-width="2" stroke-dasharray="6,4"/>
<rect x="3769.5" y="1905.4" width="11.0" height="11.0" fill="#ee1010"/>
<text x="3807.8" y="1917.4" font-size="18.5" font-family="'Liberation Serif', serif">Cornell</text>
<line x1="3757.0" y1="1933.7" x2="3793.3" y2="1933.7" stroke="#108010" stroke-width="2" stroke-dasharray="6,4"/>
<path d="M3775,1927.2 L3781.5,1939.2 L3768.5,1939.2 Z" fill="#108010" />
<text x="3807.8" y="1940.2" font-size="18.5" font-family="'Liberation Serif', serif">Wisconsin</text>
<line x1="3757.0" y1="1957.0" x2="3793.3" y2="1957.0" stroke="#f0c800" stroke-width="2" stroke-dasharray="6,4"/>
<path d="M3781.5,1957 L3769.5,1950.5 L3769.5,1963.5 Z" fill="#f0c800" />
<text x="3807.8" y="1963.5" font-size="18.5" font-family="'Liberation Serif', serif">Washington</text>
<rect x="2812.1" y="2034.5" width="404.3" height="61.2" fill="#a0a0c8" rx="7"/>
<text x="2821.5" y="2077.0" font-size="36" font-weight="bold" textLength="361.7" lengthAdjust="spacingAndGlyphs">Running Time (seconds)</text>
<line x1="2827.7" y1="2122.1" x2="3931.7" y2="2122.1" stroke="#111" stroke-width="2" />
<line x1="2827.7" y1="2155.8" x2="3931.7" y2="2155.8" stroke="#111" stroke-width="1.3" />
<line x1="2827.7" y1="2188.4" x2="3931.7" y2="2188.4" stroke="#111" stroke-width="1.3" />
<line x1="2827.7" y1="2222.1" x2="3931.7" y2="2222.1" stroke="#111" stroke-width="1.3" />
<line x1="2827.7" y1="2254.8" x2="3931.7" y2="2254.8" stroke="#111" stroke-width="2" />
<line x1="3017.4" y1="2130.0" x2="3017.4" y2="2149.0" stroke="#333" stroke-width="1.2" />
<line x1="3153.2" y1="2130.0" x2="3153.2" y2="2149.0" stroke="#333" stroke-width="1.2" />
<line x1="3232.5" y1="2130.0" x2="3232.5" y2="2149.0" stroke="#333" stroke-width="1.2" />
<line x1="3325.8" y1="2130.0" x2="3325.8" y2="2149.0" stroke="#333" stroke-width="1.2" />
<line x1="3412.3" y1="2130.0" x2="3412.3" y2="2149.0" stroke="#333" stroke-width="1.2" />
<line x1="3498.9" y1="2130.0" x2="3498.9" y2="2149.0" stroke="#333" stroke-width="1.2" />
<line x1="3582.3" y1="2130.0" x2="3582.3" y2="2149.0" stroke="#333" stroke-width="1.2" />
<line x1="3700.0" y1="2130.0" x2="3700.0" y2="2149.0" stroke="#333" stroke-width="1.2" />
<line x1="3822.8" y1="2130.0" x2="3822.8" y2="2149.0" stroke="#333" stroke-width="1.2" />
<line x1="3017.4" y1="2162.1" x2="3017.4" y2="2181.1" stroke="#333" stroke-width="1.2" />
<line x1="3153.2" y1="2162.1" x2="3153.2" y2="2181.1" stroke="#333" stroke-width="1.2" />
<line x1="3232.5" y1="2162.1" x2="3232.5" y2="2181.1" stroke="#333" stroke-width="1.2" />
<line x1="3325.8" y1="2162.1" x2="3325.8" y2="2181.1" stroke="#333" stroke-width="1.2" />
<line x1="3412.3" y1="2162.1" x2="3412.3" y2="2181.1" stroke="#333" stroke-width="1.2" />
<line x1="3498.9" y1="2162.1" x2="3498.9" y2="2181.1" stroke="#333" stroke-width="1.2" />
<line x1="3582.3" y1="2162.1" x2="3582.3" y2="2181.1" stroke="#333" stroke-width="1.2" />
<line x1="3700.0" y1="2162.1" x2="3700.0" y2="2181.1" stroke="#333" stroke-width="1.2" />
<line x1="3822.8" y1="2162.1" x2="3822.8" y2="2181.1" stroke="#333" stroke-width="1.2" />
<line x1="3017.4" y1="2194.7" x2="3017.4" y2="2213.7" stroke="#333" stroke-width="1.2" />
<line x1="3153.2" y1="2194.7" x2="3153.2" y2="2213.7" stroke="#333" stroke-width="1.2" />
<line x1="3232.5" y1="2194.7" x2="3232.5" y2="2213.7" stroke="#333" stroke-width="1.2" />
<line x1="3325.8" y1="2194.7" x2="3325.8" y2="2213.7" stroke="#333" stroke-width="1.2" />
<line x1="3412.3" y1="2194.7" x2="3412.3" y2="2213.7" stroke="#333" stroke-width="1.2" />
<line x1="3498.9" y1="2194.7" x2="3498.9" y2="2213.7" stroke="#333" stroke-width="1.2" />
<line x1="3582.3" y1="2194.7" x2="3582.3" y2="2213.7" stroke="#333" stroke-width="1.2" />
<line x1="3700.0" y1="2194.7" x2="3700.0" y2="2213.7" stroke="#333" stroke-width="1.2" />
<line x1="3822.8" y1="2194.7" x2="3822.8" y2="2213.7" stroke="#333" stroke-width="1.2" />
<line x1="3017.4" y1="2227.9" x2="3017.4" y2="2246.9" stroke="#333" stroke-width="1.2" />
<line x1="3153.2" y1="2227.9" x2="3153.2" y2="2246.9" stroke="#333" stroke-width="1.2" />
<line x1="3232.5" y1="2227.9" x2="3232.5" y2="2246.9" stroke="#333" stroke-width="1.2" />
<line x1="3325.8" y1="2227.9" x2="3325.8" y2="2246.9" stroke="#333" stroke-width="1.2" />
<line x1="3412.3" y1="2227.9" x2="3412.3" y2="2246.9" stroke="#333" stroke-width="1.2" />
<line x1="3498.9" y1="2227.9" x2="3498.9" y2="2246.9" stroke="#333" stroke-width="1.2" />
<line x1="3582.3" y1="2227.9" x2="3582.3" y2="2246.9" stroke="#333" stroke-width="1.2" />
<line x1="3700.0" y1="2227.9" x2="3700.0" y2="2246.9" stroke="#333" stroke-width="1.2" />
<line x1="3822.8" y1="2227.9" x2="3822.8" y2="2246.9" stroke="#333" stroke-width="1.2" />
<text x="2921.5" y="2146.0" font-size="20" font-family="'Liberation Serif', serif" font-weight="bold" text-anchor="middle">Datasets / Methods</text>
<text x="3076.8" y="2146" font-family="'Liberation Serif',serif" font-size="20" font-weight="bold" font-style="italic">T<tspan font-style="normal" font-size="14" dy="3">1</tspan></text>
<text x="3184" y="2146" font-family="'Liberation Serif',serif" font-size="20" font-weight="bold" font-style="italic">T<tspan font-style="normal" font-size="14" dy="3">2</tspan></text>
<text x="3269.6" y="2146" font-family="'Liberation Serif',serif" font-size="20" font-weight="bold" font-style="italic">T<tspan font-style="normal" font-size="14" dy="3">3</tspan></text>
<text x="3360.3" y="2146" font-family="'Liberation Serif',serif" font-size="20" font-weight="bold" font-style="italic">T<tspan font-style="normal" font-size="14" dy="3">4</tspan></text>
<text x="3454.8" y="2146.0" font-size="20" font-family="'Liberation Serif', serif" font-weight="bold" text-anchor="middle">GCNII</text>
<text x="3540.3" y="2146.0" font-size="20" font-family="'Liberation Serif', serif" font-weight="bold" text-anchor="middle">EGNN</text>
<text x="3641.4" y="2146.0" font-size="20" font-family="'Liberation Serif', serif" font-weight="bold" text-anchor="middle">LLMGNN</text>
<text x="3761.1" y="2146.0" font-size="20" font-family="'Liberation Serif', serif" font-weight="bold" text-anchor="middle">GAugLLM</text>
<text x="3877.2" y="2146.0" font-size="20" font-family="'Liberation Serif', serif" font-weight="bold" text-anchor="middle">–</text>
<text x="2921.5" y="2210.7" font-size="20" font-family="'Liberation Serif', serif" font-weight="bold" text-anchor="middle">Datasets / Methods</text>
<text x="3084.8" y="2210.7" font-size="20" font-family="'Liberation Serif', serif" font-weight="bold" text-anchor="middle">Self-training</text>
<text x="3192.0" y="2210.7" font-size="20" font-family="'Liberation Serif', serif" font-weight="bold" text-anchor="middle">AGST</text>
<text x="3277.6" y="2210.7" font-size="20" font-family="'Liberation Serif', serif" font-weight="bold" text-anchor="middle">IceBerg</text>
<text x="3368.3" y="2210.7" font-size="20" font-family="'Liberation Serif', serif" font-weight="bold" text-anchor="middle">KDGA</text>
<text x="3454.8" y="2210.7" font-size="20" font-family="'Liberation Serif', serif" font-weight="bold" text-anchor="middle">MSKD</text>
<text x="3540.3" y="2210.7" font-size="20" font-family="'Liberation Serif', serif" font-weight="bold" text-anchor="middle">BGNN</text>
<text x="3641.4" y="2210.7" font-size="20" font-family="'Liberation Serif', serif" font-weight="bold" text-anchor="middle">MTAAM</text>
<text x="3761.1" y="2210.7" font-size="20" font-family="'Liberation Serif', serif" font-weight="bold" text-anchor="middle">FairGKD</text>
<text x="3877.2" y="2210.7" font-family="'Liberation Serif',serif" font-size="20" font-weight="bold" text-anchor="middle">PKD<tspan font-size="13" dy="3">Llama</tspan></text>
<text x="2921.5" y="2178.1" font-family="'Liberation Serif',serif" font-size="20" font-weight="bold" text-anchor="middle">C<tspan font-size="15.6">O</tspan><tspan font-size="15.6">R</tspan><tspan font-size="15.6">A</tspan></text>
<text x="3084.8" y="2178.1" font-size="20" font-family="'Liberation Serif', serif" text-anchor="middle">0.006</text>
<text x="3192.0" y="2178.1" font-size="20" font-family="'Liberation Serif', serif" text-anchor="middle">0.197</text>
<text x="3277.6" y="2178.1" font-size="20" font-family="'Liberation Serif', serif" text-anchor="middle">0.247</text>
<text x="3368.3" y="2178.1" font-size="20" font-family="'Liberation Serif', serif" text-anchor="middle">0.035</text>
<text x="3454.8" y="2178.1" font-size="20" font-family="'Liberation Serif', serif" text-anchor="middle">0.014</text>
<text x="3540.3" y="2178.1" font-size="20" font-family="'Liberation Serif', serif" text-anchor="middle">0.366</text>
<text x="3641.4" y="2178.1" font-size="20" font-family="'Liberation Serif', serif" text-anchor="middle">0.630</text>
<text x="3761.1" y="2178.1" font-size="20" font-family="'Liberation Serif', serif" text-anchor="middle">0.402</text>
<text x="3877.2" y="2178.1" font-size="20" font-family="'Liberation Serif', serif" text-anchor="middle">–</text>
<text x="2921.5" y="2243.9" font-family="'Liberation Serif',serif" font-size="20" font-weight="bold" text-anchor="middle">C<tspan font-size="15.6">O</tspan><tspan font-size="15.6">R</tspan><tspan font-size="15.6">A</tspan></text>
<text x="3084.8" y="2243.9" font-size="20" font-family="'Liberation Serif', serif" text-anchor="middle">0.016</text>
<text x="3192.0" y="2243.9" font-size="20" font-family="'Liberation Serif', serif" text-anchor="middle">0.018</text>
<text x="3277.6" y="2243.9" font-size="20" font-family="'Liberation Serif', serif" text-anchor="middle">0.011</text>
<text x="3368.3" y="2243.9" font-size="20" font-family="'Liberation Serif', serif" text-anchor="middle">3.911</text>
<text x="3454.8" y="2243.9" font-size="20" font-family="'Liberation Serif', serif" text-anchor="middle">2.289</text>
<text x="3540.3" y="2243.9" font-size="20" font-family="'Liberation Serif', serif" text-anchor="middle">1.001</text>
<text x="3641.4" y="2243.9" font-size="20" font-family="'Liberation Serif', serif" text-anchor="middle">3.318</text>
<text x="3761.1" y="2243.9" font-size="20" font-family="'Liberation Serif', serif" text-anchor="middle">4.100</text>
<text x="3877.2" y="2243.9" font-size="20" font-family="'Liberation Serif', serif" text-anchor="middle">7.314</text>
<rect x="2843.0" y="2429.5" width="19.0" height="19.0" fill="none" stroke="#000" stroke-width="3.6"/>
<rect x="2843.0" y="2590.3" width="19.0" height="19.0" fill="none" stroke="#000" stroke-width="3.6"/>
<text x="2879.5" y="2450.2" font-size="33" textLength="996.7" lengthAdjust="spacingAndGlyphs">PKD outperforms almost all advanced GNNs and KD methods for few-</text>
<text x="2879.5" y="2499.4" font-size="33" textLength="912.2" lengthAdjust="spacingAndGlyphs" xml:space="preserve">shot node classification while using only a few node labels.  <tspan font-weight="bold">One</tspan></text>
<text x="2879.5" y="2547.6" font-size="33" font-weight="bold" textLength="614.7" lengthAdjust="spacingAndGlyphs">limitation is that it is designed for TAGs.</text>
<text x="2879.5" y="2609.8" font-size="33" textLength="1033" lengthAdjust="spacingAndGlyphs">We plan to further explore more efficient LLM-GNN synergy mechanisms</text>
<text x="2879.5" y="2657.5" font-size="33" textLength="484.6" lengthAdjust="spacingAndGlyphs">and extend beyond TAG datasets.</text>
</svg>
</body></html>
